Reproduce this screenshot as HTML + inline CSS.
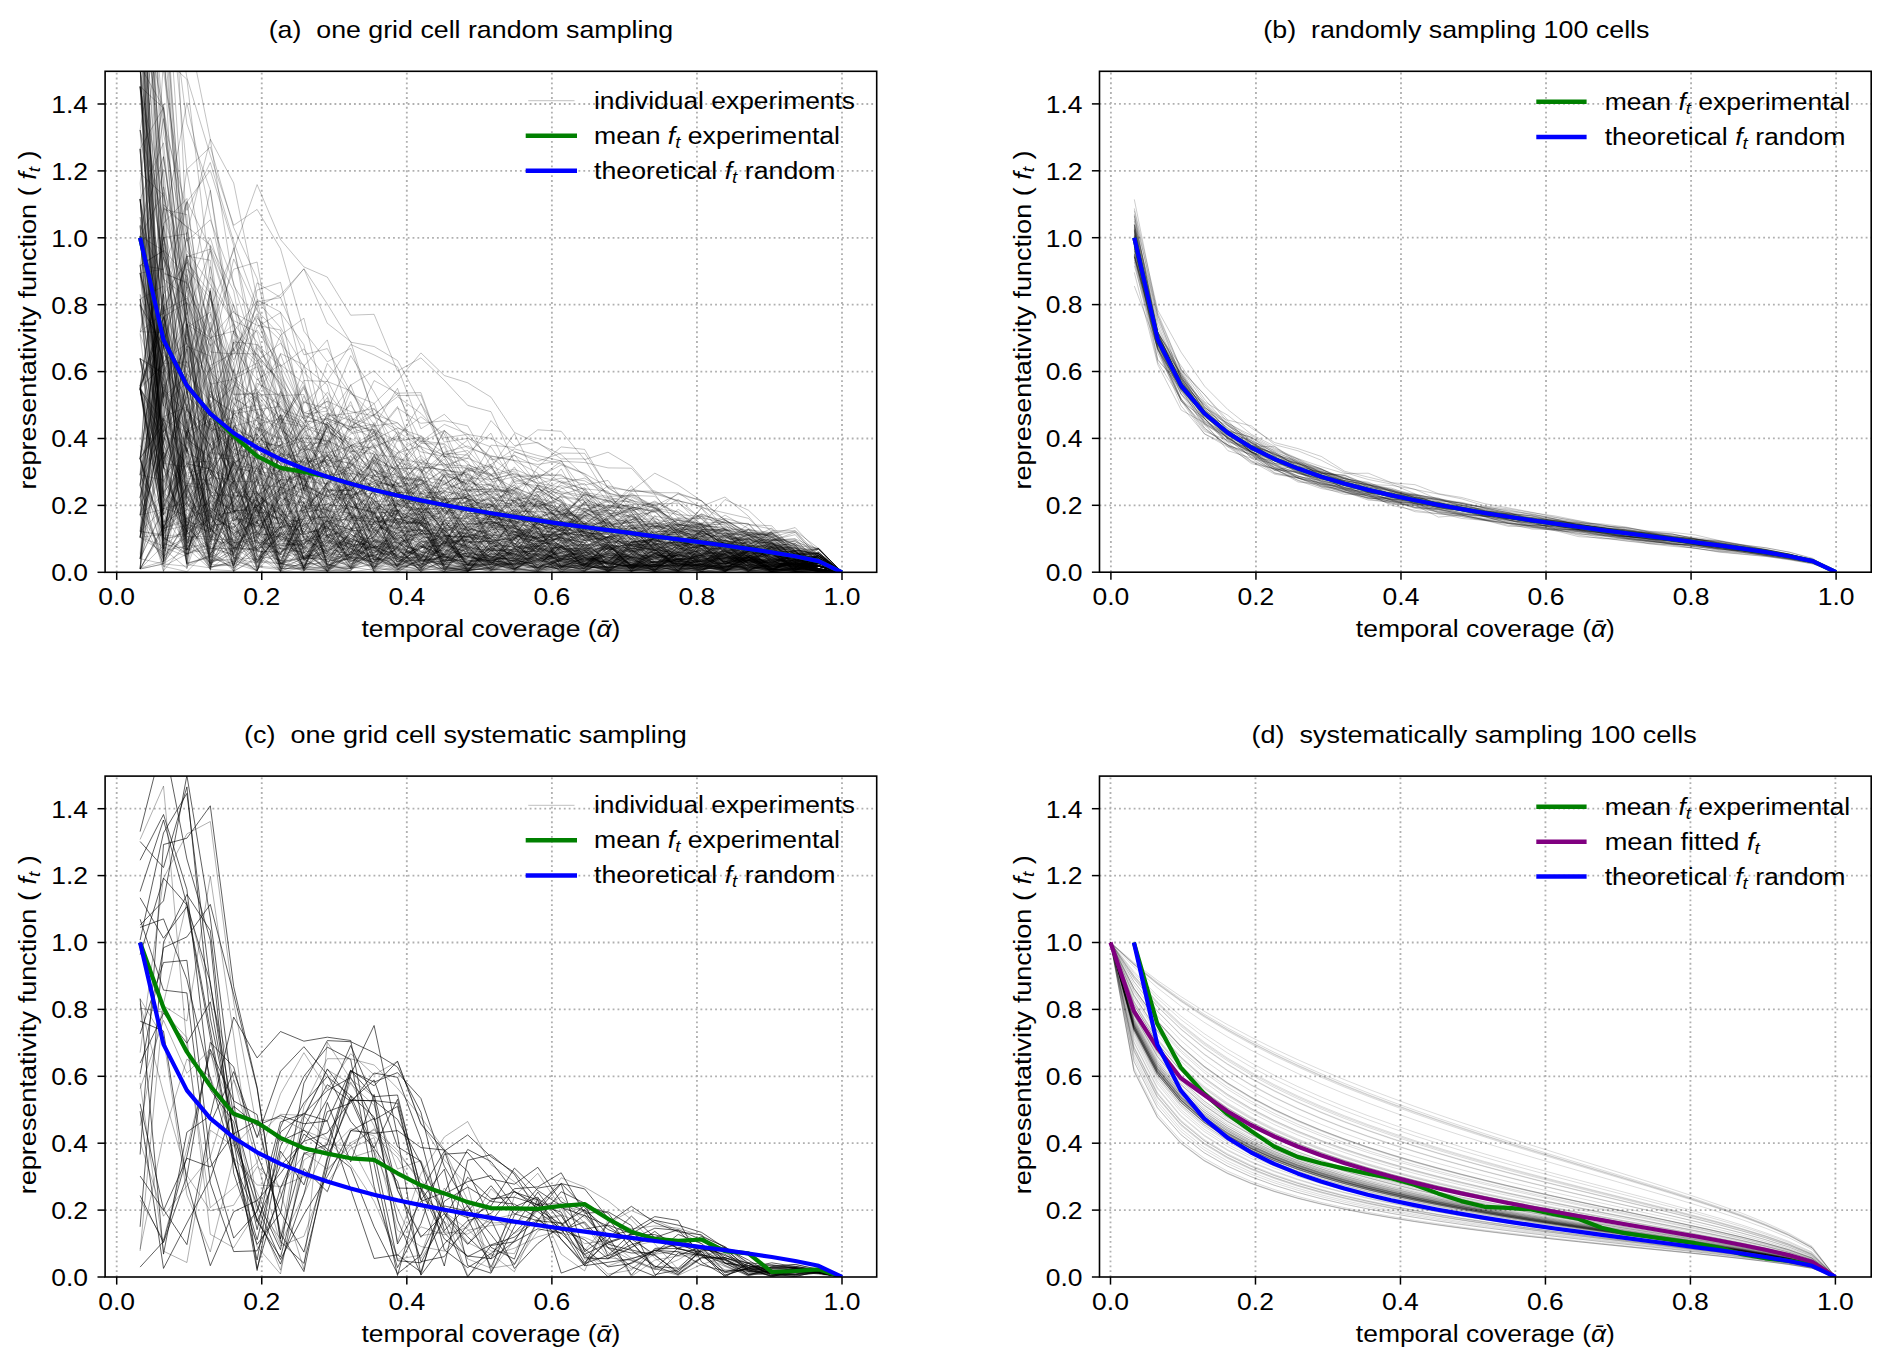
<!DOCTYPE html><html><head><meta charset="utf-8"><style>html,body{margin:0;padding:0;background:#fff;}svg{display:block;}text{font-family:"Liberation Sans", sans-serif;}</style></head><body><svg width="1892" height="1366" viewBox="0 0 1892 1366"><rect width="1892" height="1366" fill="#fff"/><defs><clipPath id="clipa"><rect x="105.10" y="71.30" width="771.60" height="501.00"/></clipPath><clipPath id="clipb"><rect x="1099.50" y="71.30" width="771.70" height="500.90"/></clipPath><clipPath id="clipc"><rect x="105.10" y="776.10" width="771.60" height="500.90"/></clipPath><clipPath id="clipd"><rect x="1099.50" y="776.10" width="771.70" height="500.90"/></clipPath></defs><g stroke="#b0b0b0" stroke-width="1.84" stroke-dasharray="1.84 3.04" fill="none"><line x1="116.70" y1="572.30" x2="116.70" y2="71.30"/><line x1="261.76" y1="572.30" x2="261.76" y2="71.30"/><line x1="406.82" y1="572.30" x2="406.82" y2="71.30"/><line x1="551.88" y1="572.30" x2="551.88" y2="71.30"/><line x1="696.94" y1="572.30" x2="696.94" y2="71.30"/><line x1="842.00" y1="572.30" x2="842.00" y2="71.30"/><line x1="105.10" y1="505.40" x2="876.70" y2="505.40"/><line x1="105.10" y1="438.50" x2="876.70" y2="438.50"/><line x1="105.10" y1="371.60" x2="876.70" y2="371.60"/><line x1="105.10" y1="304.70" x2="876.70" y2="304.70"/><line x1="105.10" y1="237.80" x2="876.70" y2="237.80"/><line x1="105.10" y1="170.90" x2="876.70" y2="170.90"/><line x1="105.10" y1="104.00" x2="876.70" y2="104.00"/></g><g stroke="#b0b0b0" stroke-width="1.84" stroke-dasharray="1.84 3.04" fill="none"><line x1="1110.90" y1="572.20" x2="1110.90" y2="71.30"/><line x1="1255.94" y1="572.20" x2="1255.94" y2="71.30"/><line x1="1400.98" y1="572.20" x2="1400.98" y2="71.30"/><line x1="1546.02" y1="572.20" x2="1546.02" y2="71.30"/><line x1="1691.06" y1="572.20" x2="1691.06" y2="71.30"/><line x1="1836.10" y1="572.20" x2="1836.10" y2="71.30"/><line x1="1099.50" y1="505.30" x2="1871.20" y2="505.30"/><line x1="1099.50" y1="438.40" x2="1871.20" y2="438.40"/><line x1="1099.50" y1="371.50" x2="1871.20" y2="371.50"/><line x1="1099.50" y1="304.60" x2="1871.20" y2="304.60"/><line x1="1099.50" y1="237.70" x2="1871.20" y2="237.70"/><line x1="1099.50" y1="170.80" x2="1871.20" y2="170.80"/><line x1="1099.50" y1="103.90" x2="1871.20" y2="103.90"/></g><g stroke="#b0b0b0" stroke-width="1.84" stroke-dasharray="1.84 3.04" fill="none"><line x1="116.70" y1="1277.00" x2="116.70" y2="776.10"/><line x1="261.76" y1="1277.00" x2="261.76" y2="776.10"/><line x1="406.82" y1="1277.00" x2="406.82" y2="776.10"/><line x1="551.88" y1="1277.00" x2="551.88" y2="776.10"/><line x1="696.94" y1="1277.00" x2="696.94" y2="776.10"/><line x1="842.00" y1="1277.00" x2="842.00" y2="776.10"/><line x1="105.10" y1="1210.10" x2="876.70" y2="1210.10"/><line x1="105.10" y1="1143.20" x2="876.70" y2="1143.20"/><line x1="105.10" y1="1076.30" x2="876.70" y2="1076.30"/><line x1="105.10" y1="1009.40" x2="876.70" y2="1009.40"/><line x1="105.10" y1="942.50" x2="876.70" y2="942.50"/><line x1="105.10" y1="875.60" x2="876.70" y2="875.60"/><line x1="105.10" y1="808.70" x2="876.70" y2="808.70"/></g><g stroke="#b0b0b0" stroke-width="1.84" stroke-dasharray="1.84 3.04" fill="none"><line x1="1110.50" y1="1277.00" x2="1110.50" y2="776.10"/><line x1="1255.48" y1="1277.00" x2="1255.48" y2="776.10"/><line x1="1400.46" y1="1277.00" x2="1400.46" y2="776.10"/><line x1="1545.44" y1="1277.00" x2="1545.44" y2="776.10"/><line x1="1690.42" y1="1277.00" x2="1690.42" y2="776.10"/><line x1="1835.40" y1="1277.00" x2="1835.40" y2="776.10"/><line x1="1099.50" y1="1210.10" x2="1871.20" y2="1210.10"/><line x1="1099.50" y1="1143.20" x2="1871.20" y2="1143.20"/><line x1="1099.50" y1="1076.30" x2="1871.20" y2="1076.30"/><line x1="1099.50" y1="1009.40" x2="1871.20" y2="1009.40"/><line x1="1099.50" y1="942.50" x2="1871.20" y2="942.50"/><line x1="1099.50" y1="875.60" x2="1871.20" y2="875.60"/><line x1="1099.50" y1="808.70" x2="1871.20" y2="808.70"/></g><g clip-path="url(#clipa)"><g fill="none" stroke="#000" stroke-opacity="0.24" stroke-width="1.0" stroke-linejoin="round"><polyline points="140.1,265.3 163.5,269.2 186.9,201.4 210.3,247.5 233.7,305.4 257.1,361.1 280.5,343.2 303.9,372.3 327.3,396 350.7,451 374.1,454.1 397.5,510.1 420.9,523.6 444.3,546.2 467.7,501.6 491,489 514.4,490.5 537.8,499.9 561.2,521.9 584.6,528.2 608,510.1 631.4,485.7 654.8,520.6 678.2,543 701.6,536.8 725,534.5 748.4,542.7 771.8,550.3 795.2,566.3 818.6,565.2 842,572.3"/><polyline points="140.1,531.4 163.5,508.6 186.9,329.7 210.3,436.6 233.7,481.3 257.1,570.2 280.5,522.5 303.9,526.3 327.3,492.9 350.7,482.5 374.1,456.8 397.5,471.2 420.9,511.5 444.3,565.5 467.7,533.5 491,567.6 514.4,561.2 537.8,531.1 561.2,542.9 584.6,558 608,567.6 631.4,564.7 654.8,564.5 678.2,566.3 701.6,570.4 725,562.3 748.4,551.6 771.8,560 795.2,563 818.6,563.4 842,572.3"/><polyline points="140.1,86.5 163.5,195.8 186.9,292.1 210.3,408.8 233.7,330.8 257.1,471.1 280.5,474.9 303.9,492.2 327.3,531.4 350.7,514.2 374.1,547.3 397.5,518.3 420.9,525.2 444.3,515.4 467.7,506.9 491,489.3 514.4,452 537.8,458.5 561.2,463.8 584.6,473.6 608,487 631.4,504.5 654.8,525.8 678.2,531.8 701.6,515.8 725,520.1 748.4,534.5 771.8,553.9 795.2,566.1 818.6,568.5 842,572.3"/><polyline points="140.1,558.7 163.5,344.3 186.9,258.4 210.3,308.4 233.7,422.6 257.1,493.1 280.5,516.8 303.9,534.1 327.3,482 350.7,498.5 374.1,488.3 397.5,502.6 420.9,536.6 444.3,565.9 467.7,568.6 491,564.3 514.4,539.9 537.8,508.3 561.2,511.9 584.6,498.1 608,510.4 631.4,511.4 654.8,501 678.2,515.1 701.6,524.7 725,554.1 748.4,562.7 771.8,559.6 795.2,572 818.6,570.1 842,572.3"/><polyline points="140.1,-144.6 163.5,121.3 186.9,210.4 210.3,162.5 233.7,241.7 257.1,306.4 280.5,294.9 303.9,268.9 327.3,323.3 350.7,341.5 374.1,417.1 397.5,429.8 420.9,494.1 444.3,535.9 467.7,532.5 491,530.3 514.4,543.5 537.8,562.2 561.2,551.5 584.6,569.3 608,570.5 631.4,568.7 654.8,555.9 678.2,552.9 701.6,571.4 725,570.1 748.4,560.1 771.8,570 795.2,555.5 818.6,559.9 842,572.3"/><polyline points="140.1,226.2 163.5,442.6 186.9,323.9 210.3,460.8 233.7,502.6 257.1,523.8 280.5,451.6 303.9,490 327.3,498.8 350.7,487.7 374.1,558.5 397.5,528.5 420.9,546 444.3,534.8 467.7,540 491,563 514.4,556.9 537.8,517.9 561.2,520 584.6,548 608,536.4 631.4,552 654.8,549.1 678.2,567.7 701.6,569.3 725,566.8 748.4,550.6 771.8,571.8 795.2,570.2 818.6,565.2 842,572.3"/><polyline points="140.1,458.6 163.5,537.6 186.9,553.7 210.3,548.1 233.7,554.6 257.1,570.8 280.5,532 303.9,560 327.3,541.8 350.7,530.3 374.1,506.2 397.5,540.5 420.9,563.5 444.3,569.5 467.7,545.4 491,560 514.4,557.3 537.8,563 561.2,567 584.6,558 608,559.6 631.4,560 654.8,529.4 678.2,543.6 701.6,565 725,568.6 748.4,550.8 771.8,543.9 795.2,556.5 818.6,558.2 842,572.3"/><polyline points="140.1,358.5 163.5,467.5 186.9,302.3 210.3,370.6 233.7,349.5 257.1,379.9 280.5,364.6 303.9,383.4 327.3,465.9 350.7,467.9 374.1,483.5 397.5,492 420.9,512.3 444.3,514.1 467.7,495.6 491,494.3 514.4,527.4 537.8,491.3 561.2,501.6 584.6,541 608,518.3 631.4,508.4 654.8,526.2 678.2,520.5 701.6,525.5 725,544.4 748.4,538.5 771.8,549.2 795.2,556.4 818.6,569.4 842,572.3"/><polyline points="140.1,484.5 163.5,341.8 186.9,256.7 210.3,249.1 233.7,320.7 257.1,332.1 280.5,414.4 303.9,471.5 327.3,549.4 350.7,523.4 374.1,566.4 397.5,565.8 420.9,552 444.3,557.6 467.7,544.3 491,518.4 514.4,479.4 537.8,489.4 561.2,493.6 584.6,511.2 608,501.4 631.4,501.2 654.8,522.7 678.2,528.8 701.6,526 725,547.3 748.4,549.7 771.8,557.2 795.2,555.4 818.6,562.1 842,572.3"/><polyline points="140.1,-28.1 163.5,379 186.9,462.2 210.3,461.3 233.7,414.3 257.1,429.5 280.5,439.2 303.9,478.7 327.3,509.9 350.7,521.8 374.1,476.1 397.5,453 420.9,501.2 444.3,500 467.7,503.9 491,508 514.4,514.1 537.8,507.2 561.2,525 584.6,562.1 608,564.2 631.4,566.1 654.8,570.2 678.2,551.9 701.6,533.3 725,538.1 748.4,529.5 771.8,541.7 795.2,554.3 818.6,558.2 842,572.3"/><polyline points="140.1,515.1 163.5,509.1 186.9,414.3 210.3,445.1 233.7,331.6 257.1,301.2 280.5,327.5 303.9,366.5 327.3,384.8 350.7,475.2 374.1,503.5 397.5,546.1 420.9,527.1 444.3,508.9 467.7,492.7 491,521 514.4,528.4 537.8,531.6 561.2,523.9 584.6,554 608,571.4 631.4,569.2 654.8,571 678.2,553.3 701.6,543.4 725,563.9 748.4,560 771.8,553.9 795.2,566.1 818.6,572.2 842,572.3"/><polyline points="140.1,388.7 163.5,509.1 186.9,441.1 210.3,520.6 233.7,461.7 257.1,487 280.5,546.2 303.9,515.3 327.3,517.8 350.7,463.2 374.1,479.9 397.5,488.7 420.9,532.5 444.3,569.7 467.7,541 491,556.9 514.4,553.8 537.8,571.1 561.2,566 584.6,566.5 608,560.1 631.4,552.2 654.8,543.8 678.2,541.3 701.6,554.5 725,550.8 748.4,563 771.8,547.5 795.2,554.7 818.6,558.2 842,572.3"/><polyline points="140.1,484.5 163.5,316 186.9,389.8 210.3,425.2 233.7,417.3 257.1,443.7 280.5,419.3 303.9,385.5 327.3,430 350.7,515.9 374.1,571.4 397.5,566.9 420.9,553.2 444.3,523 467.7,538.5 491,523.9 514.4,531.8 537.8,527.8 561.2,529.4 584.6,512.9 608,531.7 631.4,525.2 654.8,539.1 678.2,526 701.6,525.2 725,553.7 748.4,565.8 771.8,569.5 795.2,571.6 818.6,555.4 842,572.3"/><polyline points="140.1,299 163.5,392.4 186.9,433.3 210.3,471.4 233.7,566.2 257.1,485.1 280.5,486.9 303.9,509.8 327.3,504.1 350.7,492.5 374.1,459.6 397.5,511.2 420.9,541.7 444.3,543.7 467.7,527.8 491,517.2 514.4,522.5 537.8,515 561.2,514.5 584.6,532.7 608,543.3 631.4,512 654.8,540.8 678.2,559.7 701.6,556.6 725,545.7 748.4,564.7 771.8,558.3 795.2,561.8 818.6,560.8 842,572.3"/><polyline points="140.1,388.7 163.5,498 186.9,519.5 210.3,486.9 233.7,506.7 257.1,507.4 280.5,453.5 303.9,457.4 327.3,461.9 350.7,515.3 374.1,545.3 397.5,518.7 420.9,545.8 444.3,554.7 467.7,548.7 491,559.8 514.4,538.6 537.8,528.6 561.2,521.2 584.6,558.4 608,568 631.4,565.1 654.8,564.5 678.2,543.8 701.6,541.4 725,542.7 748.4,553.7 771.8,552.4 795.2,551.6 818.6,568.5 842,572.3"/><polyline points="140.1,537.4 163.5,418.2 186.9,530.8 210.3,569.6 233.7,570.8 257.1,559 280.5,535.7 303.9,557.7 327.3,538.3 350.7,568.4 374.1,522.7 397.5,519.6 420.9,561 444.3,548.5 467.7,554.6 491,554.3 514.4,513.2 537.8,519.7 561.2,538.6 584.6,542.3 608,572.2 631.4,556.6 654.8,570.3 678.2,561.5 701.6,554.9 725,556.1 748.4,571.5 771.8,568.9 795.2,562.6 818.6,566.2 842,572.3"/><polyline points="140.1,130 163.5,-7.3 186.9,288.2 210.3,237.8 233.7,312.9 257.1,325.3 280.5,330 303.9,413.2 327.3,401.2 350.7,411.6 374.1,415.9 397.5,433.7 420.9,497.8 444.3,496.8 467.7,541.9 491,543.6 514.4,523.3 537.8,528 561.2,512.1 584.6,528.8 608,527.3 631.4,537.8 654.8,543.6 678.2,558.8 701.6,571.3 725,570.8 748.4,564.1 771.8,562.2 795.2,556.2 818.6,553.8 842,572.3"/><polyline points="140.1,537.4 163.5,386.8 186.9,346.3 210.3,356.1 233.7,496.5 257.1,492.9 280.5,513.8 303.9,547.8 327.3,520.2 350.7,562.7 374.1,540.8 397.5,483.7 420.9,476.4 444.3,526.1 467.7,524.2 491,521.7 514.4,529.8 537.8,560.3 561.2,546.9 584.6,551 608,546.6 631.4,565.3 654.8,566.2 678.2,570.5 701.6,556.7 725,564.3 748.4,564.5 771.8,566.3 795.2,563.5 818.6,553.8 842,572.3"/><polyline points="140.1,387.2 163.5,453.1 186.9,562.7 210.3,443.6 233.7,536.6 257.1,549.4 280.5,560.8 303.9,515.6 327.3,521.5 350.7,530.1 374.1,547.5 397.5,548.9 420.9,571.7 444.3,559.5 467.7,564.8 491,572.2 514.4,561.4 537.8,572.2 561.2,567.6 584.6,572.1 608,557.8 631.4,568.2 654.8,557 678.2,557.1 701.6,569.6 725,566.9 748.4,555.3 771.8,563.1 795.2,551.5 818.6,569 842,572.3"/><polyline points="140.1,18.7 163.5,432.2 186.9,389.8 210.3,314 233.7,372.6 257.1,521.7 280.5,498.4 303.9,560.5 327.3,545.4 350.7,549.5 374.1,557.6 397.5,566.2 420.9,543.9 444.3,552.2 467.7,528.6 491,533.9 514.4,525.4 537.8,556.1 561.2,551 584.6,556.9 608,554.1 631.4,563.2 654.8,566.1 678.2,558.7 701.6,559.1 725,532 748.4,544.6 771.8,533.2 795.2,545.2 818.6,566.1 842,572.3"/><polyline points="140.1,458.6 163.5,532.9 186.9,421.7 210.3,536.1 233.7,481.2 257.1,481.9 280.5,505.5 303.9,501.7 327.3,563.5 350.7,558.8 374.1,521.4 397.5,520.9 420.9,501.8 444.3,531.6 467.7,522.1 491,513.5 514.4,487.2 537.8,531.8 561.2,531.7 584.6,543 608,524.2 631.4,514 654.8,540.6 678.2,545.5 701.6,554 725,557.3 748.4,570.4 771.8,560.9 795.2,561.2 818.6,561.1 842,572.3"/><polyline points="140.1,569 163.5,526.8 186.9,502.9 210.3,451.9 233.7,456.5 257.1,444.7 280.5,414.9 303.9,423.7 327.3,448.5 350.7,391.5 374.1,424.6 397.5,465.7 420.9,470.8 444.3,497.1 467.7,549.9 491,564.7 514.4,535.4 537.8,568.2 561.2,536.8 584.6,557.2 608,566.7 631.4,547.8 654.8,551.7 678.2,571 701.6,569.7 725,562.7 748.4,561 771.8,561.9 795.2,566.1 818.6,556.1 842,572.3"/><polyline points="140.1,130 163.5,217.6 186.9,435.6 210.3,524.8 233.7,541.1 257.1,531.7 280.5,568.1 303.9,557.8 327.3,559.7 350.7,530.3 374.1,530.9 397.5,549.8 420.9,568 444.3,518.7 467.7,518.4 491,552.2 514.4,528.5 537.8,534.6 561.2,534.4 584.6,531.5 608,567.5 631.4,544.7 654.8,562.2 678.2,555 701.6,558.6 725,564.2 748.4,557.7 771.8,554.1 795.2,561.2 818.6,561.1 842,572.3"/><polyline points="140.1,18.7 163.5,463.6 186.9,384.5 210.3,453.1 233.7,388.5 257.1,299.6 280.5,312.1 303.9,419.7 327.3,443 350.7,418.6 374.1,425.8 397.5,495.9 420.9,504.9 444.3,475 467.7,515.3 491,535.9 514.4,555.7 537.8,562 561.2,556.6 584.6,566.1 608,569.6 631.4,568.1 654.8,568.3 678.2,567.9 701.6,569.2 725,571.9 748.4,562.1 771.8,569.1 795.2,561.8 818.6,562.1 842,572.3"/><polyline points="140.1,236.2 163.5,537.8 186.9,535.7 210.3,566.8 233.7,563.3 257.1,570.7 280.5,517.6 303.9,567.3 327.3,527.6 350.7,543 374.1,499.7 397.5,521.1 420.9,525.3 444.3,544 467.7,525.9 491,563.4 514.4,547.8 537.8,568.4 561.2,567.9 584.6,561.1 608,557 631.4,562.9 654.8,550.1 678.2,568.5 701.6,566.4 725,559.6 748.4,553.1 771.8,560.4 795.2,557.8 818.6,569.8 842,572.3"/><polyline points="140.1,389.2 163.5,327.2 186.9,410 210.3,454 233.7,520.4 257.1,496.1 280.5,457.5 303.9,448.9 327.3,518.9 350.7,512.9 374.1,527.1 397.5,553.7 420.9,548.3 444.3,536.8 467.7,565.4 491,563.6 514.4,547.9 537.8,522.3 561.2,540.7 584.6,559 608,556.5 631.4,568.1 654.8,564.6 678.2,568.6 701.6,571 725,572 748.4,546.2 771.8,560.5 795.2,554.5 818.6,557.6 842,572.3"/><polyline points="140.1,458.6 163.5,294.3 186.9,262.6 210.3,385.8 233.7,482.9 257.1,562.4 280.5,531.4 303.9,566.1 327.3,523.8 350.7,547.4 374.1,556.5 397.5,565.1 420.9,512.2 444.3,529.8 467.7,550.4 491,514.2 514.4,515.6 537.8,503.6 561.2,507.4 584.6,546.5 608,557.9 631.4,555.9 654.8,563.9 678.2,567.9 701.6,571.9 725,571.1 748.4,559.8 771.8,560.7 795.2,567.4 818.6,570.1 842,572.3"/><polyline points="140.1,505.4 163.5,556.3 186.9,536.8 210.3,499.7 233.7,460.8 257.1,535.4 280.5,487.4 303.9,474.9 327.3,484.2 350.7,421.3 374.1,403.6 397.5,380.8 420.9,352.9 444.3,375.5 467.7,382.8 491,397.2 514.4,432.4 537.8,443.4 561.2,454.7 584.6,475.9 608,493.5 631.4,497 654.8,508.2 678.2,523.4 701.6,545.6 725,569.7 748.4,565.6 771.8,572.1 795.2,548.2 818.6,556.1 842,572.3"/><polyline points="140.1,148.9 163.5,562.9 186.9,404.1 210.3,522.9 233.7,510.5 257.1,523.1 280.5,556.6 303.9,553.4 327.3,568.7 350.7,568.7 374.1,537.6 397.5,509.4 420.9,535.2 444.3,544.8 467.7,509.8 491,532.4 514.4,545.7 537.8,558.8 561.2,556.5 584.6,548.2 608,533.3 631.4,544.8 654.8,544.5 678.2,542 701.6,546.2 725,550.6 748.4,566.6 771.8,556.3 795.2,559.2 818.6,563.4 842,572.3"/><polyline points="140.1,236.2 163.5,250.7 186.9,344.3 210.3,447.2 233.7,465.2 257.1,468.6 280.5,536.8 303.9,542.7 327.3,531.9 350.7,466.5 374.1,430.1 397.5,501.7 420.9,484.1 444.3,503.6 467.7,496 491,514.1 514.4,518.4 537.8,515.9 561.2,542.2 584.6,557 608,563.2 631.4,566.6 654.8,555 678.2,559.4 701.6,570.9 725,549.6 748.4,550.3 771.8,548.5 795.2,555.7 818.6,570.4 842,572.3"/><polyline points="140.1,-28.1 163.5,548.9 186.9,348.9 210.3,531.4 233.7,526.2 257.1,498.2 280.5,552.7 303.9,532.2 327.3,507 350.7,555.8 374.1,517.1 397.5,520.6 420.9,510.3 444.3,564.4 467.7,557.3 491,560.8 514.4,556.3 537.8,567.4 561.2,559.3 584.6,557.1 608,543.5 631.4,536.4 654.8,536.4 678.2,538 701.6,554.3 725,544.5 748.4,542.3 771.8,539.9 795.2,543.6 818.6,556.1 842,572.3"/><polyline points="140.1,-144.6 163.5,307.2 186.9,564.4 210.3,404.6 233.7,376.8 257.1,399.8 280.5,418.6 303.9,425.6 327.3,432.3 350.7,442.8 374.1,504.9 397.5,511.7 420.9,493.3 444.3,505.2 467.7,487.3 491,466.1 514.4,501 537.8,494.7 561.2,512.9 584.6,533.2 608,543.8 631.4,565.2 654.8,569.8 678.2,549.7 701.6,539.6 725,543.8 748.4,544.9 771.8,559.2 795.2,563.6 818.6,566.1 842,572.3"/><polyline points="140.1,385.6 163.5,225.8 186.9,465.7 210.3,514.3 233.7,464.5 257.1,527 280.5,527.6 303.9,521.8 327.3,564.8 350.7,569 374.1,552.6 397.5,536.4 420.9,505.2 444.3,470.4 467.7,472.8 491,497.7 514.4,505.4 537.8,505 561.2,513.7 584.6,525.8 608,541 631.4,534 654.8,565.9 678.2,565.6 701.6,561.3 725,559.8 748.4,560.4 771.8,545.7 795.2,543.6 818.6,560.8 842,572.3"/><polyline points="140.1,65.9 163.5,270.3 186.9,555.5 210.3,513 233.7,566.3 257.1,461.6 280.5,479.3 303.9,546.2 327.3,482.4 350.7,509.8 374.1,546.9 397.5,564.5 420.9,547 444.3,554.1 467.7,532.9 491,564.4 514.4,568.9 537.8,567.2 561.2,565.9 584.6,569.1 608,566 631.4,570.3 654.8,565.4 678.2,566.1 701.6,554.4 725,558.5 748.4,567.6 771.8,567 795.2,565.8 818.6,572.2 842,572.3"/><polyline points="140.1,388.7 163.5,527.5 186.9,373.6 210.3,401.6 233.7,510.4 257.1,511.2 280.5,477.2 303.9,476.9 327.3,567.1 350.7,549.3 374.1,568.2 397.5,547.2 420.9,571.9 444.3,541.1 467.7,561.4 491,559.9 514.4,535.7 537.8,538.5 561.2,503.7 584.6,511.5 608,512.5 631.4,540.4 654.8,545 678.2,532.1 701.6,542.3 725,543.6 748.4,548.8 771.8,567 795.2,568.2 818.6,566.1 842,572.3"/><polyline points="140.1,389.2 163.5,557 186.9,524.2 210.3,531.6 233.7,419.7 257.1,389.1 280.5,424.8 303.9,466.2 327.3,431 350.7,445.4 374.1,448.1 397.5,435.7 420.9,451.9 444.3,456.4 467.7,493.6 491,543.4 514.4,543 537.8,565.4 561.2,563.6 584.6,568.4 608,567.2 631.4,554.2 654.8,570 678.2,554.3 701.6,558.5 725,558.5 748.4,538.5 771.8,546.4 795.2,557.6 818.6,563.4 842,572.3"/><polyline points="140.1,515.1 163.5,394.1 186.9,524.7 210.3,555.3 233.7,568.4 257.1,475.5 280.5,515.8 303.9,524.6 327.3,542.5 350.7,545.8 374.1,485.1 397.5,485.1 420.9,497 444.3,515.5 467.7,556.2 491,564.1 514.4,563.9 537.8,562.1 561.2,560.8 584.6,565.9 608,570.8 631.4,558.8 654.8,567.3 678.2,564.3 701.6,544.3 725,571.6 748.4,557.3 771.8,571 795.2,562 818.6,556.1 842,572.3"/><polyline points="140.1,265.3 163.5,482.9 186.9,526.3 210.3,491.9 233.7,497.7 257.1,522.6 280.5,486.9 303.9,498 327.3,526.8 350.7,569 374.1,563.2 397.5,504.2 420.9,502.7 444.3,531.7 467.7,533.5 491,539.5 514.4,552.2 537.8,567.8 561.2,558.4 584.6,563.4 608,551.1 631.4,526.9 654.8,550.9 678.2,536.2 701.6,539.1 725,563.5 748.4,555.9 771.8,552.4 795.2,559.5 818.6,569 842,572.3"/><polyline points="140.1,358.5 163.5,379 186.9,558.8 210.3,461 233.7,543.1 257.1,536.8 280.5,554.3 303.9,487.3 327.3,503.1 350.7,509.7 374.1,561.4 397.5,502.6 420.9,479.3 444.3,499 467.7,498 491,546.1 514.4,565.7 537.8,559.7 561.2,565.5 584.6,552.5 608,549.9 631.4,542.5 654.8,562.2 678.2,564.3 701.6,564.1 725,557.4 748.4,564.8 771.8,569.8 795.2,568.6 818.6,561.1 842,572.3"/><polyline points="140.1,569 163.5,563.9 186.9,495.4 210.3,528.9 233.7,500.9 257.1,562.7 280.5,494.6 303.9,481.2 327.3,483.9 350.7,466 374.1,444.2 397.5,512.8 420.9,474.8 444.3,430.5 467.7,480 491,491.2 514.4,491.6 537.8,501.5 561.2,519.6 584.6,503.6 608,485.8 631.4,491.3 654.8,491 678.2,502 701.6,525.1 725,528.5 748.4,545.8 771.8,557.7 795.2,564.6 818.6,568.5 842,572.3"/><polyline points="140.1,537.4 163.5,545.9 186.9,527.7 210.3,433 233.7,406.2 257.1,318.1 280.5,340.5 303.9,416.1 327.3,495 350.7,494.1 374.1,541.4 397.5,518.4 420.9,543.1 444.3,564.7 467.7,565 491,564.6 514.4,568.5 537.8,558.4 561.2,553.1 584.6,560.5 608,559.1 631.4,562.7 654.8,571.1 678.2,559 701.6,566.8 725,539.5 748.4,553.1 771.8,551.2 795.2,544.5 818.6,562.3 842,572.3"/><polyline points="140.1,265.3 163.5,367.3 186.9,406.4 210.3,458.1 233.7,370.2 257.1,453.8 280.5,475.7 303.9,432.5 327.3,418.3 350.7,385.2 374.1,370.7 397.5,395.6 420.9,395.1 444.3,457.4 467.7,440.1 491,480.1 514.4,472.9 537.8,483.2 561.2,487.2 584.6,505.1 608,505.1 631.4,510.8 654.8,531.9 678.2,530.5 701.6,527.6 725,522.2 748.4,523.9 771.8,547.1 795.2,559.5 818.6,566.2 842,572.3"/><polyline points="140.1,199.1 163.5,341.8 186.9,521 210.3,548.1 233.7,409.6 257.1,344.4 280.5,389.4 303.9,465.2 327.3,453.3 350.7,483.5 374.1,451.4 397.5,484.2 420.9,505.4 444.3,559.8 467.7,556.1 491,555.8 514.4,567.5 537.8,543.5 561.2,529.3 584.6,532.1 608,537.6 631.4,551.3 654.8,548 678.2,556.6 701.6,567.9 725,561 748.4,557.2 771.8,569.7 795.2,571.2 818.6,571.1 842,572.3"/><polyline points="140.1,388.7 163.5,237.6 186.9,233.8 210.3,139.2 233.7,285.7 257.1,322.3 280.5,371.9 303.9,420.3 327.3,424.6 350.7,481.7 374.1,456 397.5,493.7 420.9,502.9 444.3,544 467.7,552.4 491,556.4 514.4,560.7 537.8,549.4 561.2,546.7 584.6,563.3 608,567.9 631.4,568.2 654.8,564.6 678.2,554.6 701.6,555.5 725,556.6 748.4,555.9 771.8,546.8 795.2,562.9 818.6,569.4 842,572.3"/><polyline points="140.1,236.2 163.5,537.8 186.9,553.9 210.3,483.7 233.7,516.3 257.1,499.5 280.5,549 303.9,552.3 327.3,536.1 350.7,484.4 374.1,500.2 397.5,521.8 420.9,516.9 444.3,534 467.7,564.8 491,547.7 514.4,554.3 537.8,553.4 561.2,566.9 584.6,558 608,571.3 631.4,564.9 654.8,569.4 678.2,554 701.6,562.1 725,570.7 748.4,560.6 771.8,559 795.2,561.8 818.6,570.9 842,572.3"/><polyline points="140.1,569 163.5,563.9 186.9,566.3 210.3,554.9 233.7,501.6 257.1,463.5 280.5,563.2 303.9,568.1 327.3,547.8 350.7,539 374.1,548 397.5,534.8 420.9,554.1 444.3,568.5 467.7,568.2 491,564.3 514.4,563.7 537.8,525.6 561.2,547.7 584.6,552.7 608,537.6 631.4,559.3 654.8,556.1 678.2,555.1 701.6,543.5 725,563.3 748.4,568.2 771.8,558.2 795.2,565.1 818.6,563.4 842,572.3"/><polyline points="140.1,148.9 163.5,107.4 186.9,324 210.3,432 233.7,548.5 257.1,521.4 280.5,566.5 303.9,565.2 327.3,570.3 350.7,546.7 374.1,494.5 397.5,496.2 420.9,518.5 444.3,530.5 467.7,513.3 491,514.4 514.4,539.8 537.8,522.9 561.2,521 584.6,488.8 608,491.1 631.4,527.4 654.8,533.2 678.2,535.4 701.6,524.6 725,529 748.4,548.6 771.8,559 795.2,553.1 818.6,553.8 842,572.3"/><polyline points="140.1,273.1 163.5,466.6 186.9,506.4 210.3,396.2 233.7,414.1 257.1,394.9 280.5,394.1 303.9,430.6 327.3,484.8 350.7,520.3 374.1,521.3 397.5,541 420.9,539 444.3,517.3 467.7,481 491,517 514.4,520.5 537.8,484.8 561.2,500.6 584.6,531.9 608,524.9 631.4,522.7 654.8,556 678.2,572.2 701.6,569.4 725,563.3 748.4,547.9 771.8,547.6 795.2,550.7 818.6,557.6 842,572.3"/><polyline points="140.1,199.1 163.5,142.8 186.9,377.1 210.3,434.6 233.7,481.7 257.1,532.1 280.5,465.5 303.9,479.2 327.3,455.5 350.7,485.5 374.1,476.4 397.5,477.2 420.9,458.7 444.3,491.5 467.7,468.7 491,482.2 514.4,476.8 537.8,492.4 561.2,480.8 584.6,489.8 608,527.8 631.4,532.9 654.8,553.9 678.2,552.9 701.6,529.7 725,529.1 748.4,551.2 771.8,559.6 795.2,560.5 818.6,569.8 842,572.3"/><polyline points="140.1,515.1 163.5,550.5 186.9,546.1 210.3,477.9 233.7,479.4 257.1,424.3 280.5,418.8 303.9,498.7 327.3,469.5 350.7,514.4 374.1,530 397.5,548.8 420.9,557.4 444.3,554.5 467.7,555.5 491,562.7 514.4,570.6 537.8,534.1 561.2,524.8 584.6,523.5 608,522.6 631.4,538.8 654.8,516.2 678.2,520.3 701.6,542.6 725,529.4 748.4,541.1 771.8,563.6 795.2,556.7 818.6,566.1 842,572.3"/><polyline points="140.1,458.6 163.5,513.8 186.9,550.2 210.3,502.3 233.7,543.6 257.1,515.3 280.5,571.4 303.9,502.3 327.3,489.7 350.7,490.5 374.1,457.7 397.5,470.2 420.9,531.5 444.3,538.5 467.7,547.2 491,551.4 514.4,562.2 537.8,542 561.2,533.8 584.6,535.1 608,549.9 631.4,564.8 654.8,553.3 678.2,546.3 701.6,543.9 725,559.4 748.4,569.7 771.8,571.6 795.2,564.3 818.6,570.1 842,572.3"/><polyline points="140.1,-122.2 163.5,57 186.9,258 210.3,429.9 233.7,398.5 257.1,411.2 280.5,472.4 303.9,446.5 327.3,440.1 350.7,460.8 374.1,511.2 397.5,568.6 420.9,560.1 444.3,556.2 467.7,557.1 491,536.4 514.4,540.9 537.8,553 561.2,568.3 584.6,538.4 608,515.9 631.4,540.6 654.8,550 678.2,551.5 701.6,548.8 725,556.8 748.4,566.7 771.8,568.9 795.2,570.2 818.6,565.2 842,572.3"/><polyline points="140.1,-28.1 163.5,180.5 186.9,550.1 210.3,495.6 233.7,494.7 257.1,500.8 280.5,467.2 303.9,427.4 327.3,413.1 350.7,430.4 374.1,462.7 397.5,494.1 420.9,534.2 444.3,532.8 467.7,572.3 491,540.7 514.4,562.9 537.8,568.3 561.2,558.7 584.6,565.1 608,556.1 631.4,548.4 654.8,553.2 678.2,558.1 701.6,560 725,553.4 748.4,565.2 771.8,565.4 795.2,563.3 818.6,569.8 842,572.3"/><polyline points="140.1,236.2 163.5,104 186.9,331.4 210.3,513.1 233.7,566.3 257.1,506.8 280.5,569.4 303.9,483 327.3,572 350.7,553.9 374.1,527.6 397.5,528.4 420.9,517.7 444.3,521.9 467.7,530.2 491,527.4 514.4,527.7 537.8,540.4 561.2,560.3 584.6,556 608,542.6 631.4,541.3 654.8,550.6 678.2,552.1 701.6,555.6 725,536.8 748.4,541.3 771.8,562.2 795.2,566.5 818.6,557.6 842,572.3"/><polyline points="140.1,-28.1 163.5,405.7 186.9,428.7 210.3,468 233.7,429 257.1,464.1 280.5,529 303.9,557.5 327.3,523.9 350.7,517.4 374.1,514.4 397.5,478.8 420.9,492.6 444.3,493 467.7,544.6 491,563.4 514.4,566.3 537.8,566.5 561.2,568 584.6,554.3 608,563.8 631.4,561.1 654.8,566.8 678.2,559.3 701.6,572.1 725,553 748.4,551.6 771.8,566.7 795.2,568.1 818.6,565.2 842,572.3"/><polyline points="140.1,65.9 163.5,107.4 186.9,386.7 210.3,461.5 233.7,484.3 257.1,383.3 280.5,396.3 303.9,441.5 327.3,505.1 350.7,506.1 374.1,508.4 397.5,510.8 420.9,558.2 444.3,534.2 467.7,513.7 491,504 514.4,525.6 537.8,545.3 561.2,537 584.6,543.1 608,560.5 631.4,569.4 654.8,557.9 678.2,569.9 701.6,550.6 725,554 748.4,547.8 771.8,551.8 795.2,555.1 818.6,571.8 842,572.3"/><polyline points="140.1,-28.1 163.5,445.1 186.9,488.6 210.3,537.9 233.7,507.5 257.1,467.1 280.5,508.6 303.9,453.2 327.3,520.5 350.7,547 374.1,524.5 397.5,513.2 420.9,538.3 444.3,534.5 467.7,542 491,541.7 514.4,554.3 537.8,556.1 561.2,534.7 584.6,572.2 608,569 631.4,560.1 654.8,559.9 678.2,541.9 701.6,545.5 725,571.4 748.4,560.4 771.8,570.5 795.2,567.5 818.6,569 842,572.3"/><polyline points="140.1,265.3 163.5,250.7 186.9,387.2 210.3,544 233.7,541.5 257.1,562.3 280.5,514.3 303.9,519.9 327.3,556 350.7,520.4 374.1,459.9 397.5,484.8 420.9,499.1 444.3,534.5 467.7,570.8 491,563.8 514.4,564.1 537.8,554.3 561.2,558.2 584.6,555.2 608,564.7 631.4,552.9 654.8,557.6 678.2,555.4 701.6,536.6 725,549.5 748.4,529.8 771.8,532.6 795.2,554.7 818.6,549.2 842,572.3"/><polyline points="140.1,497.6 163.5,356.4 186.9,477.2 210.3,470 233.7,483.4 257.1,509.4 280.5,479.4 303.9,478.8 327.3,538.3 350.7,523.4 374.1,547.3 397.5,542.2 420.9,551.2 444.3,539.4 467.7,541.8 491,541.2 514.4,569.1 537.8,572.2 561.2,558.3 584.6,553.4 608,545.4 631.4,565.9 654.8,565.1 678.2,563.7 701.6,544.6 725,538.6 748.4,539.3 771.8,528.2 795.2,550.4 818.6,561.1 842,572.3"/><polyline points="140.1,65.9 163.5,492.1 186.9,463.8 210.3,469 233.7,509.2 257.1,550.2 280.5,526.9 303.9,518.4 327.3,516.9 350.7,521.1 374.1,550.6 397.5,556.9 420.9,557.8 444.3,542.9 467.7,522.4 491,506.3 514.4,507.8 537.8,501 561.2,508.7 584.6,525.3 608,513.2 631.4,516.1 654.8,526.5 678.2,524.8 701.6,524.4 725,499.5 748.4,510.2 771.8,532.1 795.2,532.3 818.6,557.6 842,572.3"/><polyline points="140.1,389.2 163.5,477.3 186.9,447.7 210.3,539.1 233.7,545.4 257.1,479 280.5,549.9 303.9,563.5 327.3,564.1 350.7,570.7 374.1,551.4 397.5,547.6 420.9,506.9 444.3,541.8 467.7,546.2 491,566.5 514.4,559.7 537.8,541.7 561.2,547.3 584.6,565.8 608,569.7 631.4,564.6 654.8,566.7 678.2,563.3 701.6,571.1 725,554.2 748.4,536.8 771.8,537.6 795.2,559.5 818.6,569 842,572.3"/><polyline points="140.1,558.7 163.5,563.9 186.9,528.8 210.3,454.8 233.7,339.4 257.1,362 280.5,422.6 303.9,388.4 327.3,429.2 350.7,451 374.1,493.5 397.5,536.9 420.9,546.4 444.3,561.7 467.7,564.7 491,548.5 514.4,517.3 537.8,523.6 561.2,530.7 584.6,547.7 608,564.9 631.4,570.9 654.8,570.8 678.2,552.7 701.6,560.9 725,549.5 748.4,564.2 771.8,554.5 795.2,561.5 818.6,563.2 842,572.3"/><polyline points="140.1,18.7 163.5,-62.9 186.9,123.9 210.3,190.1 233.7,333.8 257.1,354.6 280.5,446.2 303.9,415.3 327.3,466 350.7,428 374.1,424.3 397.5,462.2 420.9,469.7 444.3,519.9 467.7,527.2 491,535.4 514.4,548.6 537.8,525.3 561.2,524.3 584.6,528.4 608,520.3 631.4,507 654.8,511.6 678.2,535.2 701.6,564.5 725,568.5 748.4,565.4 771.8,572.2 795.2,572.1 818.6,563.4 842,572.3"/><polyline points="140.1,65.9 163.5,410.9 186.9,564.5 210.3,567.9 233.7,560.9 257.1,500.6 280.5,447.7 303.9,538.3 327.3,551.7 350.7,548.5 374.1,533.7 397.5,567.2 420.9,523.6 444.3,524.6 467.7,535.3 491,551 514.4,548.9 537.8,544.8 561.2,550.8 584.6,535.1 608,523.9 631.4,551.2 654.8,555.1 678.2,556.3 701.6,544.7 725,556 748.4,545.6 771.8,546.6 795.2,553.9 818.6,566.2 842,572.3"/><polyline points="140.1,531.4 163.5,419.7 186.9,432.7 210.3,526.9 233.7,520.1 257.1,517.7 280.5,423.1 303.9,480.1 327.3,567.5 350.7,566.9 374.1,570.5 397.5,530.1 420.9,540 444.3,555.4 467.7,531.7 491,537.8 514.4,534.7 537.8,538.7 561.2,540.3 584.6,551.2 608,568.3 631.4,553.2 654.8,566.5 678.2,559.1 701.6,549 725,542.7 748.4,554.9 771.8,565.3 795.2,565.1 818.6,558.2 842,572.3"/><polyline points="140.1,265.3 163.5,425.6 186.9,499.4 210.3,516.4 233.7,547.1 257.1,550.7 280.5,518.4 303.9,548.1 327.3,571.4 350.7,538.5 374.1,522.2 397.5,533.6 420.9,516 444.3,539.5 467.7,516.8 491,539 514.4,543.4 537.8,563.7 561.2,548.9 584.6,548.3 608,529.3 631.4,528.6 654.8,534.4 678.2,540.7 701.6,534.5 725,563.5 748.4,538.1 771.8,532.8 795.2,550.9 818.6,570.1 842,572.3"/><polyline points="140.1,65.9 163.5,562 186.9,532.9 210.3,463.5 233.7,341.8 257.1,344.6 280.5,366.5 303.9,348.9 327.3,380.1 350.7,426.7 374.1,429.6 397.5,441.2 420.9,437 444.3,468.1 467.7,477.8 491,479.5 514.4,520.3 537.8,540.2 561.2,546.5 584.6,529.1 608,518.4 631.4,522.5 654.8,520.8 678.2,530.7 701.6,545.8 725,539.8 748.4,524.6 771.8,525.8 795.2,551.4 818.6,566.2 842,572.3"/><polyline points="140.1,569 163.5,437.3 186.9,507.2 210.3,477.7 233.7,429.4 257.1,438.8 280.5,474.1 303.9,568.6 327.3,508.9 350.7,552.5 374.1,508.3 397.5,519.2 420.9,524.3 444.3,541 467.7,557.3 491,514.8 514.4,546.8 537.8,531.2 561.2,517.6 584.6,533.7 608,539.7 631.4,566.3 654.8,564.8 678.2,547.5 701.6,555.8 725,571.1 748.4,569.8 771.8,562.3 795.2,563.9 818.6,570.4 842,572.3"/><polyline points="140.1,388.7 163.5,316.9 186.9,302.3 210.3,355.5 233.7,468 257.1,496.6 280.5,509.3 303.9,537.8 327.3,565.6 350.7,556.6 374.1,511.9 397.5,513.6 420.9,485.5 444.3,469.8 467.7,509 491,517.6 514.4,509.9 537.8,528.2 561.2,536.5 584.6,508.2 608,521.5 631.4,519.9 654.8,510.3 678.2,535.9 701.6,530 725,530.3 748.4,532 771.8,536.6 795.2,553 818.6,566.1 842,572.3"/><polyline points="140.1,-122.2 163.5,207.6 186.9,310.1 210.3,397.6 233.7,347.8 257.1,459 280.5,427.1 303.9,453.6 327.3,487.2 350.7,445.1 374.1,439.7 397.5,428 420.9,435.9 444.3,464.7 467.7,466.1 491,486.1 514.4,497.9 537.8,532.8 561.2,553.1 584.6,566.3 608,563.4 631.4,567.2 654.8,568 678.2,546.5 701.6,532.6 725,541.2 748.4,535.5 771.8,540.3 795.2,551.7 818.6,572.2 842,572.3"/><polyline points="140.1,273.1 163.5,535.3 186.9,484.9 210.3,553 233.7,539.6 257.1,493.8 280.5,444.6 303.9,468.9 327.3,413.7 350.7,430.9 374.1,380.6 397.5,393.2 420.9,392.6 444.3,456.6 467.7,493.8 491,520.4 514.4,534.2 537.8,548.2 561.2,555.5 584.6,564 608,569 631.4,570.8 654.8,546.8 678.2,547.7 701.6,538 725,558.8 748.4,556.5 771.8,563.6 795.2,571.2 818.6,569.4 842,572.3"/><polyline points="140.1,305.1 163.5,346.9 186.9,260.1 210.3,359.8 233.7,258.9 257.1,310.6 280.5,335.5 303.9,403.4 327.3,380.7 350.7,344.5 374.1,354.9 397.5,366.8 420.9,428.8 444.3,414.3 467.7,437.3 491,457.2 514.4,504.8 537.8,498.3 561.2,504.3 584.6,524.5 608,550.9 631.4,542.2 654.8,561.9 678.2,566.4 701.6,568 725,565.9 748.4,568.6 771.8,569.2 795.2,560 818.6,562.3 842,572.3"/><polyline points="140.1,-28.1 163.5,493.3 186.9,509.6 210.3,503.4 233.7,463.7 257.1,446.2 280.5,463.7 303.9,530.2 327.3,568.2 350.7,571.9 374.1,568.8 397.5,569.9 420.9,560.4 444.3,556.7 467.7,563.5 491,568.9 514.4,564.6 537.8,551.4 561.2,534.8 584.6,502 608,528.4 631.4,538.8 654.8,536 678.2,524.7 701.6,527.2 725,518.4 748.4,524.6 771.8,529 795.2,555.2 818.6,553.8 842,572.3"/><polyline points="140.1,-122.2 163.5,501.8 186.9,471.8 210.3,443.5 233.7,506.6 257.1,527 280.5,507.3 303.9,558.7 327.3,555.7 350.7,538.7 374.1,517.5 397.5,514.7 420.9,540.2 444.3,549.4 467.7,571.2 491,550 514.4,550.5 537.8,545.4 561.2,569.1 584.6,571 608,536.9 631.4,552.1 654.8,552.9 678.2,550.6 701.6,554.9 725,567.4 748.4,565.1 771.8,561.2 795.2,567.9 818.6,570.4 842,572.3"/><polyline points="140.1,458.6 163.5,558.8 186.9,520.3 210.3,500.7 233.7,509.5 257.1,564.5 280.5,538.9 303.9,558.2 327.3,559.4 350.7,553.9 374.1,552.4 397.5,555.2 420.9,530.7 444.3,548.9 467.7,530 491,544.2 514.4,556.7 537.8,519 561.2,526.4 584.6,564.5 608,563 631.4,559.1 654.8,556.8 678.2,559.8 701.6,564.2 725,543.2 748.4,560 771.8,547.1 795.2,565.5 818.6,569.8 842,572.3"/><polyline points="140.1,474.8 163.5,344.3 186.9,391 210.3,483 233.7,568.1 257.1,545.3 280.5,541 303.9,540.5 327.3,520.9 350.7,530.1 374.1,502.5 397.5,492.9 420.9,505.7 444.3,475.7 467.7,500.4 491,500.7 514.4,500.5 537.8,528 561.2,566.9 584.6,552.1 608,558.5 631.4,559.3 654.8,568.6 678.2,568.1 701.6,564 725,570 748.4,553.7 771.8,568.8 795.2,569.4 818.6,562.3 842,572.3"/><polyline points="140.1,236.2 163.5,441.6 186.9,523 210.3,467 233.7,386.8 257.1,510 280.5,568.3 303.9,567.4 327.3,567 350.7,567.9 374.1,559.5 397.5,548.7 420.9,567 444.3,526 467.7,569.2 491,550.2 514.4,567.2 537.8,572.2 561.2,562.6 584.6,559.4 608,562.8 631.4,554.1 654.8,553.4 678.2,561.8 701.6,550.3 725,551.6 748.4,566.2 771.8,559.9 795.2,557 818.6,570.9 842,572.3"/><polyline points="140.1,385.6 163.5,329.3 186.9,534.7 210.3,394 233.7,430.3 257.1,571.1 280.5,501 303.9,565.2 327.3,556.3 350.7,565.4 374.1,528.2 397.5,503.1 420.9,515.9 444.3,543.9 467.7,540 491,537.8 514.4,511.3 537.8,538.2 561.2,530.2 584.6,546 608,564.3 631.4,565.3 654.8,569.7 678.2,567.1 701.6,565.9 725,554.4 748.4,553.5 771.8,552.1 795.2,559.2 818.6,568.5 842,572.3"/><polyline points="140.1,484.5 163.5,355.4 186.9,366.5 210.3,428.2 233.7,434.3 257.1,541.7 280.5,535.4 303.9,552.2 327.3,569.8 350.7,519.2 374.1,522.8 397.5,534.1 420.9,558.1 444.3,545.9 467.7,547.4 491,567.7 514.4,525.8 537.8,501.4 561.2,521.3 584.6,501.7 608,533.6 631.4,567 654.8,564.3 678.2,572.2 701.6,561.7 725,563.5 748.4,565.1 771.8,565.9 795.2,566.9 818.6,570.4 842,572.3"/><polyline points="140.1,148.9 163.5,541.1 186.9,490.7 210.3,454.2 233.7,408.6 257.1,481.5 280.5,502.6 303.9,558.2 327.3,550.2 350.7,533.7 374.1,553.9 397.5,527.4 420.9,528.2 444.3,562.9 467.7,529.8 491,513.8 514.4,523.9 537.8,541.4 561.2,537.9 584.6,548.9 608,548.1 631.4,570.3 654.8,566.3 678.2,537.6 701.6,541.6 725,557.2 748.4,558.2 771.8,561.9 795.2,564.8 818.6,572.2 842,572.3"/><polyline points="140.1,537.4 163.5,416.7 186.9,406.9 210.3,337.7 233.7,446 257.1,347.6 280.5,379.2 303.9,490.1 327.3,529.6 350.7,485.3 374.1,482.9 397.5,484.8 420.9,462.8 444.3,465.3 467.7,458.2 491,467.9 514.4,503.8 537.8,518 561.2,530.5 584.6,528.2 608,550.4 631.4,565.9 654.8,553.1 678.2,567.6 701.6,571.7 725,561.4 748.4,570.3 771.8,570.9 795.2,569 818.6,569.4 842,572.3"/><polyline points="140.1,458.6 163.5,423.7 186.9,492.3 210.3,390.8 233.7,435.3 257.1,443.5 280.5,460 303.9,427.4 327.3,436 350.7,483.3 374.1,484.6 397.5,527.2 420.9,560.5 444.3,564.1 467.7,567.7 491,561.9 514.4,560.5 537.8,545.9 561.2,565.5 584.6,561.5 608,548.4 631.4,529.4 654.8,523.2 678.2,550.3 701.6,529 725,550.1 748.4,562.1 771.8,562.3 795.2,555.3 818.6,562.1 842,572.3"/><polyline points="140.1,358.5 163.5,426 186.9,504 210.3,530.2 233.7,546.1 257.1,534.2 280.5,491.6 303.9,535.1 327.3,525.7 350.7,561.1 374.1,530.6 397.5,524.6 420.9,522.5 444.3,569 467.7,564.7 491,570.6 514.4,549 537.8,569.8 561.2,540.8 584.6,533.1 608,568 631.4,568.1 654.8,564.5 678.2,559.6 701.6,552.7 725,560.7 748.4,563.2 771.8,564.8 795.2,566.5 818.6,566.2 842,572.3"/><polyline points="140.1,558.7 163.5,322.6 186.9,538.7 210.3,563.8 233.7,542.4 257.1,551.7 280.5,551.8 303.9,540.2 327.3,564.5 350.7,571 374.1,527.5 397.5,560 420.9,567.2 444.3,554.3 467.7,558.2 491,561.3 514.4,571.9 537.8,552 561.2,549.1 584.6,528.2 608,546.3 631.4,561 654.8,564.7 678.2,561.4 701.6,554.1 725,551.4 748.4,563.6 771.8,567.4 795.2,548.5 818.6,549.2 842,572.3"/><polyline points="140.1,531.4 163.5,371.6 186.9,254 210.3,408.4 233.7,495.8 257.1,497.4 280.5,568.6 303.9,568.4 327.3,521.8 350.7,455.2 374.1,520.4 397.5,527.6 420.9,530.8 444.3,528.4 467.7,525.5 491,540.1 514.4,526.3 537.8,567.4 561.2,558 584.6,563.6 608,568.1 631.4,561 654.8,562.1 678.2,554.9 701.6,564.1 725,552.6 748.4,560.2 771.8,542.6 795.2,556.4 818.6,568.5 842,572.3"/><polyline points="140.1,199.1 163.5,328.9 186.9,534.5 210.3,519.5 233.7,462.9 257.1,450 280.5,530.6 303.9,559 327.3,530.2 350.7,564.3 374.1,540.7 397.5,566.1 420.9,524.6 444.3,532.8 467.7,507.2 491,507.7 514.4,481.7 537.8,476.5 561.2,492.8 584.6,497.5 608,527.4 631.4,515.5 654.8,525.9 678.2,524.3 701.6,529.7 725,529.8 748.4,534.1 771.8,535.6 795.2,561.6 818.6,560.8 842,572.3"/><polyline points="140.1,485.7 163.5,257.1 186.9,339.9 210.3,474.7 233.7,397.1 257.1,413.9 280.5,484.5 303.9,468.8 327.3,459.9 350.7,433.8 374.1,429.5 397.5,457 420.9,470.3 444.3,527.2 467.7,570.2 491,555.6 514.4,540.5 537.8,547.1 561.2,526.2 584.6,523.6 608,538.6 631.4,545.3 654.8,565.7 678.2,566.1 701.6,559.1 725,560.1 748.4,571.2 771.8,555.2 795.2,569.7 818.6,571.1 842,572.3"/><polyline points="140.1,537.4 163.5,346.9 186.9,435.6 210.3,290.6 233.7,414.1 257.1,556.2 280.5,559.9 303.9,569.8 327.3,513 350.7,546.3 374.1,541.4 397.5,559.3 420.9,561.3 444.3,558 467.7,562.6 491,558.5 514.4,570.3 537.8,570.2 561.2,565.7 584.6,543.9 608,559.9 631.4,564.9 654.8,549 678.2,567.6 701.6,560.4 725,564.2 748.4,556.6 771.8,569.4 795.2,571.2 818.6,562.3 842,572.3"/><polyline points="140.1,458.6 163.5,423.7 186.9,348.8 210.3,426.3 233.7,452.8 257.1,391.7 280.5,405 303.9,449.3 327.3,497 350.7,460.3 374.1,439 397.5,453.1 420.9,445.8 444.3,504.4 467.7,491.1 491,492 514.4,526.5 537.8,547.8 561.2,563.4 584.6,571.6 608,557.3 631.4,558.2 654.8,554.6 678.2,552.3 701.6,555.4 725,559.8 748.4,561.7 771.8,567.4 795.2,546.8 818.6,566.1 842,572.3"/><polyline points="140.1,388.7 163.5,316.9 186.9,549.5 210.3,540.9 233.7,492.5 257.1,491.4 280.5,515.5 303.9,510.4 327.3,483.1 350.7,462.1 374.1,426.1 397.5,388.3 420.9,457.6 444.3,484.8 467.7,468.3 491,479.4 514.4,474.1 537.8,483.3 561.2,478.2 584.6,480.8 608,494 631.4,519.6 654.8,526.9 678.2,529.3 701.6,546 725,555.2 748.4,556 771.8,568.9 795.2,567.8 818.6,553.8 842,572.3"/><polyline points="140.1,86.5 163.5,236.9 186.9,410.9 210.3,429.3 233.7,455.2 257.1,480.5 280.5,391.2 303.9,419 327.3,406.3 350.7,432.7 374.1,425.9 397.5,422.8 420.9,448.4 444.3,463.4 467.7,490.6 491,488.6 514.4,493.4 537.8,521.3 561.2,504.3 584.6,524.5 608,505.7 631.4,505.7 654.8,538.8 678.2,553 701.6,564.7 725,567.2 748.4,558.5 771.8,571.3 795.2,550.6 818.6,553.8 842,572.3"/><polyline points="140.1,569 163.5,327.8 186.9,428.4 210.3,473.1 233.7,512.8 257.1,492.2 280.5,519.9 303.9,521.3 327.3,516.1 350.7,566 374.1,536 397.5,503.7 420.9,488 444.3,500.3 467.7,552.9 491,534.9 514.4,532 537.8,538.4 561.2,508.6 584.6,521 608,541.2 631.4,567.8 654.8,570.9 678.2,549.9 701.6,538.8 725,540.6 748.4,549.7 771.8,543.8 795.2,556.8 818.6,563.4 842,572.3"/><polyline points="140.1,199.1 163.5,348.4 186.9,451.9 210.3,343.6 233.7,490.6 257.1,430.5 280.5,401.3 303.9,446 327.3,537.2 350.7,543.8 374.1,563.2 397.5,540.1 420.9,556.7 444.3,538.7 467.7,536.5 491,527.3 514.4,532.3 537.8,540 561.2,559.3 584.6,561.7 608,562.2 631.4,567.8 654.8,571.8 678.2,563.8 701.6,566.5 725,566.2 748.4,566.3 771.8,567.4 795.2,557 818.6,563.2 842,572.3"/><polyline points="140.1,273.1 163.5,363.5 186.9,361.8 210.3,428.7 233.7,524.7 257.1,474.9 280.5,435.5 303.9,539.4 327.3,534.8 350.7,531.9 374.1,511.2 397.5,500.9 420.9,505.4 444.3,529.7 467.7,560.7 491,561.2 514.4,535.9 537.8,571.3 561.2,545.7 584.6,562.4 608,567.5 631.4,542.6 654.8,538.9 678.2,548.1 701.6,556.4 725,558.6 748.4,560.4 771.8,563.9 795.2,562.9 818.6,569.4 842,572.3"/><polyline points="140.1,388.7 163.5,498 186.9,530.8 210.3,563.1 233.7,553.5 257.1,506.7 280.5,489.4 303.9,522.9 327.3,541.1 350.7,544.5 374.1,566.5 397.5,546.6 420.9,555.2 444.3,564.2 467.7,547.5 491,514.4 514.4,528.6 537.8,533.3 561.2,540.5 584.6,567.8 608,553.4 631.4,531.2 654.8,506.9 678.2,524 701.6,529 725,547.6 748.4,532.9 771.8,534.8 795.2,545.3 818.6,548.4 842,572.3"/><polyline points="140.1,273.1 163.5,394.1 186.9,312.3 210.3,423.2 233.7,453.7 257.1,459 280.5,501.6 303.9,524.7 327.3,571.4 350.7,568 374.1,564.7 397.5,523.1 420.9,505.9 444.3,561.9 467.7,522.5 491,556 514.4,561.6 537.8,567.6 561.2,560.6 584.6,564.9 608,553 631.4,562.2 654.8,558.8 678.2,545 701.6,545.5 725,544 748.4,537.1 771.8,545 795.2,557.6 818.6,549.2 842,572.3"/><polyline points="140.1,485.7 163.5,429 186.9,447.5 210.3,562.7 233.7,549.7 257.1,542.3 280.5,544.7 303.9,553.2 327.3,516.9 350.7,478.2 374.1,532.8 397.5,561.7 420.9,548.4 444.3,531 467.7,486 491,494.9 514.4,466.9 537.8,506.1 561.2,499.9 584.6,538.2 608,548.6 631.4,549.5 654.8,568.9 678.2,563.1 701.6,572 725,568.2 748.4,566.1 771.8,565.1 795.2,562.5 818.6,569 842,572.3"/><polyline points="140.1,515.1 163.5,390.2 186.9,475.8 210.3,453.2 233.7,457.5 257.1,534.3 280.5,534.8 303.9,476.2 327.3,566.5 350.7,507 374.1,521 397.5,510 420.9,523.5 444.3,540.2 467.7,565.3 491,560.1 514.4,564.8 537.8,554.8 561.2,566.6 584.6,568.6 608,570.7 631.4,542.3 654.8,539.8 678.2,552.3 701.6,553.6 725,543.8 748.4,562.9 771.8,570.9 795.2,560.8 818.6,572.2 842,572.3"/><polyline points="140.1,515.1 163.5,324.1 186.9,506.2 210.3,569 233.7,550.2 257.1,571.8 280.5,487 303.9,493.3 327.3,510.3 350.7,474.2 374.1,517 397.5,529 420.9,493.3 444.3,533.7 467.7,516.3 491,514.4 514.4,538.1 537.8,521.4 561.2,514.2 584.6,526.3 608,538.7 631.4,571.8 654.8,560.9 678.2,559.7 701.6,547.9 725,549 748.4,559.7 771.8,553.6 795.2,569.5 818.6,570.1 842,572.3"/><polyline points="140.1,199.1 163.5,522.4 186.9,509.7 210.3,458.6 233.7,542.7 257.1,540.9 280.5,484.9 303.9,559.2 327.3,536.9 350.7,529 374.1,538.2 397.5,504.2 420.9,512.1 444.3,503.2 467.7,502.8 491,518.8 514.4,539.6 537.8,569.5 561.2,570.4 584.6,571.2 608,547 631.4,545.1 654.8,531.3 678.2,532.8 701.6,562.2 725,558.9 748.4,557.9 771.8,568.8 795.2,562.6 818.6,569 842,572.3"/><polyline points="140.1,86.5 163.5,497.5 186.9,337.9 210.3,443.2 233.7,426.2 257.1,420 280.5,480.8 303.9,445.6 327.3,464.2 350.7,456.5 374.1,470.2 397.5,483.5 420.9,463.7 444.3,471.2 467.7,484.5 491,445.1 514.4,447.5 537.8,429.8 561.2,431.3 584.6,459.6 608,452.2 631.4,466 654.8,492.6 678.2,492.8 701.6,508.3 725,537.5 748.4,542 771.8,542.6 795.2,553.9 818.6,552.3 842,572.3"/><polyline points="140.1,558.7 163.5,485.8 186.9,391 210.3,542.2 233.7,495.1 257.1,544.4 280.5,562.3 303.9,506 327.3,551.8 350.7,535.6 374.1,539.2 397.5,548.2 420.9,529 444.3,545.2 467.7,526.6 491,526.9 514.4,511.9 537.8,539.9 561.2,547.5 584.6,567.4 608,551.7 631.4,550 654.8,572.1 678.2,563.6 701.6,561.3 725,558.3 748.4,548.9 771.8,543.2 795.2,545.4 818.6,569.4 842,572.3"/><polyline points="140.1,226.2 163.5,156.4 186.9,308.6 210.3,501.2 233.7,534.9 257.1,503.4 280.5,539.7 303.9,536.6 327.3,542.5 350.7,563.8 374.1,555.2 397.5,566.1 420.9,542.9 444.3,560.3 467.7,561.3 491,543.3 514.4,539.9 537.8,539.8 561.2,545.4 584.6,565.4 608,544.7 631.4,567.1 654.8,548.9 678.2,568.3 701.6,561 725,561.9 748.4,549.9 771.8,557.2 795.2,560.1 818.6,569.4 842,572.3"/><polyline points="140.1,388.7 163.5,237.6 186.9,362.8 210.3,276.8 233.7,322.5 257.1,414 280.5,426 303.9,497.2 327.3,516.4 350.7,555.6 374.1,562.3 397.5,534.3 420.9,508.5 444.3,555.9 467.7,539.2 491,558.4 514.4,570 537.8,546.4 561.2,557.5 584.6,550.5 608,541.4 631.4,542.2 654.8,538.5 678.2,536.3 701.6,565.5 725,548.8 748.4,552.8 771.8,554.8 795.2,566 818.6,572.2 842,572.3"/><polyline points="140.1,569 163.5,530.6 186.9,525.4 210.3,554 233.7,483 257.1,416.9 280.5,538.3 303.9,547.7 327.3,540.7 350.7,488.5 374.1,430.9 397.5,492.7 420.9,493.7 444.3,491.2 467.7,478.8 491,496.1 514.4,506.3 537.8,533.5 561.2,545.4 584.6,561.7 608,553.4 631.4,550.9 654.8,563.7 678.2,549.7 701.6,564 725,563.8 748.4,557.3 771.8,568.8 795.2,558.3 818.6,571.1 842,572.3"/><polyline points="140.1,458.6 163.5,294.3 186.9,202.4 210.3,371.7 233.7,394.2 257.1,393.1 280.5,416.7 303.9,489.1 327.3,418.7 350.7,427.4 374.1,409.1 397.5,427.4 420.9,441.7 444.3,424.4 467.7,434 491,459.8 514.4,455.6 537.8,466.9 561.2,446.9 584.6,449.4 608,488.3 631.4,500.5 654.8,505.1 678.2,532.9 701.6,523.8 725,545.2 748.4,538.2 771.8,551.5 795.2,555.5 818.6,562.3 842,572.3"/><polyline points="140.1,515.1 163.5,452.1 186.9,496.7 210.3,532.3 233.7,460.9 257.1,417.2 280.5,428.7 303.9,451 327.3,511.6 350.7,568.3 374.1,521.4 397.5,540.9 420.9,517.5 444.3,499.5 467.7,498.5 491,508.6 514.4,519.1 537.8,541.3 561.2,528.5 584.6,530.9 608,543 631.4,556.5 654.8,527 678.2,549.1 701.6,557.4 725,565.3 748.4,568 771.8,566.7 795.2,562.5 818.6,566.1 842,572.3"/><polyline points="140.1,458.6 163.5,328.9 186.9,408.9 210.3,446.4 233.7,428.8 257.1,360.5 280.5,398.9 303.9,443.5 327.3,467.4 350.7,528.5 374.1,526.4 397.5,533.2 420.9,529.4 444.3,556.5 467.7,570 491,558.7 514.4,544.3 537.8,522.3 561.2,539 584.6,525.7 608,544.4 631.4,567.8 654.8,541.9 678.2,571.6 701.6,569.1 725,567.6 748.4,556.4 771.8,571.8 795.2,565.5 818.6,563.2 842,572.3"/><polyline points="140.1,265.3 163.5,398.3 186.9,485.6 210.3,423.2 233.7,490.1 257.1,506 280.5,489.4 303.9,533.1 327.3,490.4 350.7,489.9 374.1,470.2 397.5,488.2 420.9,521.3 444.3,551.6 467.7,543.8 491,515.2 514.4,524.3 537.8,516.8 561.2,522.7 584.6,503.1 608,530.5 631.4,507.2 654.8,509.9 678.2,520.3 701.6,523.8 725,548.7 748.4,546.9 771.8,540.1 795.2,538.9 818.6,549.2 842,572.3"/><polyline points="140.1,236.2 163.5,383.8 186.9,451.2 210.3,404.7 233.7,512.9 257.1,452.2 280.5,495.6 303.9,482.3 327.3,459 350.7,514.6 374.1,473.8 397.5,510.8 420.9,552.9 444.3,550.2 467.7,559.3 491,571.1 514.4,538.1 537.8,524.8 561.2,517.5 584.6,547.9 608,544.4 631.4,548.7 654.8,546 678.2,545.6 701.6,569.2 725,566.5 748.4,559.8 771.8,550.7 795.2,569.2 818.6,569.4 842,572.3"/><polyline points="140.1,358.5 163.5,421.5 186.9,449.5 210.3,555 233.7,505 257.1,485.6 280.5,395.6 303.9,394.5 327.3,448.4 350.7,470.6 374.1,478.6 397.5,489.3 420.9,521.5 444.3,561.3 467.7,542.5 491,540.8 514.4,531.9 537.8,553.4 561.2,549.8 584.6,551.1 608,571.4 631.4,546.3 654.8,542.5 678.2,561.4 701.6,563.5 725,545.1 748.4,556.3 771.8,563.5 795.2,550.9 818.6,569.8 842,572.3"/><polyline points="140.1,558.7 163.5,378.9 186.9,543.1 210.3,517.4 233.7,461.2 257.1,498.7 280.5,509.6 303.9,537.5 327.3,561.7 350.7,554.5 374.1,547.2 397.5,564.6 420.9,562.5 444.3,546.7 467.7,536 491,540.9 514.4,538.3 537.8,521 561.2,494.5 584.6,487.7 608,520.4 631.4,545.7 654.8,549.4 678.2,539.2 701.6,568.3 725,569 748.4,559.1 771.8,562.7 795.2,567 818.6,569.4 842,572.3"/><polyline points="140.1,65.9 163.5,548.7 186.9,485.3 210.3,490.3 233.7,514.9 257.1,540.7 280.5,571.4 303.9,562.2 327.3,550.9 350.7,543 374.1,550.8 397.5,551.5 420.9,559.7 444.3,547.5 467.7,524.3 491,515.7 514.4,538.8 537.8,500.9 561.2,536.2 584.6,515.9 608,505.9 631.4,528.1 654.8,526.2 678.2,528 701.6,542.1 725,529.9 748.4,557.2 771.8,568.4 795.2,564.7 818.6,566.1 842,572.3"/><polyline points="140.1,236.2 163.5,448.1 186.9,550.7 210.3,510.3 233.7,533.4 257.1,520.9 280.5,449.2 303.9,471.7 327.3,459.2 350.7,474 374.1,507.7 397.5,563.2 420.9,543.3 444.3,567.3 467.7,570.4 491,568 514.4,563.2 537.8,541.1 561.2,569.4 584.6,565.8 608,548.3 631.4,557.9 654.8,550.5 678.2,564.3 701.6,564.7 725,553.5 748.4,572.2 771.8,570 795.2,569.6 818.6,560.8 842,572.3"/><polyline points="140.1,458.6 163.5,535.9 186.9,455.4 210.3,551.4 233.7,518.3 257.1,527.8 280.5,561 303.9,507.1 327.3,512.8 350.7,481.5 374.1,492.9 397.5,459 420.9,462.6 444.3,513.3 467.7,504.9 491,512.7 514.4,533.8 537.8,546.1 561.2,552.6 584.6,549.2 608,570.2 631.4,566 654.8,535.1 678.2,565.6 701.6,565.3 725,555.1 748.4,568.4 771.8,565.1 795.2,571.9 818.6,569.8 842,572.3"/><polyline points="140.1,18.7 163.5,-62.9 186.9,77.5 210.3,155.3 233.7,225.3 257.1,209.4 280.5,248.7 303.9,331.2 327.3,361.9 350.7,348.3 374.1,414.7 397.5,396.7 420.9,413.4 444.3,437.8 467.7,434.4 491,438.4 514.4,451.4 537.8,461.3 561.2,453.1 584.6,453.3 608,487.6 631.4,490.8 654.8,473.2 678.2,485.1 701.6,500.9 725,519.9 748.4,533 771.8,534.3 795.2,545 818.6,569 842,572.3"/><polyline points="140.1,385.6 163.5,342.3 186.9,390.1 210.3,557.1 233.7,547.4 257.1,521 280.5,517.6 303.9,477.8 327.3,426.8 350.7,441 374.1,480.2 397.5,486.7 420.9,484.6 444.3,497.8 467.7,531 491,520.2 514.4,558.6 537.8,568.2 561.2,571.9 584.6,559.3 608,562.6 631.4,566.2 654.8,544.5 678.2,544.2 701.6,548.8 725,566.7 748.4,565.4 771.8,540.9 795.2,566.7 818.6,560.8 842,572.3"/><polyline points="140.1,265.3 163.5,250.7 186.9,329.1 210.3,408.5 233.7,386.6 257.1,301.8 280.5,297.7 303.9,268.7 327.3,304 350.7,342.2 374.1,346.5 397.5,360.5 420.9,403.4 444.3,442.1 467.7,438.4 491,446.9 514.4,482.9 537.8,485.6 561.2,527.9 584.6,540.8 608,522.1 631.4,532.8 654.8,558.6 678.2,562 701.6,569.7 725,566.1 748.4,544.1 771.8,560.9 795.2,560.1 818.6,569.4 842,572.3"/><polyline points="140.1,65.9 163.5,505.7 186.9,327.8 210.3,312.1 233.7,507.6 257.1,530.8 280.5,494 303.9,450.8 327.3,444 350.7,478.2 374.1,503.6 397.5,505.9 420.9,545 444.3,558.1 467.7,553.2 491,569.2 514.4,571.3 537.8,565 561.2,547.2 584.6,552.8 608,553 631.4,555.5 654.8,556.1 678.2,564.6 701.6,557.5 725,561.8 748.4,556.7 771.8,547.5 795.2,565.1 818.6,570.4 842,572.3"/><polyline points="140.1,-28.1 163.5,515 186.9,473.1 210.3,467.5 233.7,445.7 257.1,537.4 280.5,563.2 303.9,557.1 327.3,552.5 350.7,561.2 374.1,559 397.5,556.7 420.9,558 444.3,565.2 467.7,553.4 491,549.9 514.4,569.3 537.8,554.6 561.2,562.4 584.6,560 608,556 631.4,557.3 654.8,571.6 678.2,571.5 701.6,545.3 725,549.7 748.4,571.1 771.8,559.1 795.2,569.8 818.6,568.5 842,572.3"/><polyline points="140.1,389.2 163.5,421 186.9,232.4 210.3,385.7 233.7,507.7 257.1,569.7 280.5,547.9 303.9,552.7 327.3,545.2 350.7,497.3 374.1,538 397.5,566.9 420.9,554.3 444.3,563.7 467.7,524.3 491,525.1 514.4,560.4 537.8,564.8 561.2,547.5 584.6,558 608,562.2 631.4,562.8 654.8,561.5 678.2,557.9 701.6,569.1 725,562 748.4,554.5 771.8,564.7 795.2,562.9 818.6,566.2 842,572.3"/><polyline points="140.1,86.5 163.5,372.7 186.9,323.9 210.3,512.6 233.7,413.8 257.1,409.6 280.5,406.4 303.9,450 327.3,422.2 350.7,506.6 374.1,511.4 397.5,539.2 420.9,525.3 444.3,542 467.7,514.5 491,511 514.4,516.7 537.8,536.8 561.2,556.4 584.6,557 608,572 631.4,570.7 654.8,562.2 678.2,559.8 701.6,557.3 725,554.5 748.4,570.9 771.8,571.6 795.2,568.3 818.6,548.4 842,572.3"/><polyline points="140.1,497.6 163.5,397.9 186.9,287.2 210.3,336.8 233.7,372.5 257.1,290 280.5,282.4 303.9,379.3 327.3,480.4 350.7,496.3 374.1,486.2 397.5,500.7 420.9,498.7 444.3,517.2 467.7,518.1 491,519.3 514.4,535 537.8,537.9 561.2,523.5 584.6,512.3 608,523.9 631.4,498.8 654.8,521.2 678.2,546.4 701.6,535.5 725,551.3 748.4,556.3 771.8,569.2 795.2,569.4 818.6,566.2 842,572.3"/><polyline points="140.1,389.2 163.5,463.3 186.9,467.1 210.3,409.4 233.7,479 257.1,378.8 280.5,408.4 303.9,418 327.3,401.1 350.7,466.8 374.1,516.6 397.5,530.7 420.9,529.5 444.3,560.8 467.7,538.5 491,557.7 514.4,558.4 537.8,569.5 561.2,560 584.6,558.6 608,563.5 631.4,536.6 654.8,549.8 678.2,553.5 701.6,542.3 725,546.3 748.4,545.7 771.8,531.6 795.2,552.1 818.6,565.2 842,572.3"/><polyline points="140.1,305.1 163.5,431.9 186.9,407.4 210.3,494.4 233.7,521.5 257.1,456.2 280.5,511.8 303.9,556.8 327.3,550.2 350.7,533.9 374.1,552.6 397.5,512 420.9,509.2 444.3,491.8 467.7,494.8 491,456.2 514.4,460.7 537.8,473.2 561.2,516.1 584.6,523.3 608,548.8 631.4,552.9 654.8,545.6 678.2,562.3 701.6,559.8 725,571.4 748.4,560.3 771.8,554.2 795.2,554.7 818.6,558.2 842,572.3"/><polyline points="140.1,-122.2 163.5,57 186.9,290 210.3,346.2 233.7,466.1 257.1,514.6 280.5,479 303.9,485.6 327.3,496.7 350.7,486 374.1,513.3 397.5,555 420.9,548.9 444.3,520.3 467.7,521.4 491,505.9 514.4,516.5 537.8,486.2 561.2,516.3 584.6,493.8 608,500.7 631.4,508 654.8,534.8 678.2,566.3 701.6,564.2 725,571.7 748.4,561.9 771.8,562.1 795.2,559.9 818.6,563.2 842,572.3"/><polyline points="140.1,537.4 163.5,343.1 186.9,481.2 210.3,557.4 233.7,523.1 257.1,561.9 280.5,563.8 303.9,566.6 327.3,511 350.7,513 374.1,491.2 397.5,526.8 420.9,525.9 444.3,479.6 467.7,518.2 491,500.5 514.4,546.9 537.8,543.5 561.2,564.7 584.6,557.4 608,554.6 631.4,569.3 654.8,545.4 678.2,541.8 701.6,532.3 725,556.9 748.4,555 771.8,565.4 795.2,569 818.6,569.4 842,572.3"/><polyline points="140.1,199.1 163.5,458.7 186.9,409.1 210.3,446.5 233.7,509 257.1,427.3 280.5,438.4 303.9,542 327.3,537 350.7,567.9 374.1,549.1 397.5,546.3 420.9,557 444.3,536.2 467.7,535.9 491,535.9 514.4,533 537.8,511.7 561.2,524.6 584.6,537.7 608,539.5 631.4,525.7 654.8,539.3 678.2,544.4 701.6,541.6 725,549.8 748.4,567 771.8,549.1 795.2,561.9 818.6,566.2 842,572.3"/><polyline points="140.1,505.4 163.5,305.6 186.9,375.4 210.3,511.1 233.7,468.7 257.1,471.5 280.5,425.4 303.9,380.5 327.3,381.5 350.7,390.8 374.1,431.6 397.5,449.5 420.9,496.3 444.3,499.3 467.7,481.7 491,468.2 514.4,433.5 537.8,481 561.2,497.1 584.6,501 608,525.5 631.4,536 654.8,524.6 678.2,534.2 701.6,528.3 725,534.3 748.4,534.2 771.8,538.7 795.2,559 818.6,559.9 842,572.3"/><polyline points="140.1,148.9 163.5,394 186.9,543.7 210.3,528.9 233.7,547.2 257.1,562.6 280.5,532.6 303.9,570.9 327.3,535.1 350.7,538.5 374.1,548.5 397.5,565.9 420.9,540.9 444.3,556.2 467.7,532.4 491,566.3 514.4,563.3 537.8,568 561.2,552 584.6,563.7 608,555.2 631.4,556.6 654.8,535.3 678.2,559.9 701.6,555.5 725,551.8 748.4,556.2 771.8,558.2 795.2,559.9 818.6,569.4 842,572.3"/><polyline points="140.1,86.5 163.5,327.8 186.9,261.8 210.3,293.5 233.7,404 257.1,420.9 280.5,447.5 303.9,468.2 327.3,441.3 350.7,484.3 374.1,520.2 397.5,540.1 420.9,522.1 444.3,529.7 467.7,565.7 491,528.6 514.4,537.9 537.8,544.7 561.2,528.4 584.6,539.9 608,545 631.4,565.8 654.8,569.8 678.2,569.4 701.6,567.8 725,548.5 748.4,533.7 771.8,542.7 795.2,562.8 818.6,569 842,572.3"/><polyline points="140.1,458.6 163.5,157 186.9,324.3 210.3,367.6 233.7,470 257.1,394.8 280.5,425.1 303.9,443.1 327.3,416 350.7,413.3 374.1,408.3 397.5,450 420.9,466.9 444.3,469.6 467.7,453.4 491,433.2 514.4,482.2 537.8,510.8 561.2,516.1 584.6,494.7 608,497.7 631.4,509.6 654.8,534.3 678.2,532.3 701.6,523.2 725,532.1 748.4,555.8 771.8,549.8 795.2,560 818.6,570.4 842,572.3"/><polyline points="140.1,558.7 163.5,508.6 186.9,515 210.3,569.4 233.7,473.4 257.1,459.3 280.5,528.8 303.9,510.9 327.3,483.6 350.7,513.8 374.1,569.5 397.5,511.8 420.9,521.6 444.3,530.6 467.7,527.6 491,535.9 514.4,558.4 537.8,540.5 561.2,519.9 584.6,492.5 608,496.4 631.4,495.4 654.8,496.3 678.2,517.9 701.6,518.7 725,539.4 748.4,550.5 771.8,549.8 795.2,557 818.6,548.4 842,572.3"/><polyline points="140.1,148.9 163.5,467.5 186.9,564.1 210.3,556.5 233.7,567.6 257.1,552.1 280.5,526.4 303.9,531.7 327.3,531.2 350.7,562 374.1,546.3 397.5,555.6 420.9,561.3 444.3,564.6 467.7,539.5 491,558.3 514.4,548.3 537.8,560 561.2,566.3 584.6,559.4 608,570 631.4,571.1 654.8,566.2 678.2,565.9 701.6,552.3 725,554.7 748.4,565.4 771.8,545.9 795.2,557.1 818.6,570.1 842,572.3"/><polyline points="140.1,531.4 163.5,534.4 186.9,435 210.3,536.1 233.7,564.2 257.1,446.1 280.5,490.8 303.9,457.7 327.3,468.9 350.7,506.6 374.1,512.3 397.5,542.9 420.9,551.8 444.3,557.3 467.7,526 491,521.7 514.4,554.5 537.8,560.9 561.2,541.9 584.6,564.6 608,551.1 631.4,538.4 654.8,559.1 678.2,563.3 701.6,572.3 725,551.1 748.4,558.6 771.8,552.6 795.2,550.9 818.6,549.2 842,572.3"/><polyline points="140.1,389.2 163.5,514.2 186.9,433.8 210.3,400.1 233.7,457.3 257.1,507.1 280.5,468.4 303.9,550.6 327.3,518.9 350.7,558.8 374.1,521.5 397.5,518.6 420.9,523.7 444.3,566.2 467.7,571.5 491,559.9 514.4,558.2 537.8,558.6 561.2,558.6 584.6,571.9 608,539.6 631.4,558 654.8,556.1 678.2,564.5 701.6,565 725,571.1 748.4,567.9 771.8,552.3 795.2,570.9 818.6,571.1 842,572.3"/><polyline points="140.1,531.4 163.5,555.4 186.9,322.1 210.3,459.4 233.7,384.8 257.1,401.5 280.5,439.8 303.9,463.5 327.3,455.2 350.7,494.2 374.1,539.8 397.5,549.8 420.9,565.6 444.3,535.7 467.7,550.4 491,552.7 514.4,513 537.8,497.6 561.2,485.4 584.6,493.1 608,514.6 631.4,508.7 654.8,511.6 678.2,493.1 701.6,500.8 725,520.5 748.4,532.4 771.8,532.5 795.2,553 818.6,560.8 842,572.3"/><polyline points="140.1,515.1 163.5,243.5 186.9,414.3 210.3,564.4 233.7,565.3 257.1,507.6 280.5,555 303.9,518.2 327.3,470.3 350.7,484 374.1,460.5 397.5,492.6 420.9,521.8 444.3,474.2 467.7,474.9 491,502 514.4,546.9 537.8,548.2 561.2,554 584.6,554.2 608,544.9 631.4,548 654.8,553.3 678.2,549.4 701.6,535.4 725,529.7 748.4,538 771.8,557.3 795.2,564.3 818.6,569.8 842,572.3"/><polyline points="140.1,388.7 163.5,423.7 186.9,502.6 210.3,523.4 233.7,500.7 257.1,468.1 280.5,526.8 303.9,569.9 327.3,570.5 350.7,529.7 374.1,489.4 397.5,503.5 420.9,522.9 444.3,501.7 467.7,524.6 491,504.3 514.4,503.1 537.8,467.1 561.2,482.5 584.6,489 608,513.2 631.4,512.4 654.8,541.2 678.2,556.5 701.6,549.7 725,548 748.4,551 771.8,555.2 795.2,555.7 818.6,565.2 842,572.3"/><polyline points="140.1,-122.2 163.5,561.1 186.9,438.6 210.3,457.7 233.7,481.3 257.1,465.4 280.5,506.9 303.9,570.3 327.3,566 350.7,556.9 374.1,512.2 397.5,563.4 420.9,570.8 444.3,571.9 467.7,568.2 491,546.8 514.4,543.9 537.8,539.2 561.2,558.6 584.6,546 608,537 631.4,521.7 654.8,527.6 678.2,509.3 701.6,523.8 725,536.1 748.4,548.8 771.8,543.1 795.2,564.8 818.6,566.2 842,572.3"/><polyline points="140.1,485.7 163.5,566.3 186.9,554 210.3,512.7 233.7,481.1 257.1,411.9 280.5,513.9 303.9,568.1 327.3,545.7 350.7,569.6 374.1,547.6 397.5,499.6 420.9,502.5 444.3,503.4 467.7,495.8 491,545.4 514.4,547.2 537.8,549.3 561.2,561.8 584.6,568 608,548 631.4,566.1 654.8,570.2 678.2,566.6 701.6,553 725,555.3 748.4,568.4 771.8,569.4 795.2,558.9 818.6,556.1 842,572.3"/><polyline points="140.1,388.7 163.5,307.5 186.9,498.1 210.3,470.4 233.7,477.4 257.1,538.7 280.5,480.3 303.9,402.2 327.3,408.5 350.7,494.3 374.1,467.5 397.5,435.7 420.9,469.3 444.3,482.8 467.7,491.5 491,483.2 514.4,523.7 537.8,495.7 561.2,526.4 584.6,515.3 608,513.8 631.4,524.8 654.8,526.7 678.2,525.5 701.6,534.9 725,549.2 748.4,552.2 771.8,556.4 795.2,556.5 818.6,571.1 842,572.3"/><polyline points="140.1,148.9 163.5,507.2 186.9,446.9 210.3,403.4 233.7,474.2 257.1,509.5 280.5,518.9 303.9,536.6 327.3,536 350.7,512.3 374.1,454.6 397.5,457.2 420.9,480.2 444.3,513.4 467.7,510.8 491,503.2 514.4,487.5 537.8,496.4 561.2,468.8 584.6,509.8 608,511.1 631.4,534 654.8,547.3 678.2,548.9 701.6,552.5 725,561.5 748.4,569.9 771.8,563.7 795.2,563.9 818.6,566.1 842,572.3"/><polyline points="140.1,273.1 163.5,363.5 186.9,495.3 210.3,421.3 233.7,571.5 257.1,557 280.5,532.8 303.9,528.4 327.3,503.6 350.7,514.5 374.1,565.8 397.5,571 420.9,517.7 444.3,556.3 467.7,571.6 491,545.2 514.4,567.1 537.8,552.2 561.2,559.3 584.6,563.3 608,563.9 631.4,550.3 654.8,547 678.2,555.7 701.6,556.9 725,570.1 748.4,549.7 771.8,552.5 795.2,564.8 818.6,566.2 842,572.3"/><polyline points="140.1,-144.6 163.5,27.2 186.9,321 210.3,337.5 233.7,331.1 257.1,358.8 280.5,379.8 303.9,442.2 327.3,444 350.7,401.5 374.1,463.1 397.5,431.7 420.9,446.9 444.3,454.9 467.7,450.5 491,475.2 514.4,454.9 537.8,484.9 561.2,491.7 584.6,495.5 608,500.8 631.4,494.4 654.8,505.9 678.2,494.2 701.6,500.8 725,530.3 748.4,554.1 771.8,551.6 795.2,562.6 818.6,566.2 842,572.3"/><polyline points="140.1,531.4 163.5,535.9 186.9,534.3 210.3,507.5 233.7,527.4 257.1,504.3 280.5,557.9 303.9,542.9 327.3,546.5 350.7,556.6 374.1,562.3 397.5,547.7 420.9,557.1 444.3,507 467.7,551.4 491,522.3 514.4,492.7 537.8,525.2 561.2,516.5 584.6,532.9 608,534.2 631.4,549.5 654.8,563.9 678.2,560.7 701.6,564.6 725,562.7 748.4,565.6 771.8,550.7 795.2,566.7 818.6,560.8 842,572.3"/><polyline points="140.1,485.7 163.5,317.3 186.9,424.6 210.3,561.6 233.7,494.6 257.1,445.3 280.5,469.3 303.9,459.2 327.3,509.1 350.7,534.1 374.1,546.5 397.5,546 420.9,533.9 444.3,534.1 467.7,566.2 491,561.3 514.4,551.1 537.8,551.5 561.2,546.6 584.6,544.2 608,560.1 631.4,571.5 654.8,549 678.2,571.1 701.6,545.7 725,546.8 748.4,570.3 771.8,563.6 795.2,566.9 818.6,565.2 842,572.3"/><polyline points="140.1,474.8 163.5,223.3 186.9,198.5 210.3,378.5 233.7,514.4 257.1,478.5 280.5,571 303.9,562.5 327.3,567.5 350.7,546.6 374.1,547.7 397.5,554.5 420.9,541.7 444.3,538.6 467.7,561.3 491,557.8 514.4,566.2 537.8,553.5 561.2,559.1 584.6,550.5 608,551.4 631.4,560.6 654.8,562.9 678.2,558.6 701.6,530.4 725,543.6 748.4,563.4 771.8,550.4 795.2,569.5 818.6,563.4 842,572.3"/><polyline points="140.1,130 163.5,258.6 186.9,301.9 210.3,190.3 233.7,351.4 257.1,307.2 280.5,417.5 303.9,511.9 327.3,528.2 350.7,538.3 374.1,550.3 397.5,569.7 420.9,546.3 444.3,545.2 467.7,552 491,569.7 514.4,565.9 537.8,565.5 561.2,568.9 584.6,564.8 608,559.8 631.4,548.2 654.8,545.4 678.2,554.2 701.6,532.8 725,561 748.4,572.1 771.8,570.9 795.2,571 818.6,561.1 842,572.3"/><polyline points="140.1,458.6 163.5,544.1 186.9,548.9 210.3,554 233.7,564.6 257.1,522.7 280.5,539.3 303.9,566.6 327.3,490.1 350.7,507.1 374.1,496.3 397.5,452.6 420.9,438.2 444.3,466.9 467.7,468.1 491,519.5 514.4,497.7 537.8,499.5 561.2,521.6 584.6,542.8 608,529.9 631.4,553.9 654.8,565.8 678.2,563 701.6,570.3 725,550.9 748.4,548.1 771.8,556.6 795.2,563.5 818.6,566.1 842,572.3"/><polyline points="140.1,388.7 163.5,527.5 186.9,480.2 210.3,525.2 233.7,523.1 257.1,567 280.5,569.7 303.9,557.8 327.3,525.3 350.7,487.7 374.1,560.5 397.5,567.1 420.9,564.8 444.3,541.3 467.7,509.6 491,494.8 514.4,525.4 537.8,547.3 561.2,566.9 584.6,557.9 608,558.4 631.4,542.1 654.8,540.2 678.2,545.1 701.6,570.2 725,547.6 748.4,541.7 771.8,546.9 795.2,557 818.6,556.1 842,572.3"/><polyline points="140.1,65.9 163.5,562 186.9,518 210.3,541.8 233.7,404.5 257.1,387.9 280.5,335.2 303.9,318.2 327.3,413.1 350.7,420.3 374.1,433.8 397.5,460.6 420.9,492.2 444.3,511.3 467.7,501.1 491,504.7 514.4,528.4 537.8,536.3 561.2,569.9 584.6,565.4 608,567.3 631.4,564.6 654.8,569.9 678.2,571.5 701.6,556.1 725,570.1 748.4,566.9 771.8,569.5 795.2,567.6 818.6,557.6 842,572.3"/><polyline points="140.1,358.5 163.5,494 186.9,455.7 210.3,566.5 233.7,564.9 257.1,547.9 280.5,545.6 303.9,544.6 327.3,480.9 350.7,481.4 374.1,500 397.5,521.4 420.9,567.9 444.3,571 467.7,570.9 491,566.8 514.4,559.4 537.8,565.2 561.2,561 584.6,568.1 608,552.3 631.4,569.3 654.8,556.7 678.2,546 701.6,554.4 725,572.1 748.4,568.5 771.8,543.8 795.2,554 818.6,548.4 842,572.3"/><polyline points="140.1,389.2 163.5,305.4 186.9,423.2 210.3,367.2 233.7,475.4 257.1,541.5 280.5,466.8 303.9,479.6 327.3,466.1 350.7,504.1 374.1,504.2 397.5,525.4 420.9,562.2 444.3,555.9 467.7,562.9 491,564.3 514.4,529.5 537.8,538.1 561.2,549.7 584.6,548 608,565.6 631.4,556.6 654.8,568.9 678.2,547.9 701.6,551.9 725,569.7 748.4,568 771.8,565.5 795.2,564.3 818.6,571.1 842,572.3"/><polyline points="140.1,474.8 163.5,386.9 186.9,449.8 210.3,470.2 233.7,504 257.1,559.9 280.5,563.6 303.9,570.6 327.3,547 350.7,512.2 374.1,534.6 397.5,508.9 420.9,567.2 444.3,554.5 467.7,518.8 491,524.3 514.4,546.9 537.8,508.5 561.2,488.6 584.6,483.5 608,511.8 631.4,533.8 654.8,548.8 678.2,545.1 701.6,526.7 725,535.5 748.4,539 771.8,543.3 795.2,541.3 818.6,562.3 842,572.3"/><polyline points="140.1,389.2 163.5,432 186.9,465.1 210.3,508.6 233.7,524.1 257.1,551.1 280.5,552.3 303.9,536.8 327.3,554.7 350.7,554.6 374.1,493 397.5,559.4 420.9,546 444.3,557.2 467.7,553.2 491,556.6 514.4,569.5 537.8,555.7 561.2,545.3 584.6,560.4 608,563.6 631.4,563.9 654.8,554.2 678.2,562.6 701.6,566.5 725,563.5 748.4,557 771.8,540.2 795.2,558.7 818.6,562.1 842,572.3"/><polyline points="140.1,299 163.5,522.4 186.9,503.3 210.3,537.6 233.7,527 257.1,510 280.5,545.1 303.9,543.4 327.3,525.9 350.7,527 374.1,571.4 397.5,550.9 420.9,515.2 444.3,568.9 467.7,569.7 491,538.2 514.4,552.8 537.8,535.2 561.2,540.7 584.6,539.4 608,520.8 631.4,548.3 654.8,536.4 678.2,545.6 701.6,539.3 725,545 748.4,546.5 771.8,547.5 795.2,571.5 818.6,569 842,572.3"/><polyline points="140.1,199.1 163.5,458.7 186.9,396.8 210.3,416.3 233.7,380.3 257.1,493.2 280.5,537.6 303.9,515.2 327.3,555.7 350.7,546 374.1,550.2 397.5,559.3 420.9,546 444.3,572 467.7,542.6 491,532.9 514.4,530.8 537.8,556.6 561.2,571.8 584.6,571.2 608,571.7 631.4,564.5 654.8,561.9 678.2,570 701.6,547.9 725,552.2 748.4,555.1 771.8,564.1 795.2,564.5 818.6,563.4 842,572.3"/><polyline points="140.1,537.4 163.5,368.6 186.9,527.6 210.3,549 233.7,410.3 257.1,426.1 280.5,460.9 303.9,451.7 327.3,435.4 350.7,499.8 374.1,514.2 397.5,488 420.9,480.3 444.3,452.2 467.7,446 491,457.4 514.4,475 537.8,475.5 561.2,474.6 584.6,494.8 608,527.1 631.4,525.8 654.8,542.4 678.2,561.3 701.6,555.1 725,569 748.4,569.7 771.8,563.1 795.2,553.1 818.6,553.8 842,572.3"/><polyline points="140.1,387.2 163.5,528.5 186.9,518.2 210.3,509.8 233.7,533.8 257.1,521.2 280.5,426.1 303.9,486.4 327.3,454.5 350.7,459.6 374.1,497.7 397.5,561.8 420.9,548.5 444.3,515.5 467.7,496.2 491,484.3 514.4,514.4 537.8,532.8 561.2,537 584.6,547.9 608,563.3 631.4,543.6 654.8,553 678.2,565.8 701.6,564.7 725,561.6 748.4,562.5 771.8,562 795.2,554.9 818.6,572.2 842,572.3"/><polyline points="140.1,358.5 163.5,511.1 186.9,532.6 210.3,496.8 233.7,535.6 257.1,484 280.5,470.2 303.9,474.6 327.3,455.8 350.7,497.3 374.1,542.7 397.5,538.9 420.9,512.8 444.3,510.7 467.7,517.2 491,509.1 514.4,548.2 537.8,543.2 561.2,544 584.6,517.8 608,522.3 631.4,527.2 654.8,551.2 678.2,556.1 701.6,560.1 725,557.2 748.4,550.9 771.8,540.7 795.2,532.3 818.6,557.6 842,572.3"/><polyline points="140.1,148.9 163.5,467.5 186.9,540.3 210.3,526.7 233.7,571.8 257.1,498.2 280.5,455.4 303.9,508.4 327.3,485.8 350.7,445.9 374.1,474.4 397.5,524.7 420.9,532.8 444.3,555.1 467.7,568.4 491,554.4 514.4,553.9 537.8,549.9 561.2,521.9 584.6,526.2 608,530.3 631.4,532.1 654.8,538.1 678.2,531.9 701.6,530.8 725,545.3 748.4,572 771.8,569.4 795.2,569 818.6,569.4 842,572.3"/><polyline points="140.1,299 163.5,286 186.9,403.8 210.3,492.2 233.7,547.9 257.1,549.7 280.5,526.7 303.9,570.8 327.3,496.5 350.7,494.3 374.1,493.5 397.5,506.3 420.9,508.7 444.3,509.2 467.7,500.9 491,540 514.4,539.5 537.8,556.1 561.2,568 584.6,563.8 608,560.2 631.4,568.1 654.8,561.7 678.2,537.1 701.6,538.7 725,548.2 748.4,567.1 771.8,571.3 795.2,565 818.6,555.4 842,572.3"/><polyline points="140.1,236.2 163.5,511.1 186.9,431.8 210.3,421.1 233.7,439.9 257.1,456.2 280.5,446.1 303.9,472.8 327.3,427.6 350.7,414.8 374.1,479.4 397.5,524 420.9,521.1 444.3,475.1 467.7,514 491,524.7 514.4,531.9 537.8,537.9 561.2,534.6 584.6,549.8 608,568.6 631.4,567.4 654.8,552.6 678.2,566.2 701.6,565.9 725,566 748.4,539.7 771.8,534.3 795.2,556.3 818.6,558.2 842,572.3"/><polyline points="140.1,273.1 163.5,169.5 186.9,392.8 210.3,524.2 233.7,548.7 257.1,436.9 280.5,451.3 303.9,480.6 327.3,539.9 350.7,500.8 374.1,524.2 397.5,535.5 420.9,533.9 444.3,523.3 467.7,523.9 491,521.5 514.4,524.7 537.8,539.2 561.2,523.2 584.6,550 608,536.4 631.4,546.4 654.8,543.3 678.2,519.5 701.6,536.5 725,527.4 748.4,549.5 771.8,552.7 795.2,547.1 818.6,571.8 842,572.3"/><polyline points="140.1,-144.6 163.5,212.2 186.9,307.4 210.3,450.3 233.7,437.7 257.1,466 280.5,471.6 303.9,559.2 327.3,570.3 350.7,535.9 374.1,556.2 397.5,539.7 420.9,568.1 444.3,536.8 467.7,571.7 491,553 514.4,568.5 537.8,560.7 561.2,551.7 584.6,550.7 608,569.8 631.4,570.3 654.8,571 678.2,542.1 701.6,554 725,552.5 748.4,556.5 771.8,567.8 795.2,564 818.6,558.2 842,572.3"/><polyline points="140.1,-122.2 163.5,501.8 186.9,548 210.3,568.9 233.7,449.5 257.1,453.7 280.5,571.5 303.9,516.4 327.3,528.9 350.7,498.7 374.1,481.1 397.5,504.2 420.9,509.2 444.3,508.4 467.7,532.6 491,523.6 514.4,519.8 537.8,550.8 561.2,566.3 584.6,568.8 608,572.2 631.4,555.5 654.8,535.1 678.2,538.1 701.6,551.7 725,554.1 748.4,547.9 771.8,548.3 795.2,563.7 818.6,569.4 842,572.3"/><polyline points="140.1,199.1 163.5,414.3 186.9,536.5 210.3,536.7 233.7,457.4 257.1,395.6 280.5,459.9 303.9,537.2 327.3,552 350.7,557 374.1,535.9 397.5,502.1 420.9,500.7 444.3,527.2 467.7,507.1 491,548.7 514.4,549.3 537.8,546.5 561.2,536.6 584.6,529.2 608,525.8 631.4,519.5 654.8,518.9 678.2,524.7 701.6,528.3 725,541.8 748.4,549.7 771.8,569.3 795.2,563 818.6,563.4 842,572.3"/><polyline points="140.1,358.5 163.5,458.6 186.9,545.8 210.3,546.3 233.7,555.8 257.1,505.1 280.5,553.7 303.9,513.5 327.3,529.8 350.7,528.3 374.1,501.7 397.5,500.4 420.9,473.4 444.3,430.8 467.7,447.8 491,455.8 514.4,460.3 537.8,464.5 561.2,460.6 584.6,502 608,508.9 631.4,523.9 654.8,550.1 678.2,558.7 701.6,555.4 725,544.5 748.4,559.4 771.8,572.2 795.2,554.7 818.6,570.1 842,572.3"/><polyline points="140.1,358.5 163.5,494 186.9,531.8 210.3,518.7 233.7,540.6 257.1,515 280.5,549.1 303.9,503 327.3,515.3 350.7,551.7 374.1,545.6 397.5,541.6 420.9,568.1 444.3,541.5 467.7,563.5 491,547.4 514.4,538 537.8,515.4 561.2,554.9 584.6,560.1 608,555.3 631.4,556.7 654.8,562.3 678.2,558.8 701.6,566.6 725,570.6 748.4,568.2 771.8,569.6 795.2,560.3 818.6,560.8 842,572.3"/><polyline points="140.1,226.2 163.5,548.9 186.9,419.1 210.3,565.8 233.7,530 257.1,444.8 280.5,452.4 303.9,554.2 327.3,567 350.7,540.8 374.1,562.4 397.5,535.2 420.9,535.4 444.3,542.8 467.7,557 491,558.2 514.4,543.4 537.8,560.2 561.2,552.2 584.6,544 608,546 631.4,545.3 654.8,550.3 678.2,548.9 701.6,546.3 725,535.5 748.4,530 771.8,547.3 795.2,555.5 818.6,568.5 842,572.3"/><polyline points="140.1,558.7 163.5,431.9 186.9,331.3 210.3,468.3 233.7,548.9 257.1,495.1 280.5,514.3 303.9,544.5 327.3,519.9 350.7,506.4 374.1,512.7 397.5,467.7 420.9,513.1 444.3,487.1 467.7,498.6 491,516.6 514.4,517.4 537.8,526.8 561.2,566.9 584.6,568.2 608,550.6 631.4,569.9 654.8,566.5 678.2,570.4 701.6,567.4 725,569 748.4,571.9 771.8,552.9 795.2,551.3 818.6,563.2 842,572.3"/><polyline points="140.1,474.8 163.5,434.5 186.9,495.4 210.3,450.8 233.7,432.3 257.1,501.2 280.5,534 303.9,533.7 327.3,528.4 350.7,472.7 374.1,482.1 397.5,486.7 420.9,478.9 444.3,493.7 467.7,531.3 491,515.2 514.4,500.5 537.8,514.7 561.2,531.8 584.6,517 608,540.7 631.4,545.5 654.8,538.7 678.2,522.5 701.6,527.1 725,532.3 748.4,546.6 771.8,554.1 795.2,555.2 818.6,553.8 842,572.3"/><polyline points="140.1,-122.2 163.5,-28.2 186.9,356.5 210.3,438.9 233.7,468.3 257.1,547.8 280.5,523.9 303.9,568.3 327.3,519.6 350.7,559.7 374.1,543.9 397.5,561.5 420.9,559.7 444.3,559.3 467.7,564.5 491,559.6 514.4,564.7 537.8,562.8 561.2,541.1 584.6,547 608,539.5 631.4,528.6 654.8,528 678.2,525.8 701.6,514.2 725,523.5 748.4,535.2 771.8,544.2 795.2,547.5 818.6,572.2 842,572.3"/><polyline points="140.1,485.7 163.5,530.6 186.9,442.2 210.3,491.4 233.7,368.7 257.1,494.9 280.5,479.8 303.9,552.1 327.3,548.8 350.7,554.6 374.1,532 397.5,558.1 420.9,546.5 444.3,553.6 467.7,514.9 491,529.9 514.4,521.4 537.8,521.1 561.2,528.4 584.6,515.6 608,528.5 631.4,531.1 654.8,548 678.2,556.7 701.6,555.7 725,560.7 748.4,548.7 771.8,534.4 795.2,560.4 818.6,557.6 842,572.3"/><polyline points="140.1,497.6 163.5,309.4 186.9,486.1 210.3,543.7 233.7,510.5 257.1,550.1 280.5,565.2 303.9,528.7 327.3,541 350.7,552.9 374.1,546.8 397.5,526.1 420.9,476.3 444.3,459.1 467.7,503.6 491,504.3 514.4,519.2 537.8,522.3 561.2,543.1 584.6,535.3 608,542.4 631.4,544.4 654.8,523.6 678.2,524.2 701.6,513.8 725,523.1 748.4,523.4 771.8,550.8 795.2,558.9 818.6,556.1 842,572.3"/><polyline points="140.1,86.5 163.5,466 186.9,534 210.3,517 233.7,443.4 257.1,433.8 280.5,464.2 303.9,504.4 327.3,553.5 350.7,495.3 374.1,485.7 397.5,494 420.9,477 444.3,480.9 467.7,523.9 491,523.3 514.4,526.4 537.8,524.2 561.2,531.3 584.6,508 608,519.8 631.4,490.7 654.8,492.7 678.2,500.7 701.6,506.3 725,497 748.4,516.2 771.8,543.8 795.2,551.2 818.6,560.8 842,572.3"/><polyline points="140.1,-28.1 163.5,309.4 186.9,563 210.3,557.6 233.7,495.6 257.1,427.4 280.5,462 303.9,461.6 327.3,478.5 350.7,469.5 374.1,524.9 397.5,557.9 420.9,569.1 444.3,542.7 467.7,564.6 491,543.5 514.4,547.2 537.8,572.1 561.2,567.5 584.6,564.4 608,570.9 631.4,557 654.8,555.8 678.2,556.3 701.6,549.5 725,557.5 748.4,560.1 771.8,570.3 795.2,561.2 818.6,561.1 842,572.3"/><polyline points="140.1,86.5 163.5,236.9 186.9,367.7 210.3,308.3 233.7,250.4 257.1,184.6 280.5,239.5 303.9,266.9 327.3,277.1 350.7,315.2 374.1,314.3 397.5,371.1 420.9,357.9 444.3,380.2 467.7,405.4 491,411.7 514.4,462 537.8,486.8 561.2,507 584.6,523.9 608,509.8 631.4,504.3 654.8,504 678.2,503.2 701.6,518.2 725,521.9 748.4,546 771.8,546.4 795.2,548.5 818.6,555.4 842,572.3"/><polyline points="140.1,130 163.5,313.8 186.9,428.8 210.3,463.9 233.7,493.7 257.1,537.7 280.5,503.6 303.9,473.8 327.3,464 350.7,523.4 374.1,524.7 397.5,493.4 420.9,500.5 444.3,524.7 467.7,505.5 491,513.8 514.4,537.6 537.8,549.8 561.2,535.3 584.6,564.8 608,561.7 631.4,553.8 654.8,559.8 678.2,552.7 701.6,558 725,558.5 748.4,551.1 771.8,553.9 795.2,557.9 818.6,569.4 842,572.3"/><polyline points="140.1,305.1 163.5,532.1 186.9,430.1 210.3,549.7 233.7,570.9 257.1,511.3 280.5,563.9 303.9,556.6 327.3,530 350.7,541.7 374.1,540.8 397.5,550.7 420.9,545.7 444.3,560.7 467.7,559.2 491,557 514.4,568.6 537.8,559.1 561.2,555.6 584.6,570.1 608,571.6 631.4,544.4 654.8,515.4 678.2,547.6 701.6,531.7 725,533.4 748.4,535.3 771.8,544.3 795.2,549.2 818.6,556.1 842,572.3"/><polyline points="140.1,358.5 163.5,373.6 186.9,563.6 210.3,555.6 233.7,497.2 257.1,560.9 280.5,534.1 303.9,534.5 327.3,546.1 350.7,521.4 374.1,532.8 397.5,493.9 420.9,500.2 444.3,492.3 467.7,515.4 491,519.8 514.4,543.3 537.8,551.2 561.2,547.7 584.6,559.8 608,551.6 631.4,535.6 654.8,567.3 678.2,569.9 701.6,550.6 725,555.2 748.4,566.5 771.8,560.1 795.2,550.2 818.6,553.8 842,572.3"/><polyline points="140.1,387.2 163.5,442.4 186.9,546.8 210.3,417.8 233.7,517.9 257.1,536.6 280.5,530.5 303.9,460.7 327.3,462.3 350.7,517.5 374.1,519.3 397.5,529.3 420.9,533.7 444.3,536.6 467.7,536.3 491,512.1 514.4,528.2 537.8,515.5 561.2,532.5 584.6,531.6 608,537.8 631.4,525.4 654.8,523.7 678.2,517.9 701.6,524.6 725,533.5 748.4,561.5 771.8,549.9 795.2,540.3 818.6,553.8 842,572.3"/><polyline points="140.1,515.1 163.5,452.1 186.9,478.6 210.3,480.3 233.7,557.4 257.1,559.3 280.5,535.4 303.9,551 327.3,506.3 350.7,531.3 374.1,489 397.5,493 420.9,484.7 444.3,469.1 467.7,499 491,548.4 514.4,554.2 537.8,558.6 561.2,545.3 584.6,567.9 608,566.3 631.4,564.4 654.8,558.7 678.2,563.3 701.6,561 725,554.3 748.4,563.9 771.8,567.1 795.2,563.3 818.6,563.2 842,572.3"/><polyline points="140.1,199.1 163.5,477.3 186.9,522.6 210.3,525.6 233.7,480.3 257.1,556.7 280.5,571.7 303.9,546.1 327.3,499.9 350.7,498.3 374.1,480.8 397.5,473.1 420.9,443.4 444.3,444.4 467.7,493 491,517.1 514.4,522.4 537.8,485.4 561.2,499.8 584.6,524.6 608,523.3 631.4,522.5 654.8,509.6 678.2,514.6 701.6,516.4 725,545.2 748.4,557.3 771.8,560.9 795.2,561.2 818.6,555.4 842,572.3"/><polyline points="140.1,458.6 163.5,417.4 186.9,268.9 210.3,298.1 233.7,389.7 257.1,501.1 280.5,560.7 303.9,559.3 327.3,570.4 350.7,570.5 374.1,540.1 397.5,555.7 420.9,551.2 444.3,570.5 467.7,567.9 491,524.8 514.4,509.5 537.8,513.2 561.2,539.6 584.6,545.6 608,544.1 631.4,566.6 654.8,566.2 678.2,566.7 701.6,559.6 725,540.6 748.4,544.3 771.8,552.9 795.2,566.5 818.6,563.4 842,572.3"/><polyline points="140.1,569 163.5,545.3 186.9,493.3 210.3,438.2 233.7,363.7 257.1,282.8 280.5,297.5 303.9,354.8 327.3,348.6 350.7,392.3 374.1,415.5 397.5,393.3 420.9,441.1 444.3,443.5 467.7,464.4 491,475.3 514.4,487.7 537.8,497.3 561.2,530.4 584.6,530.4 608,517.8 631.4,493 654.8,508 678.2,526.3 701.6,514.7 725,544.5 748.4,546 771.8,545.7 795.2,543.6 818.6,560.8 842,572.3"/><polyline points="140.1,515.1 163.5,494.9 186.9,379.6 210.3,494.5 233.7,512.8 257.1,472.9 280.5,414.7 303.9,489.7 327.3,522.6 350.7,534.3 374.1,545.7 397.5,557.4 420.9,559.4 444.3,520.8 467.7,499.4 491,499.3 514.4,492.7 537.8,507.3 561.2,528.4 584.6,521.4 608,556.9 631.4,571.5 654.8,561.1 678.2,561.7 701.6,560.5 725,557.7 748.4,551.3 771.8,530.6 795.2,530.8 818.6,548.4 842,572.3"/><polyline points="140.1,497.6 163.5,566.3 186.9,571.7 210.3,548.3 233.7,548.7 257.1,535.9 280.5,514.5 303.9,468.8 327.3,534.2 350.7,544.7 374.1,544.1 397.5,496.4 420.9,497.8 444.3,490.1 467.7,513.4 491,514.5 514.4,477 537.8,488.6 561.2,502.8 584.6,524.9 608,531.4 631.4,541.6 654.8,557.9 678.2,537.4 701.6,556.5 725,557.3 748.4,560.2 771.8,571.6 795.2,552.6 818.6,563.2 842,572.3"/><polyline points="140.1,358.5 163.5,372.9 186.9,453 210.3,464.1 233.7,557.5 257.1,570 280.5,491.2 303.9,458.1 327.3,474.7 350.7,518 374.1,498.7 397.5,464.3 420.9,526.1 444.3,533.5 467.7,548.5 491,505.2 514.4,544.4 537.8,551.4 561.2,532.9 584.6,531.5 608,524.7 631.4,530.8 654.8,532.5 678.2,529.4 701.6,530.5 725,515.1 748.4,528.6 771.8,536.7 795.2,547.4 818.6,562.3 842,572.3"/><polyline points="140.1,388.7 163.5,514.5 186.9,495.5 210.3,553.2 233.7,534.2 257.1,571.1 280.5,508 303.9,569 327.3,570.7 350.7,552.4 374.1,565.6 397.5,538 420.9,533.9 444.3,531.8 467.7,563.8 491,543.3 514.4,534 537.8,546.4 561.2,548 584.6,549.9 608,568.7 631.4,541.6 654.8,539.1 678.2,539.1 701.6,538.1 725,535.7 748.4,539.8 771.8,545 795.2,570.7 818.6,553.8 842,572.3"/><polyline points="140.1,-122.2 163.5,258.5 186.9,344 210.3,376.7 233.7,559.2 257.1,530.3 280.5,562.7 303.9,571.3 327.3,541.8 350.7,548.3 374.1,555.6 397.5,569.8 420.9,569.7 444.3,563.6 467.7,570 491,548.5 514.4,564.9 537.8,546.6 561.2,557.7 584.6,561.9 608,561.8 631.4,542.1 654.8,551.4 678.2,536.7 701.6,533.6 725,546.6 748.4,558.9 771.8,569.2 795.2,570.7 818.6,552.3 842,572.3"/><polyline points="140.1,-122.2 163.5,258.5 186.9,424.3 210.3,514.8 233.7,529.9 257.1,542.8 280.5,554.9 303.9,518.7 327.3,558.5 350.7,533.1 374.1,471.5 397.5,483.3 420.9,484.4 444.3,456 467.7,469.5 491,464.4 514.4,448.8 537.8,455.5 561.2,460.9 584.6,491.8 608,508.6 631.4,495.8 654.8,507.1 678.2,523.8 701.6,533.2 725,551 748.4,547.6 771.8,551.9 795.2,571.2 818.6,570.4 842,572.3"/><polyline points="140.1,474.8 163.5,528.5 186.9,520.8 210.3,564.2 233.7,427 257.1,495.7 280.5,480.5 303.9,502.9 327.3,564.6 350.7,566.8 374.1,557.9 397.5,522.2 420.9,520.4 444.3,499.3 467.7,467.3 491,476.1 514.4,470.9 537.8,495.2 561.2,521.6 584.6,523.9 608,554.8 631.4,538.7 654.8,553.5 678.2,565.6 701.6,561.4 725,571.3 748.4,546.7 771.8,549.7 795.2,567.9 818.6,570.9 842,572.3"/><polyline points="140.1,569 163.5,525.2 186.9,449.8 210.3,566.9 233.7,561.7 257.1,525.1 280.5,533.8 303.9,547 327.3,529.5 350.7,503 374.1,454.8 397.5,510.7 420.9,508.8 444.3,526.4 467.7,543.7 491,557.1 514.4,560.6 537.8,521.4 561.2,527.1 584.6,523.7 608,508.2 631.4,489.1 654.8,494.2 678.2,526.4 701.6,548.5 725,560.9 748.4,568.2 771.8,558.9 795.2,560.7 818.6,569.4 842,572.3"/><polyline points="140.1,388.7 163.5,363.9 186.9,404.5 210.3,474.9 233.7,434.5 257.1,458 280.5,567.8 303.9,523.3 327.3,524.2 350.7,495.4 374.1,510.4 397.5,489.9 420.9,533.6 444.3,549.6 467.7,556.6 491,534.2 514.4,539.8 537.8,517.1 561.2,525.1 584.6,536.6 608,547.2 631.4,532.6 654.8,556.4 678.2,568.4 701.6,560 725,561.8 748.4,559.5 771.8,559.4 795.2,557.6 818.6,563.4 842,572.3"/><polyline points="140.1,497.6 163.5,361.9 186.9,343 210.3,570.6 233.7,430.2 257.1,554 280.5,570.5 303.9,524.1 327.3,550.2 350.7,541 374.1,547.6 397.5,569.4 420.9,570.6 444.3,560.6 467.7,561.2 491,556.2 514.4,555.1 537.8,559.8 561.2,544.7 584.6,532.4 608,555.4 631.4,564.5 654.8,561.1 678.2,562.8 701.6,541 725,544.5 748.4,564.2 771.8,556.9 795.2,554.4 818.6,566.2 842,572.3"/><polyline points="140.1,569 163.5,273.7 186.9,282.2 210.3,346 233.7,324 257.1,439.1 280.5,484.6 303.9,490.4 327.3,501 350.7,545.5 374.1,572.2 397.5,554.6 420.9,570 444.3,553 467.7,553.4 491,570.9 514.4,567.6 537.8,572 561.2,535.5 584.6,516.1 608,509.9 631.4,516.7 654.8,534.2 678.2,556 701.6,559.2 725,555.4 748.4,559.2 771.8,566.8 795.2,569.3 818.6,566.2 842,572.3"/><polyline points="140.1,387.2 163.5,364.7 186.9,438.4 210.3,298.3 233.7,375.8 257.1,363 280.5,456.1 303.9,428.6 327.3,397.5 350.7,463.6 374.1,470.3 397.5,475.4 420.9,503.4 444.3,472.1 467.7,484.7 491,501.6 514.4,526.1 537.8,559.5 561.2,560.3 584.6,565 608,570.3 631.4,556.5 654.8,566.4 678.2,559.1 701.6,562.3 725,551.1 748.4,548.7 771.8,552.2 795.2,550.9 818.6,569 842,572.3"/><polyline points="140.1,458.6 163.5,294.3 186.9,382.4 210.3,291.5 233.7,486.6 257.1,507.7 280.5,543.6 303.9,544.5 327.3,571.4 350.7,538.5 374.1,546.8 397.5,556.2 420.9,520 444.3,543.3 467.7,540.2 491,561.4 514.4,562.8 537.8,535.2 561.2,546.8 584.6,533.1 608,533.3 631.4,539.1 654.8,552.1 678.2,561.8 701.6,559.5 725,563.8 748.4,557.2 771.8,565.4 795.2,559.3 818.6,559.9 842,572.3"/><polyline points="140.1,558.7 163.5,429.5 186.9,543.1 210.3,522 233.7,388.7 257.1,327 280.5,312.6 303.9,344.7 327.3,447.1 350.7,519.7 374.1,500.2 397.5,548.4 420.9,570.8 444.3,567.5 467.7,570.5 491,566.4 514.4,538.2 537.8,528.2 561.2,552.8 584.6,567.5 608,546.6 631.4,550.4 654.8,552.9 678.2,561.3 701.6,569.2 725,562.3 748.4,569.5 771.8,568.4 795.2,571.9 818.6,569.4 842,572.3"/><polyline points="140.1,-144.6 163.5,-7.3 186.9,23.9 210.3,139.1 233.7,183 257.1,299 280.5,410.4 303.9,422.3 327.3,418.6 350.7,426.5 374.1,438.5 397.5,474.6 420.9,455.5 444.3,477.1 467.7,505.9 491,527.1 514.4,534.9 537.8,506.2 561.2,541.3 584.6,567 608,567.4 631.4,566.1 654.8,562.1 678.2,570.2 701.6,563.6 725,566.1 748.4,567.9 771.8,561.5 795.2,565.7 818.6,566.2 842,572.3"/><polyline points="140.1,-122.2 163.5,71.5 186.9,224.8 210.3,490.9 233.7,550 257.1,547.9 280.5,524.7 303.9,455.6 327.3,481.2 350.7,490.6 374.1,499.3 397.5,482.6 420.9,532.1 444.3,513.6 467.7,495.1 491,505.4 514.4,506 537.8,528.9 561.2,534.7 584.6,531.7 608,537.2 631.4,530.4 654.8,543.9 678.2,560.6 701.6,544.1 725,563.9 748.4,571.1 771.8,557.7 795.2,569 818.6,569.4 842,572.3"/><polyline points="140.1,-122.2 163.5,468 186.9,333.9 210.3,396.9 233.7,412.5 257.1,450.3 280.5,441 303.9,480.4 327.3,470.3 350.7,507.2 374.1,513.4 397.5,511.1 420.9,492.2 444.3,473.9 467.7,485.4 491,525.5 514.4,526.2 537.8,549.5 561.2,547.6 584.6,566.2 608,567.9 631.4,564.2 654.8,568.2 678.2,546.3 701.6,549 725,571.6 748.4,556.6 771.8,572.3 795.2,568.4 818.6,562.3 842,572.3"/><polyline points="140.1,273.1 163.5,363.5 186.9,317.7 210.3,391.6 233.7,425 257.1,459.1 280.5,444.7 303.9,437.7 327.3,473 350.7,491.6 374.1,458.7 397.5,491 420.9,459.9 444.3,474.9 467.7,483.7 491,485 514.4,490 537.8,533.1 561.2,521.1 584.6,540.5 608,538.5 631.4,514.8 654.8,512.4 678.2,499.3 701.6,519.2 725,540.7 748.4,535 771.8,533.2 795.2,555.3 818.6,566.1 842,572.3"/><polyline points="140.1,537.4 163.5,207.6 186.9,226.8 210.3,244.9 233.7,290.8 257.1,418.7 280.5,392.6 303.9,424.4 327.3,490 350.7,438.2 374.1,451.6 397.5,477 420.9,479.9 444.3,501.8 467.7,529.6 491,567.6 514.4,557 537.8,570.2 561.2,560.6 584.6,540.1 608,537.5 631.4,539.2 654.8,543.5 678.2,555.9 701.6,536.3 725,541 748.4,546.4 771.8,540.7 795.2,540.3 818.6,559.9 842,572.3"/><polyline points="140.1,385.6 163.5,444.5 186.9,302.6 210.3,384.3 233.7,379.1 257.1,366.8 280.5,422.3 303.9,426.9 327.3,363.4 350.7,394 374.1,403.4 397.5,467.5 420.9,478.3 444.3,504.5 467.7,529.5 491,553.2 514.4,553.5 537.8,549.7 561.2,555.4 584.6,552.9 608,557.7 631.4,558.5 654.8,569.3 678.2,561.7 701.6,565.5 725,571.7 748.4,554.1 771.8,572.1 795.2,570.7 818.6,562.3 842,572.3"/><polyline points="140.1,-28.1 163.5,379 186.9,274.6 210.3,334.7 233.7,419 257.1,502.2 280.5,514.2 303.9,544.6 327.3,526.9 350.7,564.6 374.1,554.9 397.5,550.2 420.9,539.3 444.3,551.7 467.7,569.1 491,569.8 514.4,568.9 537.8,553.9 561.2,538.7 584.6,536.1 608,529.1 631.4,534.1 654.8,534.2 678.2,518.2 701.6,535.3 725,536.8 748.4,548 771.8,568.6 795.2,558.5 818.6,557.6 842,572.3"/><polyline points="140.1,65.9 163.5,275.8 186.9,490 210.3,514 233.7,488.3 257.1,522.8 280.5,572 303.9,567.6 327.3,568.5 350.7,557.3 374.1,562.4 397.5,531.3 420.9,563.2 444.3,572 467.7,535.7 491,555.1 514.4,551.7 537.8,548 561.2,558.8 584.6,550.3 608,536.7 631.4,533.9 654.8,547.2 678.2,566.7 701.6,564.6 725,572 748.4,554.6 771.8,570.3 795.2,568.1 818.6,561.1 842,572.3"/><polyline points="140.1,86.5 163.5,272.6 186.9,283.4 210.3,338.9 233.7,311 257.1,342.1 280.5,387.3 303.9,448.8 327.3,452.8 350.7,446.4 374.1,474.8 397.5,491.1 420.9,511.4 444.3,565.4 467.7,545 491,558.3 514.4,534.2 537.8,537.1 561.2,536.8 584.6,570.2 608,561.3 631.4,557.6 654.8,571.3 678.2,571.2 701.6,553.5 725,541 748.4,544.2 771.8,537.6 795.2,559.5 818.6,571.1 842,572.3"/><polyline points="140.1,130 163.5,313.8 186.9,238 210.3,405.6 233.7,498.8 257.1,480.5 280.5,414.5 303.9,457.1 327.3,428.4 350.7,452.6 374.1,468.7 397.5,512.6 420.9,538.2 444.3,535.9 467.7,537.4 491,542.1 514.4,537.2 537.8,499.3 561.2,513 584.6,515.8 608,520.2 631.4,545.5 654.8,550.5 678.2,543.7 701.6,531 725,544.4 748.4,535.5 771.8,533.7 795.2,527.6 818.6,552.3 842,572.3"/><polyline points="140.1,458.6 163.5,537.6 186.9,550.2 210.3,382.1 233.7,563.6 257.1,533.9 280.5,496.6 303.9,464.1 327.3,514.6 350.7,527 374.1,571.3 397.5,572 420.9,557.8 444.3,549.6 467.7,556.6 491,540.9 514.4,558.8 537.8,532.6 561.2,550.8 584.6,556.2 608,561.6 631.4,545.2 654.8,538.4 678.2,536.7 701.6,529.5 725,554.3 748.4,557.1 771.8,571.9 795.2,570.5 818.6,571.1 842,572.3"/><polyline points="140.1,265.3 163.5,118.6 186.9,307.7 210.3,374.7 233.7,488.8 257.1,432.2 280.5,409.4 303.9,490.5 327.3,422.4 350.7,444.9 374.1,521.7 397.5,523 420.9,522.4 444.3,532.2 467.7,564.4 491,565.7 514.4,550 537.8,545.8 561.2,545.1 584.6,549.8 608,542.1 631.4,528.2 654.8,522 678.2,535.3 701.6,516.5 725,525.7 748.4,535.3 771.8,549 795.2,546.8 818.6,553.8 842,572.3"/><polyline points="140.1,484.5 163.5,548.9 186.9,568.3 210.3,500.5 233.7,555.1 257.1,500.3 280.5,523 303.9,495.7 327.3,424.6 350.7,439 374.1,467.8 397.5,518.7 420.9,514.1 444.3,542.3 467.7,539.3 491,529.8 514.4,528.3 537.8,500 561.2,513.7 584.6,537.8 608,552.4 631.4,557.8 654.8,537.3 678.2,529.8 701.6,543.8 725,544.4 748.4,529 771.8,552 795.2,546.4 818.6,570.4 842,572.3"/><polyline points="140.1,387.2 163.5,236.9 186.9,323.8 210.3,407.6 233.7,460 257.1,509.8 280.5,562.6 303.9,555.5 327.3,555.8 350.7,557.2 374.1,535.7 397.5,507.7 420.9,486 444.3,528.3 467.7,534 491,538.6 514.4,568.7 537.8,551.1 561.2,514.5 584.6,508.2 608,505.8 631.4,508.7 654.8,502.2 678.2,512.7 701.6,528.6 725,540.8 748.4,544 771.8,541.9 795.2,566.9 818.6,563.4 842,572.3"/><polyline points="140.1,569 163.5,384.1 186.9,529 210.3,515.4 233.7,549.5 257.1,522.8 280.5,430.7 303.9,443.3 327.3,537.3 350.7,559.3 374.1,532.5 397.5,510.9 420.9,469.5 444.3,463.5 467.7,488.5 491,505.2 514.4,521.8 537.8,555.3 561.2,533.9 584.6,558 608,562.8 631.4,560.2 654.8,556.9 678.2,559.9 701.6,557.5 725,568.5 748.4,555.9 771.8,568.4 795.2,571.6 818.6,571.1 842,572.3"/><polyline points="140.1,458.6 163.5,294.3 186.9,499 210.3,477.2 233.7,533.2 257.1,485.4 280.5,418.7 303.9,450.1 327.3,425.2 350.7,448.6 374.1,435.6 397.5,406.5 420.9,472.6 444.3,453.1 467.7,455.2 491,479.6 514.4,503.1 537.8,503.2 561.2,509.9 584.6,538.3 608,531.2 631.4,534.7 654.8,527 678.2,541.4 701.6,542.5 725,550.8 748.4,553.1 771.8,551.1 795.2,551.4 818.6,558.2 842,572.3"/><polyline points="140.1,-28.1 163.5,309.4 186.9,255.9 210.3,326.3 233.7,518.9 257.1,542.4 280.5,548.5 303.9,559 327.3,542.7 350.7,551.4 374.1,563.4 397.5,569.7 420.9,554.1 444.3,561.6 467.7,565 491,554 514.4,569.7 537.8,570.6 561.2,548.3 584.6,554.4 608,564.1 631.4,554.8 654.8,555.4 678.2,537.7 701.6,531.7 725,528.8 748.4,537.2 771.8,563.3 795.2,570.7 818.6,555.4 842,572.3"/><polyline points="140.1,474.8 163.5,480.2 186.9,518.3 210.3,478.4 233.7,460.1 257.1,467.7 280.5,444.5 303.9,483.8 327.3,498.2 350.7,496.8 374.1,503.4 397.5,544.4 420.9,550.9 444.3,555 467.7,570.3 491,546.6 514.4,566.7 537.8,528.5 561.2,559.9 584.6,551.4 608,570.1 631.4,571 654.8,566.1 678.2,565.5 701.6,559.4 725,571.4 748.4,560.7 771.8,557.9 795.2,552.1 818.6,571.8 842,572.3"/><polyline points="140.1,537.4 163.5,418.2 186.9,531.3 210.3,495.7 233.7,426.4 257.1,441.1 280.5,445.9 303.9,517 327.3,567.4 350.7,561.2 374.1,555.1 397.5,553.2 420.9,508.5 444.3,521.1 467.7,547.6 491,550 514.4,531.6 537.8,534 561.2,545.7 584.6,560.4 608,571.1 631.4,557.2 654.8,554.1 678.2,533.8 701.6,507.5 725,512.9 748.4,518.3 771.8,540 795.2,534.7 818.6,559.9 842,572.3"/><polyline points="140.1,-122.2 163.5,468 186.9,483.7 210.3,484.2 233.7,499.4 257.1,557.1 280.5,543 303.9,546.3 327.3,558.1 350.7,567 374.1,512.9 397.5,563.9 420.9,541 444.3,556.4 467.7,563.3 491,569.2 514.4,571.5 537.8,550.8 561.2,528.6 584.6,545.8 608,536.9 631.4,535.4 654.8,538.8 678.2,539.6 701.6,548.4 725,536 748.4,541 771.8,560.2 795.2,551.4 818.6,566.2 842,572.3"/><polyline points="140.1,385.6 163.5,570.8 186.9,542.4 210.3,473.1 233.7,438.3 257.1,522.8 280.5,530.4 303.9,460.6 327.3,527 350.7,541.4 374.1,553.1 397.5,532.4 420.9,529.8 444.3,535.3 467.7,536.8 491,541.6 514.4,536.7 537.8,541.9 561.2,538.9 584.6,561.7 608,553.4 631.4,558.8 654.8,537.3 678.2,526.3 701.6,542 725,545.7 748.4,554.6 771.8,569.6 795.2,563.4 818.6,566.2 842,572.3"/><polyline points="140.1,86.5 163.5,108.2 186.9,238 210.3,331.8 233.7,269.2 257.1,262 280.5,392.1 303.9,438 327.3,440.3 350.7,453.2 374.1,480.6 397.5,513.9 420.9,513.2 444.3,490.8 467.7,498.5 491,521.9 514.4,528.2 537.8,549.3 561.2,571.8 584.6,566.9 608,568.6 631.4,544.3 654.8,567.9 678.2,564.5 701.6,564.2 725,567.9 748.4,558.1 771.8,551 795.2,561.2 818.6,555.4 842,572.3"/><polyline points="140.1,485.7 163.5,571.7 186.9,447.5 210.3,515.8 233.7,529.8 257.1,549.3 280.5,504.6 303.9,475.7 327.3,535.5 350.7,557.7 374.1,568.9 397.5,546.9 420.9,511.5 444.3,500.5 467.7,533.6 491,538.5 514.4,498.3 537.8,505.6 561.2,518.8 584.6,493.8 608,502.2 631.4,506.9 654.8,517.9 678.2,533 701.6,554.8 725,542.1 748.4,539.1 771.8,540.1 795.2,538.9 818.6,563.2 842,572.3"/><polyline points="140.1,558.7 163.5,508.6 186.9,502.7 210.3,474.3 233.7,486.9 257.1,455.6 280.5,482.9 303.9,489 327.3,488.6 350.7,541.2 374.1,568.3 397.5,526.5 420.9,506.4 444.3,497.8 467.7,517 491,543.8 514.4,556.2 537.8,554 561.2,560.5 584.6,536.8 608,529.7 631.4,550.9 654.8,564.8 678.2,554.4 701.6,569 725,542.4 748.4,570.1 771.8,572.1 795.2,569 818.6,569 842,572.3"/><polyline points="140.1,273.1 163.5,405.2 186.9,550 210.3,495.8 233.7,510.4 257.1,509.6 280.5,557.6 303.9,566.6 327.3,518.1 350.7,502.1 374.1,571.6 397.5,542.8 420.9,536.4 444.3,545.9 467.7,499.9 491,523.6 514.4,521.3 537.8,528.9 561.2,505.6 584.6,539 608,531.8 631.4,533.1 654.8,542.7 678.2,551.7 701.6,530.4 725,545 748.4,561.6 771.8,555.4 795.2,557.4 818.6,569.8 842,572.3"/><polyline points="140.1,236.2 163.5,437.7 186.9,463.5 210.3,469 233.7,511.5 257.1,507.2 280.5,473.8 303.9,422.8 327.3,392.3 350.7,421.7 374.1,431.7 397.5,458.7 420.9,504.8 444.3,496.3 467.7,489.1 491,517.7 514.4,502.8 537.8,491.5 561.2,514 584.6,517.6 608,546.5 631.4,557.4 654.8,558.2 678.2,561.9 701.6,538.3 725,556.6 748.4,560.5 771.8,557.4 795.2,556.7 818.6,563.4 842,572.3"/><polyline points="140.1,531.4 163.5,204.6 186.9,227.4 210.3,332.3 233.7,383 257.1,408.8 280.5,495.3 303.9,513.3 327.3,482.5 350.7,528.8 374.1,523.9 397.5,537.4 420.9,554.2 444.3,570 467.7,564.3 491,553.3 514.4,561.6 537.8,567 561.2,557.5 584.6,530.6 608,532.4 631.4,546.7 654.8,569.8 678.2,572.3 701.6,565 725,553.5 748.4,547.2 771.8,570.9 795.2,559 818.6,565.2 842,572.3"/><polyline points="140.1,199.1 163.5,547.2 186.9,556.6 210.3,462.6 233.7,521.2 257.1,498.6 280.5,539.6 303.9,505.3 327.3,522.5 350.7,545.4 374.1,507.6 397.5,503.5 420.9,529.9 444.3,554.3 467.7,566.7 491,535.4 514.4,535.2 537.8,541.4 561.2,537.9 584.6,543 608,515.8 631.4,526.7 654.8,543.7 678.2,542.5 701.6,536.4 725,548 748.4,555.8 771.8,553.3 795.2,571.6 818.6,571.1 842,572.3"/><polyline points="140.1,505.4 163.5,352.3 186.9,400.7 210.3,440.2 233.7,478.1 257.1,543.7 280.5,535.2 303.9,513.1 327.3,507.1 350.7,495.1 374.1,556.7 397.5,542.7 420.9,559.3 444.3,520.7 467.7,552.4 491,559.3 514.4,554.4 537.8,540.2 561.2,565.1 584.6,565.7 608,544.5 631.4,549.7 654.8,564 678.2,572 701.6,571 725,558.1 748.4,557.3 771.8,567.4 795.2,565.1 818.6,556.1 842,572.3"/><polyline points="140.1,505.4 163.5,452.2 186.9,554 210.3,544.2 233.7,552 257.1,493.2 280.5,518.4 303.9,435.5 327.3,460.4 350.7,462.8 374.1,489.7 397.5,496.3 420.9,501.1 444.3,536.4 467.7,565.7 491,564 514.4,568.8 537.8,556.3 561.2,569.7 584.6,544.5 608,569 631.4,550.3 654.8,563.1 678.2,571.1 701.6,545.6 725,535.1 748.4,535 771.8,542.9 795.2,553.1 818.6,568.5 842,572.3"/><polyline points="140.1,273.1 163.5,269.2 186.9,554.7 210.3,385.5 233.7,511.3 257.1,566 280.5,568.1 303.9,523 327.3,461.8 350.7,445.5 374.1,453.9 397.5,492.6 420.9,492 444.3,484.7 467.7,490.7 491,474.8 514.4,491.5 537.8,506.2 561.2,483 584.6,478.1 608,492.8 631.4,500.4 654.8,508.5 678.2,511.7 701.6,533.5 725,533.5 748.4,532.8 771.8,536.9 795.2,550.9 818.6,569 842,572.3"/><polyline points="140.1,-28.1 163.5,548.9 186.9,537.6 210.3,563 233.7,526.3 257.1,559.5 280.5,547.4 303.9,539.7 327.3,543.6 350.7,512.9 374.1,561.1 397.5,565 420.9,546.5 444.3,535 467.7,569.9 491,552.9 514.4,558.5 537.8,560 561.2,564.3 584.6,555.5 608,547.5 631.4,544.7 654.8,540.9 678.2,543.9 701.6,531.2 725,544.3 748.4,552.1 771.8,537 795.2,530.9 818.6,555.4 842,572.3"/><polyline points="140.1,-144.6 163.5,157 186.9,327.9 210.3,515.6 233.7,512 257.1,491.5 280.5,542.1 303.9,511.9 327.3,509 350.7,481.7 374.1,462.8 397.5,469 420.9,519.5 444.3,558 467.7,556.2 491,562.7 514.4,559.9 537.8,564.8 561.2,569.6 584.6,570.4 608,561.4 631.4,541.8 654.8,543 678.2,528.6 701.6,523 725,522.3 748.4,535.5 771.8,552 795.2,571.2 818.6,566.2 842,572.3"/><polyline points="140.1,130 163.5,540.3 186.9,531.9 210.3,423.4 233.7,571.3 257.1,537.5 280.5,554.1 303.9,564.8 327.3,561.7 350.7,554.1 374.1,557 397.5,564 420.9,556.3 444.3,527.2 467.7,530.4 491,521.4 514.4,531.1 537.8,537.5 561.2,534.2 584.6,501.4 608,531.1 631.4,531.1 654.8,540.9 678.2,530.8 701.6,546.3 725,566 748.4,571.5 771.8,562.4 795.2,569 818.6,569.4 842,572.3"/><polyline points="140.1,-122.2 163.5,133.5 186.9,250.9 210.3,284.6 233.7,322.6 257.1,483.7 280.5,453.6 303.9,515.1 327.3,487.3 350.7,544.4 374.1,548.2 397.5,559.7 420.9,565.8 444.3,546.7 467.7,551.2 491,560.5 514.4,565.5 537.8,550.7 561.2,561.5 584.6,554.8 608,568.8 631.4,553.6 654.8,528.3 678.2,533.8 701.6,534 725,535.6 748.4,544.9 771.8,558.2 795.2,565.1 818.6,563.4 842,572.3"/><polyline points="140.1,474.8 163.5,344.3 186.9,439.4 210.3,455.9 233.7,545.4 257.1,434.1 280.5,464.5 303.9,443.8 327.3,496.5 350.7,485.8 374.1,518 397.5,522.8 420.9,523.4 444.3,496.7 467.7,549.5 491,562.4 514.4,552 537.8,551.2 561.2,566.7 584.6,557.7 608,562.6 631.4,568 654.8,553.6 678.2,541.6 701.6,543.3 725,548.8 748.4,563.5 771.8,571.5 795.2,570.1 818.6,555.4 842,572.3"/><polyline points="140.1,497.6 163.5,560.9 186.9,432.5 210.3,288.2 233.7,465.1 257.1,438.4 280.5,448 303.9,440.4 327.3,489.2 350.7,516.2 374.1,567.3 397.5,536.6 420.9,542.5 444.3,569.7 467.7,549.9 491,549.2 514.4,570.9 537.8,542.9 561.2,533.2 584.6,510.9 608,529.8 631.4,534.3 654.8,528 678.2,529.7 701.6,542.3 725,570.2 748.4,569.8 771.8,565.8 795.2,563 818.6,566.2 842,572.3"/><polyline points="140.1,515.1 163.5,563.6 186.9,549.2 210.3,508.3 233.7,514.1 257.1,467.8 280.5,484.7 303.9,472.8 327.3,563.5 350.7,531.7 374.1,544.2 397.5,571.5 420.9,569.9 444.3,539.8 467.7,546.4 491,568.9 514.4,548.7 537.8,556 561.2,568.1 584.6,568.2 608,558.2 631.4,550.4 654.8,547.6 678.2,560 701.6,563.9 725,559.1 748.4,562.8 771.8,572 795.2,568 818.6,566.2 842,572.3"/><polyline points="140.1,388.7 163.5,529.3 186.9,509.9 210.3,516.8 233.7,528.3 257.1,504.8 280.5,522.6 303.9,519.5 327.3,445.7 350.7,500.7 374.1,463 397.5,497.7 420.9,482.9 444.3,489.1 467.7,480.4 491,464.5 514.4,511.7 537.8,494.3 561.2,530 584.6,548.9 608,549.4 631.4,571.1 654.8,567.4 678.2,570.4 701.6,563 725,567.8 748.4,571.2 771.8,564.7 795.2,554.6 818.6,553.8 842,572.3"/><polyline points="140.1,569 163.5,226.7 186.9,322.8 210.3,471.7 233.7,555.6 257.1,546 280.5,486.5 303.9,470.5 327.3,491.5 350.7,481 374.1,543.9 397.5,515.2 420.9,514.4 444.3,517.6 467.7,473.4 491,511.3 514.4,530.9 537.8,550.3 561.2,561.1 584.6,571 608,571.6 631.4,567.2 654.8,554.4 678.2,558.8 701.6,545.9 725,551.3 748.4,562 771.8,562.5 795.2,556.5 818.6,558.2 842,572.3"/><polyline points="140.1,537.4 163.5,461.5 186.9,396.1 210.3,266.5 233.7,381.1 257.1,398.5 280.5,472.8 303.9,485.6 327.3,496.8 350.7,522.8 374.1,510.7 397.5,569 420.9,560.5 444.3,561.9 467.7,552.6 491,569.8 514.4,552.7 537.8,523 561.2,516 584.6,514.4 608,507 631.4,506.9 654.8,511.5 678.2,531.7 701.6,537.2 725,519.9 748.4,540.6 771.8,543.8 795.2,554.2 818.6,569.8 842,572.3"/><polyline points="140.1,497.6 163.5,443.2 186.9,324.3 210.3,340 233.7,487.7 257.1,511.4 280.5,519.6 303.9,568.2 327.3,571.4 350.7,546.4 374.1,540.8 397.5,546.3 420.9,571.9 444.3,540.4 467.7,562.1 491,558.6 514.4,558.6 537.8,568.6 561.2,564.3 584.6,543.5 608,531.9 631.4,543.4 654.8,547.6 678.2,571.7 701.6,564.4 725,566.6 748.4,552.1 771.8,546.1 795.2,550.9 818.6,548.4 842,572.3"/><polyline points="140.1,299 163.5,542.6 186.9,554.2 210.3,542 233.7,457.6 257.1,426.9 280.5,485.8 303.9,505.9 327.3,551.8 350.7,535.4 374.1,555.4 397.5,572.2 420.9,558.1 444.3,566.1 467.7,566.3 491,521.9 514.4,544.6 537.8,521.6 561.2,528.8 584.6,556.3 608,548.3 631.4,567.9 654.8,571.9 678.2,570.2 701.6,554.9 725,567.3 748.4,561.4 771.8,560.5 795.2,570.8 818.6,571.8 842,572.3"/><polyline points="140.1,265.3 163.5,452.2 186.9,563.5 210.3,415.6 233.7,449.7 257.1,439 280.5,415.3 303.9,490.2 327.3,422.2 350.7,446 374.1,432.6 397.5,466.5 420.9,435.7 444.3,453.6 467.7,461.7 491,499 514.4,535.8 537.8,542 561.2,521.3 584.6,521.8 608,542 631.4,568.6 654.8,553.7 678.2,562.1 701.6,568.6 725,567.4 748.4,565.5 771.8,572.3 795.2,566 818.6,569 842,572.3"/><polyline points="140.1,569 163.5,526.8 186.9,461.5 210.3,517.6 233.7,511.2 257.1,515.6 280.5,517.8 303.9,558 327.3,553.3 350.7,552.1 374.1,536.1 397.5,513.5 420.9,534.5 444.3,561.9 467.7,569.7 491,568.7 514.4,569.7 537.8,553.2 561.2,561.3 584.6,539.7 608,565.4 631.4,562.3 654.8,567.3 678.2,547.2 701.6,559.2 725,566.7 748.4,560.1 771.8,567.2 795.2,553.2 818.6,556.1 842,572.3"/><polyline points="140.1,236.2 163.5,192.5 186.9,323.7 210.3,507.3 233.7,480.9 257.1,505.7 280.5,521.1 303.9,561.6 327.3,521.3 350.7,519 374.1,515.8 397.5,523.5 420.9,564 444.3,540.5 467.7,554.8 491,561.3 514.4,551.1 537.8,559 561.2,570.9 584.6,570.8 608,560.7 631.4,569.8 654.8,569.7 678.2,551.4 701.6,544.9 725,557.8 748.4,561.9 771.8,559.9 795.2,566.8 818.6,560.8 842,572.3"/><polyline points="140.1,226.2 163.5,398.1 186.9,256 210.3,260.3 233.7,466.1 257.1,474.2 280.5,497.8 303.9,502.7 327.3,540.2 350.7,543.7 374.1,564.4 397.5,544.3 420.9,532.1 444.3,498.8 467.7,497.9 491,491.1 514.4,490.1 537.8,477.7 561.2,464.9 584.6,474 608,501.9 631.4,525.2 654.8,532.2 678.2,541.5 701.6,543.3 725,542.9 748.4,564.5 771.8,567.9 795.2,558.6 818.6,565.2 842,572.3"/><polyline points="140.1,485.7 163.5,392.4 186.9,490.2 210.3,567.1 233.7,516.6 257.1,526.4 280.5,506.5 303.9,488 327.3,443.4 350.7,384.6 374.1,447.7 397.5,516 420.9,520.1 444.3,566.7 467.7,571.1 491,550.1 514.4,549.4 537.8,554.8 561.2,565.6 584.6,563.3 608,555 631.4,553.9 654.8,569.8 678.2,570.5 701.6,566.7 725,561.4 748.4,569 771.8,566.7 795.2,563.9 818.6,570.4 842,572.3"/><polyline points="140.1,387.2 163.5,515.2 186.9,462.9 210.3,527.7 233.7,554.2 257.1,511.7 280.5,494.2 303.9,480.6 327.3,456.7 350.7,464.2 374.1,490.7 397.5,439.6 420.9,403.6 444.3,455.2 467.7,477.3 491,499.9 514.4,524.5 537.8,503.7 561.2,532.8 584.6,535.5 608,537.4 631.4,542.4 654.8,541.2 678.2,538.4 701.6,526.3 725,526.8 748.4,532.7 771.8,547.4 795.2,545.3 818.6,570.1 842,572.3"/><polyline points="140.1,65.9 163.5,540.3 186.9,438.9 210.3,322.2 233.7,394.9 257.1,394 280.5,521.9 303.9,547.2 327.3,564.2 350.7,531 374.1,528.7 397.5,557.9 420.9,565.7 444.3,568.6 467.7,551.1 491,571.1 514.4,560.4 537.8,564.2 561.2,569.8 584.6,569.2 608,542.2 631.4,553.3 654.8,557.3 678.2,572.2 701.6,572.1 725,570.9 748.4,559.8 771.8,566.9 795.2,562.9 818.6,566.1 842,572.3"/><polyline points="140.1,305.1 163.5,346.2 186.9,420.5 210.3,564.3 233.7,548.3 257.1,539.9 280.5,571.2 303.9,528.1 327.3,491.5 350.7,503.1 374.1,572.1 397.5,512.8 420.9,524 444.3,547 467.7,569.1 491,562.2 514.4,565.2 537.8,545.6 561.2,547.8 584.6,539.8 608,564.5 631.4,571.4 654.8,568.5 678.2,571.1 701.6,569.6 725,566.7 748.4,546.4 771.8,565.4 795.2,567.4 818.6,562.3 842,572.3"/><polyline points="140.1,537.4 163.5,552.4 186.9,443.7 210.3,365.3 233.7,353.2 257.1,354.1 280.5,383.3 303.9,414.1 327.3,411.1 350.7,355.6 374.1,391.9 397.5,434.9 420.9,416.8 444.3,434.1 467.7,489.6 491,489.3 514.4,512.2 537.8,484.8 561.2,494.6 584.6,512.1 608,523.9 631.4,549.1 654.8,563.1 678.2,560.7 701.6,566.5 725,565.1 748.4,569.6 771.8,557.5 795.2,565.9 818.6,572.2 842,572.3"/><polyline points="140.1,385.6 163.5,310.9 186.9,298.3 210.3,367.6 233.7,445.3 257.1,524.1 280.5,504.8 303.9,568.6 327.3,538.6 350.7,499.6 374.1,530.5 397.5,476.1 420.9,479.1 444.3,512.4 467.7,522.3 491,519.3 514.4,520.4 537.8,533.5 561.2,561.2 584.6,555.2 608,552.8 631.4,567.7 654.8,571.6 678.2,568.6 701.6,568.2 725,569.9 748.4,562.1 771.8,564.1 795.2,555.5 818.6,552.3 842,572.3"/><polyline points="140.1,387.2 163.5,317.6 186.9,431.8 210.3,539.3 233.7,492.5 257.1,443.6 280.5,445.7 303.9,400.8 327.3,418.4 350.7,464.5 374.1,477.4 397.5,520.6 420.9,547.6 444.3,544.6 467.7,498.7 491,506.8 514.4,484.7 537.8,522.9 561.2,535.1 584.6,550.7 608,548.1 631.4,557.7 654.8,571.6 678.2,565.3 701.6,565.4 725,569 748.4,556.7 771.8,564.9 795.2,561.8 818.6,570.9 842,572.3"/><polyline points="140.1,299 163.5,469.1 186.9,391.5 210.3,530 233.7,501.1 257.1,397.2 280.5,501.3 303.9,487.3 327.3,517.3 350.7,541.2 374.1,516.1 397.5,478.6 420.9,481.4 444.3,503.1 467.7,537.2 491,513 514.4,514.1 537.8,523.6 561.2,563.9 584.6,563 608,566.9 631.4,565.3 654.8,562.3 678.2,559.1 701.6,561 725,561.3 748.4,560.6 771.8,566.2 795.2,569.4 818.6,569 842,572.3"/><polyline points="140.1,537.4 163.5,534.4 186.9,484.8 210.3,560.1 233.7,559.3 257.1,503.8 280.5,487.4 303.9,561.3 327.3,535.1 350.7,529 374.1,546.5 397.5,547.5 420.9,535.2 444.3,506.2 467.7,528.8 491,501.2 514.4,523 537.8,520.8 561.2,523.4 584.6,530.2 608,519.4 631.4,553.4 654.8,538 678.2,564.5 701.6,567.6 725,555.6 748.4,558.3 771.8,570.8 795.2,568.3 818.6,570.1 842,572.3"/><polyline points="140.1,385.6 163.5,480.6 186.9,408.8 210.3,495.6 233.7,559 257.1,570.8 280.5,468.6 303.9,534.5 327.3,526 350.7,560.6 374.1,553.7 397.5,561.4 420.9,554.7 444.3,542.9 467.7,562.6 491,568 514.4,546.6 537.8,546.1 561.2,533.1 584.6,535.7 608,540.6 631.4,562.2 654.8,536.5 678.2,534.4 701.6,508.1 725,529.3 748.4,529.4 771.8,537.5 795.2,550.6 818.6,553.8 842,572.3"/><polyline points="140.1,199.1 163.5,429 186.9,361.4 210.3,422.9 233.7,342.1 257.1,365.8 280.5,439.2 303.9,366.2 327.3,339.9 350.7,423.2 374.1,475.3 397.5,486.8 420.9,516.4 444.3,519.4 467.7,556.7 491,561.2 514.4,549.3 537.8,535.7 561.2,533.7 584.6,540.5 608,536.6 631.4,516.2 654.8,530.5 678.2,561.2 701.6,561.5 725,569.8 748.4,572.3 771.8,565.7 795.2,572.2 818.6,566.1 842,572.3"/><polyline points="140.1,299 163.5,466 186.9,540.8 210.3,567.5 233.7,425.1 257.1,449.1 280.5,471.7 303.9,559.3 327.3,540.2 350.7,547.5 374.1,567.7 397.5,510.2 420.9,531.4 444.3,530.2 467.7,557.9 491,547.4 514.4,564.6 537.8,560.4 561.2,557.1 584.6,548.7 608,546.6 631.4,570.8 654.8,569.5 678.2,552 701.6,545.3 725,563.4 748.4,560.5 771.8,548.9 795.2,550.2 818.6,553.8 842,572.3"/></g><g fill="none" stroke="#000" stroke-opacity="0.24" stroke-width="1.0" stroke-linejoin="round"><polyline points="140.1,-330.5 163.5,363.4 186.9,525.7 210.3,482.2 233.7,521.3 257.1,497.1 280.5,524.6 303.9,528.6 327.3,554 350.7,567.2 374.1,539.7 397.5,542.4 420.9,560.9 444.3,557.7 467.7,556.5 491,560.7 514.4,555.6 537.8,561.1 561.2,567.2 584.6,565.4 608,570.1 631.4,570.4 654.8,571.2 678.2,570.6 701.6,563 725,571 748.4,550.6 771.8,551.2 795.2,572 818.6,560.8 842,572.3"/><polyline points="140.1,459.7 163.5,186.8 186.9,273.1 210.3,465.5 233.7,554 257.1,445.8 280.5,463.5 303.9,395.7 327.3,456.8 350.7,426 374.1,414.4 397.5,422.8 420.9,443.1 444.3,430.4 467.7,454.1 491,491.8 514.4,500.9 537.8,488.3 561.2,502.4 584.6,509.3 608,516.5 631.4,510.5 654.8,505.2 678.2,526.5 701.6,535.6 725,564.6 748.4,552.5 771.8,571.7 795.2,571.7 818.6,572.2 842,572.3"/><polyline points="140.1,-59.2 163.5,279.2 186.9,296.7 210.3,352 233.7,354.1 257.1,330.1 280.5,365.7 303.9,476.8 327.3,425.9 350.7,470.5 374.1,488.6 397.5,466.7 420.9,440.8 444.3,456.4 467.7,458.3 491,420.6 514.4,445.6 537.8,442.4 561.2,458.9 584.6,458.9 608,497.4 631.4,502.6 654.8,508.1 678.2,531.9 701.6,545.8 725,559.8 748.4,560.1 771.8,568.9 795.2,569.5 818.6,563.4 842,572.3"/><polyline points="140.1,-359.7 163.5,-67.4 186.9,170.7 210.3,297.6 233.7,360 257.1,313.7 280.5,377.3 303.9,434.7 327.3,441.7 350.7,488.3 374.1,520.8 397.5,494 420.9,523.6 444.3,567.9 467.7,539.5 491,534.5 514.4,561.6 537.8,562 561.2,572.2 584.6,568.1 608,566.1 631.4,546.3 654.8,544.5 678.2,558.2 701.6,565.6 725,542.8 748.4,547.1 771.8,554.6 795.2,567.2 818.6,571.1 842,572.3"/><polyline points="140.1,331.7 163.5,332.6 186.9,202 210.3,170.3 233.7,245.5 257.1,376.6 280.5,428.3 303.9,476.8 327.3,521.5 350.7,515.2 374.1,519.2 397.5,505.8 420.9,482.2 444.3,518.9 467.7,542.4 491,549.7 514.4,553.4 537.8,564.6 561.2,546.8 584.6,544.4 608,547.3 631.4,548.3 654.8,537.8 678.2,536.4 701.6,561.9 725,564.5 748.4,554.1 771.8,564.2 795.2,562.6 818.6,563.2 842,572.3"/><polyline points="140.1,445.5 163.5,482.3 186.9,431.4 210.3,494.7 233.7,470 257.1,512.6 280.5,564.3 303.9,509.7 327.3,561.2 350.7,558.8 374.1,554.9 397.5,521 420.9,564.5 444.3,560.3 467.7,531.6 491,510.8 514.4,532 537.8,539.1 561.2,531.1 584.6,515.8 608,534.5 631.4,548.7 654.8,549.1 678.2,565.6 701.6,571.4 725,568 748.4,557.6 771.8,547.2 795.2,548.2 818.6,565.2 842,572.3"/><polyline points="140.1,183.3 163.5,-12.5 186.9,393 210.3,431.3 233.7,421.8 257.1,453.8 280.5,516.7 303.9,484.4 327.3,495.6 350.7,510.8 374.1,491.5 397.5,558 420.9,542.9 444.3,536.9 467.7,545.8 491,524.1 514.4,506.6 537.8,506.5 561.2,511.8 584.6,519.2 608,530.6 631.4,564 654.8,566.8 678.2,546 701.6,555.6 725,539.9 748.4,557.5 771.8,556 795.2,559.6 818.6,566.2 842,572.3"/><polyline points="140.1,-359.7 163.5,227.6 186.9,102.7 210.3,215.6 233.7,323.8 257.1,354.5 280.5,384.3 303.9,503.9 327.3,491.1 350.7,490.5 374.1,514.5 397.5,544.3 420.9,532.2 444.3,503.5 467.7,493.8 491,519.7 514.4,500.9 537.8,521.9 561.2,527.6 584.6,529.6 608,515.2 631.4,517.2 654.8,545.7 678.2,526.5 701.6,531.8 725,543.9 748.4,546.5 771.8,562.5 795.2,553.6 818.6,571.1 842,572.3"/><polyline points="140.1,-2.7 163.5,406.1 186.9,382.1 210.3,332.1 233.7,247.7 257.1,350.1 280.5,424.4 303.9,386.9 327.3,469 350.7,452 374.1,435.1 397.5,477.6 420.9,480.5 444.3,484.5 467.7,470.4 491,474.3 514.4,469.2 537.8,478.7 561.2,461.3 584.6,462.5 608,467.9 631.4,468.2 654.8,493.9 678.2,500.8 701.6,506.7 725,519.5 748.4,534.2 771.8,542.1 795.2,567.9 818.6,568.5 842,572.3"/><polyline points="140.1,-359.7 163.5,-32.7 186.9,314.6 210.3,250.8 233.7,326.8 257.1,394.3 280.5,354.3 303.9,415.7 327.3,424.8 350.7,449.3 374.1,463.7 397.5,522.8 420.9,559.1 444.3,571.4 467.7,536.2 491,531.4 514.4,563.5 537.8,543.3 561.2,544.1 584.6,528.2 608,563.4 631.4,566.4 654.8,564.6 678.2,563.2 701.6,566.3 725,569.9 748.4,567.8 771.8,561.4 795.2,552.6 818.6,563.2 842,572.3"/><polyline points="140.1,21.8 163.5,560 186.9,531.8 210.3,371.7 233.7,304.9 257.1,416.7 280.5,487.4 303.9,513.1 327.3,440 350.7,451.9 374.1,446 397.5,438.7 420.9,463.3 444.3,446.4 467.7,501.1 491,526.5 514.4,525.3 537.8,533.3 561.2,537.5 584.6,554.6 608,560.5 631.4,566.6 654.8,566.7 678.2,563.2 701.6,565.9 725,567.5 748.4,558.2 771.8,552.1 795.2,562 818.6,566.2 842,572.3"/><polyline points="140.1,-147.3 163.5,249.7 186.9,277 210.3,373.7 233.7,403.5 257.1,436.3 280.5,353.4 303.9,364.9 327.3,454.6 350.7,496.3 374.1,528.1 397.5,547.3 420.9,520.5 444.3,511.1 467.7,509.3 491,496.6 514.4,511.8 537.8,511.4 561.2,514.5 584.6,511.7 608,498.1 631.4,520.7 654.8,545 678.2,569.6 701.6,556.2 725,553.5 748.4,570.6 771.8,569.4 795.2,558.9 818.6,556.1 842,572.3"/><polyline points="140.1,333.6 163.5,404.4 186.9,478.1 210.3,535.1 233.7,552.3 257.1,516.5 280.5,453.5 303.9,463.3 327.3,413.9 350.7,499.2 374.1,536.4 397.5,539.1 420.9,556 444.3,566.1 467.7,570.9 491,567.4 514.4,551.6 537.8,529.3 561.2,521.9 584.6,533.7 608,540.9 631.4,528.4 654.8,549.5 678.2,566 701.6,549.6 725,570 748.4,557.3 771.8,560.9 795.2,560.8 818.6,552.3 842,572.3"/><polyline points="140.1,-86 163.5,43.6 186.9,459.7 210.3,527 233.7,563.1 257.1,500.4 280.5,564.9 303.9,539.5 327.3,554 350.7,518.5 374.1,506.7 397.5,515.1 420.9,523.9 444.3,508.2 467.7,464.7 491,474 514.4,515.1 537.8,528.4 561.2,546.5 584.6,523.5 608,538.8 631.4,544.3 654.8,545.4 678.2,554.3 701.6,561.8 725,564.8 748.4,549.4 771.8,553.3 795.2,569.3 818.6,569.8 842,572.3"/><polyline points="140.1,225 163.5,389.8 186.9,412.6 210.3,529.6 233.7,516.7 257.1,525.6 280.5,523.1 303.9,531.3 327.3,571.4 350.7,551.7 374.1,563.1 397.5,565.3 420.9,564.7 444.3,554.7 467.7,531 491,550.6 514.4,555.3 537.8,546 561.2,509.7 584.6,534 608,550 631.4,545.9 654.8,550.8 678.2,528.6 701.6,531.8 725,530.8 748.4,558 771.8,564.6 795.2,564.5 818.6,566.1 842,572.3"/><polyline points="140.1,475.2 163.5,521.7 186.9,489.3 210.3,290.7 233.7,477.4 257.1,535.3 280.5,497 303.9,533.1 327.3,558 350.7,540.9 374.1,537.7 397.5,556.2 420.9,563.6 444.3,560.1 467.7,558.8 491,525 514.4,568.7 537.8,571.1 561.2,559 584.6,557.9 608,554 631.4,567.7 654.8,558.6 678.2,544.8 701.6,562.8 725,566.5 748.4,571.1 771.8,563.9 795.2,561.2 818.6,561.1 842,572.3"/><polyline points="140.1,333.6 163.5,228 186.9,541.7 210.3,493.6 233.7,348.5 257.1,316.2 280.5,365.1 303.9,412.2 327.3,420.4 350.7,429.8 374.1,414.9 397.5,474.1 420.9,515.7 444.3,483.6 467.7,471.3 491,465.9 514.4,476.6 537.8,476.5 561.2,482.2 584.6,496 608,522.8 631.4,534.7 654.8,534.6 678.2,534.7 701.6,551.1 725,562.2 748.4,551.5 771.8,554.6 795.2,559.2 818.6,561.1 842,572.3"/><polyline points="140.1,-59.2 163.5,293.7 186.9,519.6 210.3,533.6 233.7,557.7 257.1,563.3 280.5,527.2 303.9,525.7 327.3,510.4 350.7,543.9 374.1,559.6 397.5,557.8 420.9,565.7 444.3,527.3 467.7,505.4 491,515 514.4,520.8 537.8,557 561.2,571.1 584.6,551.4 608,557 631.4,563.9 654.8,567.2 678.2,554.2 701.6,550.3 725,558.2 748.4,551.9 771.8,545 795.2,557.6 818.6,563.4 842,572.3"/><polyline points="140.1,-2.7 163.5,530.6 186.9,450.1 210.3,511.7 233.7,535.8 257.1,522.2 280.5,548.8 303.9,548.5 327.3,544.8 350.7,516.9 374.1,522.2 397.5,501.4 420.9,512 444.3,567.5 467.7,570.9 491,562.2 514.4,569.3 537.8,569.8 561.2,545.6 584.6,563 608,572.2 631.4,550.3 654.8,539.6 678.2,548.8 701.6,546.7 725,540.6 748.4,564.1 771.8,570.5 795.2,559 818.6,559.9 842,572.3"/><polyline points="140.1,331.7 163.5,209.4 186.9,214.6 210.3,531.7 233.7,426.8 257.1,513 280.5,510.9 303.9,526.8 327.3,535.7 350.7,558 374.1,567.2 397.5,572.2 420.9,538.4 444.3,547.8 467.7,537.1 491,538.5 514.4,560.3 537.8,571.1 561.2,559.9 584.6,532.8 608,534.6 631.4,548.7 654.8,544.8 678.2,571 701.6,568 725,564.6 748.4,549.2 771.8,569 795.2,566.8 818.6,555.4 842,572.3"/><polyline points="140.1,554.6 163.5,247.7 186.9,501.5 210.3,539.4 233.7,442.9 257.1,476.4 280.5,541 303.9,523.1 327.3,536.4 350.7,548.7 374.1,559.7 397.5,558.9 420.9,568.7 444.3,562.4 467.7,547.8 491,537.6 514.4,514.8 537.8,518.1 561.2,550.1 584.6,564.6 608,569.5 631.4,562.6 654.8,565.9 678.2,569.8 701.6,567.3 725,553.2 748.4,541 771.8,539.5 795.2,542 818.6,549.2 842,572.3"/><polyline points="140.1,-359.7 163.5,300.8 186.9,536.9 210.3,539.7 233.7,539.2 257.1,560.1 280.5,553.7 303.9,518.6 327.3,494.2 350.7,557.4 374.1,559 397.5,565.7 420.9,569.6 444.3,568.9 467.7,571.8 491,541.1 514.4,548.1 537.8,568.2 561.2,539.7 584.6,511.3 608,526.9 631.4,520.6 654.8,539.1 678.2,536.9 701.6,552.1 725,536.6 748.4,545.9 771.8,553.4 795.2,560.4 818.6,557.6 842,572.3"/><polyline points="140.1,334.3 163.5,527.2 186.9,486.6 210.3,418.3 233.7,434.6 257.1,533.1 280.5,537.1 303.9,559.3 327.3,556.9 350.7,559.8 374.1,567 397.5,551.9 420.9,553.7 444.3,535.5 467.7,550.2 491,532.9 514.4,510.3 537.8,524 561.2,530.5 584.6,556.9 608,561.8 631.4,539.2 654.8,564.7 678.2,552.3 701.6,566.9 725,565.5 748.4,563.7 771.8,571.6 795.2,568.3 818.6,552.3 842,572.3"/><polyline points="140.1,331.7 163.5,313 186.9,441.7 210.3,458.1 233.7,458.6 257.1,567.7 280.5,527.2 303.9,548.8 327.3,509.9 350.7,460.8 374.1,446.7 397.5,482.7 420.9,504 444.3,530.2 467.7,555.4 491,528.9 514.4,489.2 537.8,474.6 561.2,475.8 584.6,485 608,480.4 631.4,511.9 654.8,544.7 678.2,545.3 701.6,548 725,550.3 748.4,566.8 771.8,569 795.2,569 818.6,566.2 842,572.3"/><polyline points="140.1,-2.7 163.5,111.1 186.9,397.9 210.3,532.3 233.7,411.2 257.1,404.9 280.5,436 303.9,451.5 327.3,475.7 350.7,467 374.1,442.7 397.5,468.7 420.9,468 444.3,525 467.7,568.2 491,571 514.4,560.2 537.8,556.7 561.2,552.9 584.6,529.6 608,547.6 631.4,551.4 654.8,521.1 678.2,544.3 701.6,544.9 725,562.2 748.4,570.9 771.8,567.9 795.2,564.7 818.6,566.1 842,572.3"/><polyline points="140.1,183.3 163.5,451.7 186.9,346.2 210.3,562.4 233.7,536.6 257.1,509.2 280.5,567 303.9,501.7 327.3,511 350.7,489.8 374.1,469.4 397.5,493.3 420.9,466.8 444.3,470.2 467.7,474.3 491,485.9 514.4,494.9 537.8,526.2 561.2,566.4 584.6,564.6 608,543.9 631.4,568.2 654.8,565.1 678.2,557.7 701.6,562.2 725,563.9 748.4,551.4 771.8,552 795.2,567.9 818.6,569.4 842,572.3"/><polyline points="140.1,-147.3 163.5,-253.5 186.9,241.2 210.3,219.8 233.7,283.2 257.1,359.8 280.5,408.6 303.9,428.8 327.3,475.1 350.7,473.5 374.1,475.7 397.5,465.9 420.9,506.6 444.3,524.4 467.7,529.9 491,531.7 514.4,508.1 537.8,528.3 561.2,562.2 584.6,564.8 608,542 631.4,558.6 654.8,559.1 678.2,552 701.6,556.7 725,544 748.4,556.4 771.8,547.4 795.2,572.2 818.6,566.1 842,572.3"/><polyline points="140.1,568.1 163.5,561.3 186.9,278.7 210.3,560.1 233.7,561.1 257.1,567.2 280.5,484.3 303.9,552.6 327.3,561.2 350.7,527.7 374.1,548.7 397.5,532.8 420.9,558.9 444.3,528.3 467.7,537.7 491,528.3 514.4,508.9 537.8,545.8 561.2,556.8 584.6,553.2 608,531 631.4,527.7 654.8,551.7 678.2,565.3 701.6,567.2 725,557.2 748.4,559 771.8,571.5 795.2,565.2 818.6,563.2 842,572.3"/><polyline points="140.1,-86 163.5,186.8 186.9,364.6 210.3,549.3 233.7,537.2 257.1,532 280.5,554.4 303.9,548.7 327.3,571.9 350.7,553.6 374.1,500.7 397.5,529 420.9,569.7 444.3,520.2 467.7,505.5 491,498 514.4,484.8 537.8,510.4 561.2,495.9 584.6,499.9 608,507.5 631.4,508.9 654.8,526.7 678.2,537.5 701.6,567.6 725,568.3 748.4,559.8 771.8,561.7 795.2,567.9 818.6,566.2 842,572.3"/><polyline points="140.1,217 163.5,396.8 186.9,375.9 210.3,245.7 233.7,454.3 257.1,444.1 280.5,459.7 303.9,467.1 327.3,445.6 350.7,415.9 374.1,446.9 397.5,472.7 420.9,489.1 444.3,510.3 467.7,546.8 491,570 514.4,558.7 537.8,561.4 561.2,556 584.6,552 608,548.8 631.4,551.7 654.8,533.4 678.2,519.4 701.6,525 725,524.2 748.4,551.8 771.8,552 795.2,564.3 818.6,569.8 842,572.3"/><polyline points="140.1,475.2 163.5,57.8 186.9,79.3 210.3,276.4 233.7,447 257.1,472.6 280.5,481.3 303.9,474 327.3,488.8 350.7,495.8 374.1,483.3 397.5,495.5 420.9,515.8 444.3,569.4 467.7,572.3 491,544.7 514.4,524.4 537.8,545.7 561.2,537.4 584.6,514.9 608,541.7 631.4,570.4 654.8,546.4 678.2,560.3 701.6,571.7 725,567.4 748.4,557.6 771.8,555 795.2,558.6 818.6,562.3 842,572.3"/><polyline points="140.1,225 163.5,278.3 186.9,344 210.3,381.8 233.7,435.5 257.1,550.9 280.5,527.2 303.9,493 327.3,454.8 350.7,484.9 374.1,533.1 397.5,494.1 420.9,485.8 444.3,507.2 467.7,548.5 491,546.4 514.4,545.5 537.8,557.8 561.2,555 584.6,560.8 608,544.8 631.4,559.7 654.8,571 678.2,558 701.6,562 725,558 748.4,558.1 771.8,564.6 795.2,555.4 818.6,572.2 842,572.3"/><polyline points="140.1,217 163.5,372 186.9,531.4 210.3,327.7 233.7,363.1 257.1,497.5 280.5,564 303.9,489.5 327.3,565.4 350.7,557.3 374.1,547.4 397.5,564.9 420.9,558.6 444.3,572 467.7,566.2 491,550.4 514.4,550.8 537.8,555.2 561.2,572.3 584.6,555.5 608,547.4 631.4,556.9 654.8,562.5 678.2,563.1 701.6,561.8 725,550.7 748.4,554.3 771.8,557.3 795.2,567.7 818.6,555.4 842,572.3"/><polyline points="140.1,173.2 163.5,195.1 186.9,513.1 210.3,528.9 233.7,552.8 257.1,475.7 280.5,448.6 303.9,428.2 327.3,464.7 350.7,476.9 374.1,422.4 397.5,466 420.9,508.2 444.3,476.6 467.7,480.3 491,493.1 514.4,501.7 537.8,517.5 561.2,510.6 584.6,504.5 608,511.3 631.4,536.1 654.8,561.8 678.2,560.8 701.6,557.3 725,561.3 748.4,570.1 771.8,563.6 795.2,566.1 818.6,563.4 842,572.3"/><polyline points="140.1,294.4 163.5,359.4 186.9,568.6 210.3,459.3 233.7,494.4 257.1,476.5 280.5,568.2 303.9,569.3 327.3,558.8 350.7,566.1 374.1,550 397.5,529.1 420.9,493.5 444.3,500.1 467.7,509.9 491,548.4 514.4,538.8 537.8,538.7 561.2,550.2 584.6,564.7 608,544.9 631.4,565.9 654.8,552.3 678.2,556.8 701.6,545.5 725,543.2 748.4,542.7 771.8,559.6 795.2,572 818.6,570.4 842,572.3"/><polyline points="140.1,568.1 163.5,327.6 186.9,169.3 210.3,146.9 233.7,227.7 257.1,278.5 280.5,375.4 303.9,414.9 327.3,424.9 350.7,405 374.1,437.2 397.5,408 420.9,423.3 444.3,420.7 467.7,425.9 491,466.7 514.4,497.8 537.8,507.4 561.2,496.7 584.6,535.2 608,545.7 631.4,560.5 654.8,557.5 678.2,554.5 701.6,560.7 725,552.9 748.4,553.2 771.8,565.8 795.2,567.9 818.6,566.2 842,572.3"/><polyline points="140.1,87.2 163.5,320.9 186.9,439 210.3,419 233.7,476.3 257.1,433.7 280.5,512.2 303.9,510.5 327.3,450.7 350.7,481.3 374.1,529.8 397.5,538.9 420.9,547.3 444.3,546.1 467.7,535.7 491,549.4 514.4,545.7 537.8,519 561.2,506.1 584.6,522.7 608,530.5 631.4,520 654.8,503.9 678.2,529.8 701.6,540 725,568.8 748.4,566.9 771.8,565.8 795.2,561.8 818.6,572.2 842,572.3"/><polyline points="140.1,-147.3 163.5,-75 186.9,273.8 210.3,415.5 233.7,497 257.1,519.8 280.5,523.5 303.9,497.9 327.3,535.8 350.7,548.2 374.1,557.2 397.5,568.3 420.9,567.6 444.3,552.7 467.7,534 491,543.5 514.4,557.2 537.8,547.8 561.2,553.6 584.6,545.4 608,570.8 631.4,571.2 654.8,541 678.2,542.5 701.6,546.3 725,543.6 748.4,562.6 771.8,547.9 795.2,561.6 818.6,571.1 842,572.3"/><polyline points="140.1,294.4 163.5,554.7 186.9,465.6 210.3,485.2 233.7,342.1 257.1,390.8 280.5,498.6 303.9,506.4 327.3,504.1 350.7,548.2 374.1,567.1 397.5,548.2 420.9,555.6 444.3,570 467.7,571 491,568 514.4,563.9 537.8,546.9 561.2,526 584.6,512.9 608,499.8 631.4,515.2 654.8,541.7 678.2,530.6 701.6,536.8 725,555.1 748.4,549 771.8,569.2 795.2,572 818.6,570.4 842,572.3"/><polyline points="140.1,526.9 163.5,558.5 186.9,430 210.3,413.8 233.7,478.4 257.1,555.9 280.5,492 303.9,497.6 327.3,510.5 350.7,507.9 374.1,559.8 397.5,561 420.9,568.6 444.3,545.5 467.7,560.4 491,562.4 514.4,567.4 537.8,567.9 561.2,565.3 584.6,570.5 608,554.1 631.4,522.3 654.8,550.6 678.2,540.4 701.6,549.1 725,561.5 748.4,548.1 771.8,570.8 795.2,567.9 818.6,570.4 842,572.3"/></g><polyline points="140.1,237.8 163.5,339.7 186.9,385.7 210.3,413.6 233.7,435.8 257.1,456.2 280.5,467.9 303.9,471.9 327.3,476.8 350.7,483.8 374.1,490 397.5,495.5 420.9,500.4 444.3,505 467.7,509.2 491,513.2 514.4,516.9 537.8,520.4 561.2,523.8 584.6,527 608,530.2 631.4,533.2 654.8,536.3 678.2,539.3 701.6,542.4 725,545.5 748.4,548.8 771.8,552.3 795.2,556.3 818.6,561.1 842,572.3" fill="none" stroke="#008000" stroke-width="4.2" stroke-linejoin="round" stroke-linecap="butt"/><polyline points="140.1,237.8 163.5,339.7 186.9,385.7 210.3,413.6 233.7,433 257.1,447.6 280.5,459.2 303.9,468.7 327.3,476.8 350.7,483.8 374.1,490 397.5,495.5 420.9,500.4 444.3,505 467.7,509.2 491,513.2 514.4,516.9 537.8,520.4 561.2,523.8 584.6,527 608,530.2 631.4,533.2 654.8,536.3 678.2,539.3 701.6,542.4 725,545.5 748.4,548.8 771.8,552.3 795.2,556.3 818.6,561.1 842,572.3" fill="none" stroke="#0000ff" stroke-width="4.2" stroke-linejoin="round" stroke-linecap="butt"/></g><g clip-path="url(#clipb)"><g fill="none" stroke="#000" stroke-opacity="0.2" stroke-width="1.0" stroke-linejoin="round"><polyline points="1134.3,244.4 1157.7,342.8 1181.1,378.6 1204.5,408.8 1227.9,428.3 1251.3,442.4 1274.7,454.8 1298,460.8 1321.4,468.9 1344.8,478.9 1368.2,492.6 1391.6,493.2 1415,497.6 1438.4,503.8 1461.8,509.5 1485.2,516.5 1508.6,517.6 1532,522.8 1555.4,528.8 1578.8,531 1602.2,534 1625.6,537.4 1649,540.6 1672.3,544.4 1695.7,544.8 1719.1,549.7 1742.5,550.9 1765.9,554.5 1789.3,557.5 1812.7,562.3 1836.1,572.2"/><polyline points="1134.3,241.5 1157.7,333 1181.1,382.8 1204.5,417.2 1227.9,433.4 1251.3,443.3 1274.7,456.5 1298,467.4 1321.4,478.3 1344.8,480.3 1368.2,485.1 1391.6,488.2 1415,496.3 1438.4,503.7 1461.8,507.1 1485.2,512.6 1508.6,516.5 1532,519.7 1555.4,523.9 1578.8,524.5 1602.2,528 1625.6,531.2 1649,534.9 1672.3,537.1 1695.7,539.4 1719.1,544.8 1742.5,547.7 1765.9,551.3 1789.3,555.8 1812.7,560.9 1836.1,572.2"/><polyline points="1134.3,231.8 1157.7,331.6 1181.1,377.1 1204.5,409.4 1227.9,432.6 1251.3,445.3 1274.7,453.7 1298,469.5 1321.4,471.7 1344.8,478.3 1368.2,483.8 1391.6,495.1 1415,501.3 1438.4,504.4 1461.8,508.8 1485.2,516.5 1508.6,515.5 1532,521.7 1555.4,523.6 1578.8,527.1 1602.2,529.6 1625.6,534 1649,536 1672.3,540 1695.7,543.2 1719.1,546.9 1742.5,549.2 1765.9,554.2 1789.3,556.7 1812.7,561.8 1836.1,572.2"/><polyline points="1134.3,236.1 1157.7,334.2 1181.1,388.4 1204.5,417.1 1227.9,433.6 1251.3,449.5 1274.7,457.9 1298,469.3 1321.4,476.5 1344.8,483.5 1368.2,488.8 1391.6,492.5 1415,503.9 1438.4,505.2 1461.8,507.4 1485.2,509 1508.6,514 1532,515.7 1555.4,519 1578.8,525.2 1602.2,529.1 1625.6,530.3 1649,534.4 1672.3,535.8 1695.7,539.3 1719.1,541.2 1742.5,545.2 1765.9,549.5 1789.3,554.4 1812.7,560.1 1836.1,572.2"/><polyline points="1134.3,237.5 1157.7,343.6 1181.1,376.4 1204.5,414.9 1227.9,436.1 1251.3,444.2 1274.7,458.7 1298,463.4 1321.4,469.7 1344.8,478.7 1368.2,488.7 1391.6,495.8 1415,498.9 1438.4,504.7 1461.8,508.5 1485.2,511 1508.6,514.6 1532,519.3 1555.4,524.2 1578.8,525.4 1602.2,528.4 1625.6,532.4 1649,534.2 1672.3,537.3 1695.7,540.7 1719.1,544 1742.5,547 1765.9,550.8 1789.3,556 1812.7,560.7 1836.1,572.2"/><polyline points="1134.3,286 1157.7,347.4 1181.1,401.1 1204.5,425.1 1227.9,446.7 1251.3,454.9 1274.7,472.8 1298,478 1321.4,484.6 1344.8,491.9 1368.2,498.4 1391.6,497.7 1415,503.9 1438.4,506.3 1461.8,509.4 1485.2,514.9 1508.6,518.4 1532,522 1555.4,525.1 1578.8,529.3 1602.2,533.2 1625.6,533.4 1649,539.2 1672.3,541.3 1695.7,544.5 1719.1,547.9 1742.5,551.4 1765.9,554.1 1789.3,557.7 1812.7,562.4 1836.1,572.2"/><polyline points="1134.3,224.5 1157.7,331.9 1181.1,372.5 1204.5,407.7 1227.9,420.6 1251.3,445.5 1274.7,454.3 1298,462.1 1321.4,469.6 1344.8,478 1368.2,487 1391.6,491.1 1415,500 1438.4,502.7 1461.8,504.8 1485.2,511 1508.6,514.7 1532,520.3 1555.4,526 1578.8,530.3 1602.2,533.3 1625.6,538.1 1649,540.7 1672.3,544.3 1695.7,545.2 1719.1,549.1 1742.5,551.1 1765.9,554.7 1789.3,558.4 1812.7,562.1 1836.1,572.2"/><polyline points="1134.3,241.3 1157.7,360.2 1181.1,384.9 1204.5,423.5 1227.9,435.4 1251.3,458.2 1274.7,473.2 1298,477.7 1321.4,485.6 1344.8,492.4 1368.2,495.9 1391.6,504.2 1415,504.9 1438.4,512.1 1461.8,516.5 1485.2,520.2 1508.6,525.3 1532,527.9 1555.4,529.9 1578.8,535.2 1602.2,538.8 1625.6,538.8 1649,543.7 1672.3,544.7 1695.7,548.4 1719.1,551.2 1742.5,552.4 1765.9,555.4 1789.3,558.9 1812.7,562.7 1836.1,572.2"/><polyline points="1134.3,229.5 1157.7,335.6 1181.1,374.4 1204.5,411.5 1227.9,427.8 1251.3,444.8 1274.7,453.3 1298,466.2 1321.4,472.1 1344.8,482.2 1368.2,485.1 1391.6,491.3 1415,497.5 1438.4,506 1461.8,509 1485.2,512.7 1508.6,514.6 1532,521.5 1555.4,522.4 1578.8,524.2 1602.2,528.3 1625.6,531.9 1649,536.1 1672.3,540.8 1695.7,542 1719.1,544.2 1742.5,548 1765.9,553 1789.3,556.6 1812.7,561.2 1836.1,572.2"/><polyline points="1134.3,241 1157.7,337.3 1181.1,385 1204.5,408.2 1227.9,432.3 1251.3,452.1 1274.7,463 1298,468 1321.4,473.3 1344.8,483.2 1368.2,489.3 1391.6,494.2 1415,504 1438.4,509 1461.8,514.7 1485.2,516.2 1508.6,519.6 1532,525 1555.4,529.3 1578.8,531.4 1602.2,532.1 1625.6,535.8 1649,539.1 1672.3,540.7 1695.7,544.7 1719.1,547.2 1742.5,549.3 1765.9,553 1789.3,556.3 1812.7,560.6 1836.1,572.2"/><polyline points="1134.3,234.7 1157.7,347.1 1181.1,391 1204.5,423.9 1227.9,437.1 1251.3,452.3 1274.7,460.5 1298,467.9 1321.4,478.2 1344.8,484.4 1368.2,489.3 1391.6,493.1 1415,498 1438.4,499.7 1461.8,505 1485.2,510.2 1508.6,514 1532,515.4 1555.4,521.9 1578.8,522.4 1602.2,524.7 1625.6,530.2 1649,533.1 1672.3,538.1 1695.7,541.1 1719.1,544.6 1742.5,547.2 1765.9,550.9 1789.3,555.3 1812.7,559.7 1836.1,572.2"/><polyline points="1134.3,246.4 1157.7,345.6 1181.1,399.5 1204.5,431.3 1227.9,440.5 1251.3,452.1 1274.7,465 1298,476.3 1321.4,480.9 1344.8,485.9 1368.2,492.7 1391.6,500.2 1415,507.7 1438.4,509.5 1461.8,513.7 1485.2,516.4 1508.6,522.7 1532,525.9 1555.4,529.6 1578.8,529.7 1602.2,533 1625.6,536.1 1649,539.4 1672.3,543.4 1695.7,545 1719.1,548.6 1742.5,552.2 1765.9,555.9 1789.3,559.2 1812.7,563.1 1836.1,572.2"/><polyline points="1134.3,249.3 1157.7,333.5 1181.1,365.8 1204.5,399.2 1227.9,425.2 1251.3,442 1274.7,452 1298,468.1 1321.4,476.5 1344.8,478.8 1368.2,483 1391.6,489.7 1415,497.7 1438.4,499.2 1461.8,505.3 1485.2,506.5 1508.6,511.5 1532,514.5 1555.4,519.1 1578.8,523 1602.2,523.9 1625.6,526.9 1649,532.1 1672.3,534 1695.7,538.9 1719.1,543.2 1742.5,547.1 1765.9,551.1 1789.3,554.9 1812.7,560 1836.1,572.2"/><polyline points="1134.3,215.5 1157.7,312.5 1181.1,369.3 1204.5,394.6 1227.9,420.1 1251.3,425.9 1274.7,444.7 1298,450.8 1321.4,460.3 1344.8,472.5 1368.2,479.5 1391.6,484.1 1415,493.8 1438.4,500.4 1461.8,503.4 1485.2,511.1 1508.6,512.3 1532,516.4 1555.4,519.4 1578.8,525.3 1602.2,527.9 1625.6,531.8 1649,535 1672.3,537.7 1695.7,541.5 1719.1,544.4 1742.5,547.8 1765.9,551.6 1789.3,554.9 1812.7,560.6 1836.1,572.2"/><polyline points="1134.3,246.6 1157.7,338 1181.1,390 1204.5,415.6 1227.9,438.7 1251.3,451.9 1274.7,470.6 1298,464.9 1321.4,481.6 1344.8,490.1 1368.2,494 1391.6,494.5 1415,502.6 1438.4,512.7 1461.8,513.8 1485.2,516.7 1508.6,523.2 1532,526.5 1555.4,530.7 1578.8,531.7 1602.2,535.9 1625.6,536.6 1649,541.3 1672.3,543.7 1695.7,545.5 1719.1,548.4 1742.5,552.4 1765.9,554.2 1789.3,557.9 1812.7,562.6 1836.1,572.2"/><polyline points="1134.3,226.7 1157.7,343.4 1181.1,389.5 1204.5,412.1 1227.9,434.9 1251.3,452.2 1274.7,465.8 1298,477.6 1321.4,483.3 1344.8,491.7 1368.2,500.1 1391.6,501.9 1415,502.5 1438.4,507.8 1461.8,511 1485.2,513.7 1508.6,518.9 1532,521.5 1555.4,525.4 1578.8,528 1602.2,529.9 1625.6,534.1 1649,537.5 1672.3,539.3 1695.7,543.2 1719.1,545.7 1742.5,548.2 1765.9,551.7 1789.3,556.6 1812.7,561 1836.1,572.2"/><polyline points="1134.3,210.7 1157.7,318.6 1181.1,370.3 1204.5,394.7 1227.9,422.8 1251.3,437.8 1274.7,451.2 1298,462.1 1321.4,472.8 1344.8,480.8 1368.2,484.9 1391.6,489.9 1415,497.1 1438.4,499.1 1461.8,502.4 1485.2,507.8 1508.6,513 1532,516.1 1555.4,521.6 1578.8,524.8 1602.2,528.3 1625.6,530.3 1649,533.6 1672.3,537.8 1695.7,540.5 1719.1,545 1742.5,548 1765.9,551.7 1789.3,556 1812.7,560.4 1836.1,572.2"/><polyline points="1134.3,260 1157.7,349 1181.1,405.9 1204.5,433.9 1227.9,447 1251.3,462.2 1274.7,469 1298,480.6 1321.4,488.6 1344.8,492.8 1368.2,497.9 1391.6,499.1 1415,500.6 1438.4,507.9 1461.8,510.2 1485.2,514.2 1508.6,517 1532,520.7 1555.4,524.8 1578.8,529.3 1602.2,531.3 1625.6,533.9 1649,535.5 1672.3,541.8 1695.7,543.5 1719.1,547.4 1742.5,550.4 1765.9,553.6 1789.3,557.7 1812.7,562 1836.1,572.2"/><polyline points="1134.3,261.9 1157.7,362.3 1181.1,399.1 1204.5,429.5 1227.9,445 1251.3,454.7 1274.7,467.8 1298,476.6 1321.4,480.2 1344.8,487.4 1368.2,494.1 1391.6,499.4 1415,501.4 1438.4,502.4 1461.8,508.7 1485.2,511.5 1508.6,515.5 1532,521.6 1555.4,523.5 1578.8,529.6 1602.2,529.4 1625.6,533.9 1649,537.2 1672.3,538.9 1695.7,541.2 1719.1,543.9 1742.5,548 1765.9,552 1789.3,556.4 1812.7,561.4 1836.1,572.2"/><polyline points="1134.3,238.3 1157.7,343.5 1181.1,385.7 1204.5,410.1 1227.9,431 1251.3,437.1 1274.7,449.3 1298,459.2 1321.4,469.1 1344.8,482.2 1368.2,486.9 1391.6,494.2 1415,502.4 1438.4,505.8 1461.8,509.9 1485.2,511.5 1508.6,517.3 1532,519.2 1555.4,521.8 1578.8,525.1 1602.2,527.8 1625.6,531.1 1649,535.7 1672.3,537.9 1695.7,541.2 1719.1,544.4 1742.5,547.6 1765.9,552.2 1789.3,555.1 1812.7,560.6 1836.1,572.2"/><polyline points="1134.3,236.3 1157.7,333.5 1181.1,381.7 1204.5,405.1 1227.9,426.1 1251.3,442.1 1274.7,461 1298,463.6 1321.4,472.9 1344.8,475.5 1368.2,487.1 1391.6,491.8 1415,495.1 1438.4,501.1 1461.8,502.7 1485.2,508.5 1508.6,512.5 1532,519.3 1555.4,520.6 1578.8,525.3 1602.2,528.1 1625.6,530.1 1649,534.1 1672.3,536.8 1695.7,541.1 1719.1,543.2 1742.5,548.7 1765.9,552.4 1789.3,555.9 1812.7,561.1 1836.1,572.2"/><polyline points="1134.3,231.3 1157.7,337.7 1181.1,378 1204.5,414.9 1227.9,425.3 1251.3,438.9 1274.7,456 1298,463.7 1321.4,472.2 1344.8,482.9 1368.2,490 1391.6,496.4 1415,498.5 1438.4,505.9 1461.8,507.8 1485.2,514.2 1508.6,518.1 1532,520.2 1555.4,525.1 1578.8,529.6 1602.2,530.4 1625.6,535.4 1649,538.8 1672.3,540.2 1695.7,544.2 1719.1,546.7 1742.5,550.4 1765.9,554.4 1789.3,557.6 1812.7,562.5 1836.1,572.2"/><polyline points="1134.3,253.9 1157.7,349 1181.1,388.9 1204.5,414.3 1227.9,439.2 1251.3,456.9 1274.7,461.1 1298,471.4 1321.4,486.8 1344.8,491.8 1368.2,495.1 1391.6,502 1415,507.2 1438.4,509.9 1461.8,515.5 1485.2,519.7 1508.6,522 1532,527.4 1555.4,528.2 1578.8,530.3 1602.2,534.7 1625.6,538.3 1649,539.8 1672.3,543.8 1695.7,546.1 1719.1,550.6 1742.5,553.2 1765.9,555.3 1789.3,558.9 1812.7,563 1836.1,572.2"/><polyline points="1134.3,227.6 1157.7,328 1181.1,376.6 1204.5,410.8 1227.9,423.4 1251.3,441.1 1274.7,450.4 1298,459.1 1321.4,473.2 1344.8,475.6 1368.2,484.8 1391.6,490 1415,495.4 1438.4,499.8 1461.8,505.3 1485.2,511.5 1508.6,515 1532,520 1555.4,523 1578.8,524.8 1602.2,527.6 1625.6,531.4 1649,534.6 1672.3,537.4 1695.7,541.3 1719.1,544.4 1742.5,548.7 1765.9,552.3 1789.3,556.5 1812.7,561.7 1836.1,572.2"/><polyline points="1134.3,256.9 1157.7,343.1 1181.1,393.7 1204.5,418.7 1227.9,438.2 1251.3,452.7 1274.7,468.4 1298,475.8 1321.4,484.1 1344.8,487.9 1368.2,496.6 1391.6,503.2 1415,505.9 1438.4,512.7 1461.8,518.5 1485.2,520.4 1508.6,526.4 1532,525.5 1555.4,529.7 1578.8,533.2 1602.2,537.7 1625.6,540.7 1649,543 1672.3,545.3 1695.7,548.5 1719.1,551.7 1742.5,554 1765.9,556.3 1789.3,559.9 1812.7,563.8 1836.1,572.2"/><polyline points="1134.3,256.7 1157.7,359.2 1181.1,389.2 1204.5,412.3 1227.9,430.7 1251.3,446.1 1274.7,446.7 1298,463.8 1321.4,471.3 1344.8,478.9 1368.2,482.1 1391.6,491.8 1415,496.2 1438.4,503.6 1461.8,507.3 1485.2,511.3 1508.6,514.2 1532,517.7 1555.4,520.7 1578.8,524.2 1602.2,528 1625.6,531.5 1649,532.6 1672.3,537.3 1695.7,539.1 1719.1,542.9 1742.5,547 1765.9,550.2 1789.3,554.3 1812.7,560.1 1836.1,572.2"/><polyline points="1134.3,257.1 1157.7,350.1 1181.1,398.8 1204.5,428.1 1227.9,445.3 1251.3,463.6 1274.7,468.9 1298,480.2 1321.4,486.6 1344.8,489.1 1368.2,497.7 1391.6,501.2 1415,505.6 1438.4,509.8 1461.8,513.6 1485.2,518.6 1508.6,520.4 1532,524 1555.4,525.6 1578.8,527.8 1602.2,531.2 1625.6,534.2 1649,536.9 1672.3,538.6 1695.7,542.1 1719.1,546.3 1742.5,548.8 1765.9,552.3 1789.3,555.9 1812.7,560.5 1836.1,572.2"/><polyline points="1134.3,245.7 1157.7,343.6 1181.1,394 1204.5,420.2 1227.9,438.6 1251.3,453.7 1274.7,463.6 1298,478.3 1321.4,483.4 1344.8,489.3 1368.2,492.4 1391.6,500.4 1415,503.4 1438.4,507.1 1461.8,512.8 1485.2,513 1508.6,518.9 1532,522 1555.4,525.6 1578.8,528.7 1602.2,530.2 1625.6,531.8 1649,537.2 1672.3,540.3 1695.7,543.6 1719.1,545.5 1742.5,548.3 1765.9,552.4 1789.3,556.5 1812.7,561.1 1836.1,572.2"/><polyline points="1134.3,214.2 1157.7,335.2 1181.1,377.2 1204.5,411.5 1227.9,433.6 1251.3,445.9 1274.7,463.5 1298,470.8 1321.4,481.4 1344.8,485 1368.2,492 1391.6,499.4 1415,500.8 1438.4,507.5 1461.8,508.2 1485.2,515.5 1508.6,518.7 1532,522.1 1555.4,527.3 1578.8,527.4 1602.2,531.4 1625.6,535.9 1649,539.6 1672.3,540.5 1695.7,543.9 1719.1,546.2 1742.5,548.9 1765.9,552.7 1789.3,556.1 1812.7,561 1836.1,572.2"/><polyline points="1134.3,256.6 1157.7,338.5 1181.1,380.7 1204.5,412.9 1227.9,432 1251.3,450.4 1274.7,455.9 1298,473.7 1321.4,479 1344.8,483.6 1368.2,493 1391.6,492.6 1415,498.5 1438.4,504.8 1461.8,509.6 1485.2,513.3 1508.6,518.6 1532,518.1 1555.4,522.8 1578.8,525.7 1602.2,529.6 1625.6,531.5 1649,535 1672.3,539.9 1695.7,542.9 1719.1,545.9 1742.5,547.7 1765.9,551.4 1789.3,554.3 1812.7,560 1836.1,572.2"/><polyline points="1134.3,253.9 1157.7,348.4 1181.1,394.3 1204.5,424.7 1227.9,437.4 1251.3,453.8 1274.7,469.8 1298,472.3 1321.4,477 1344.8,488.5 1368.2,488.3 1391.6,495.9 1415,501.4 1438.4,505.5 1461.8,509.8 1485.2,514.1 1508.6,518.5 1532,520.9 1555.4,525.8 1578.8,529.4 1602.2,532.3 1625.6,537.9 1649,542.1 1672.3,543.6 1695.7,547.1 1719.1,548.8 1742.5,551.4 1765.9,555.3 1789.3,558.8 1812.7,562.6 1836.1,572.2"/><polyline points="1134.3,256.2 1157.7,345.5 1181.1,387.2 1204.5,422.6 1227.9,441.3 1251.3,448.3 1274.7,463.4 1298,467.8 1321.4,476.6 1344.8,480.6 1368.2,490.8 1391.6,495.8 1415,497.4 1438.4,502.2 1461.8,508.9 1485.2,513.8 1508.6,520.1 1532,526.1 1555.4,526.1 1578.8,528.2 1602.2,532.3 1625.6,537.1 1649,536.5 1672.3,538.8 1695.7,543.4 1719.1,547.6 1742.5,549.5 1765.9,553.6 1789.3,557.4 1812.7,561.9 1836.1,572.2"/><polyline points="1134.3,250.7 1157.7,342.3 1181.1,382.6 1204.5,415.5 1227.9,430.5 1251.3,452.9 1274.7,468 1298,473 1321.4,478.7 1344.8,487.7 1368.2,493.1 1391.6,495.1 1415,499.1 1438.4,504 1461.8,510.5 1485.2,513.9 1508.6,513.3 1532,517.8 1555.4,522.8 1578.8,524.7 1602.2,527.1 1625.6,530.8 1649,534.3 1672.3,538 1695.7,541.4 1719.1,544.6 1742.5,548.1 1765.9,551.8 1789.3,555.6 1812.7,560.2 1836.1,572.2"/><polyline points="1134.3,224.9 1157.7,338.7 1181.1,382.2 1204.5,412 1227.9,432.3 1251.3,452.3 1274.7,458.9 1298,470.5 1321.4,484.6 1344.8,485.8 1368.2,496.2 1391.6,498.2 1415,503.1 1438.4,509.1 1461.8,512.4 1485.2,516.1 1508.6,518.1 1532,521.9 1555.4,522.1 1578.8,525.3 1602.2,529.1 1625.6,531.8 1649,533.3 1672.3,536.5 1695.7,539.1 1719.1,542.2 1742.5,546.7 1765.9,549.7 1789.3,554 1812.7,559.7 1836.1,572.2"/><polyline points="1134.3,208.4 1157.7,310 1181.1,352.2 1204.5,386.1 1227.9,409.6 1251.3,428 1274.7,442.6 1298,448.6 1321.4,456.5 1344.8,471.3 1368.2,477.1 1391.6,482.7 1415,484.7 1438.4,493.7 1461.8,497.5 1485.2,503.8 1508.6,507.9 1532,512.3 1555.4,517.2 1578.8,521.9 1602.2,526.2 1625.6,527.6 1649,531.3 1672.3,534 1695.7,539 1719.1,543 1742.5,545.4 1765.9,550.2 1789.3,554.3 1812.7,560.1 1836.1,572.2"/><polyline points="1134.3,234.1 1157.7,336.5 1181.1,388.1 1204.5,415.7 1227.9,434.5 1251.3,445.8 1274.7,458.3 1298,464.6 1321.4,473.2 1344.8,475 1368.2,484.8 1391.6,489.3 1415,494.2 1438.4,499 1461.8,503.6 1485.2,508 1508.6,512.7 1532,519.5 1555.4,520.2 1578.8,524 1602.2,528.8 1625.6,531.4 1649,533.3 1672.3,536.7 1695.7,540 1719.1,541.1 1742.5,546 1765.9,550 1789.3,555 1812.7,560.1 1836.1,572.2"/><polyline points="1134.3,249 1157.7,341.9 1181.1,372.9 1204.5,407.7 1227.9,423.3 1251.3,435.5 1274.7,448.2 1298,458.6 1321.4,466.7 1344.8,473.6 1368.2,473.2 1391.6,482.7 1415,489.5 1438.4,494.1 1461.8,498.9 1485.2,506 1508.6,508.9 1532,512.7 1555.4,516 1578.8,520.7 1602.2,525 1625.6,528.8 1649,533.6 1672.3,534.1 1695.7,538.6 1719.1,541.5 1742.5,544.9 1765.9,549.5 1789.3,554.1 1812.7,559.7 1836.1,572.2"/><polyline points="1134.3,225.4 1157.7,332.2 1181.1,370.6 1204.5,406.4 1227.9,430.1 1251.3,442.8 1274.7,454.6 1298,464.8 1321.4,473.6 1344.8,478.8 1368.2,483.9 1391.6,491.3 1415,494.3 1438.4,504.8 1461.8,505.8 1485.2,509.2 1508.6,513.6 1532,517.6 1555.4,520 1578.8,525 1602.2,527.8 1625.6,529.9 1649,533.8 1672.3,536.5 1695.7,539.5 1719.1,542.4 1742.5,546.8 1765.9,550.9 1789.3,554.8 1812.7,560.8 1836.1,572.2"/><polyline points="1134.3,228.6 1157.7,339.1 1181.1,383.2 1204.5,413.3 1227.9,437.8 1251.3,446.5 1274.7,452.8 1298,460.2 1321.4,477 1344.8,483.5 1368.2,485.7 1391.6,490.6 1415,499.7 1438.4,502 1461.8,510 1485.2,514.7 1508.6,515.4 1532,518.4 1555.4,520.5 1578.8,523.4 1602.2,527.9 1625.6,531.2 1649,533.8 1672.3,537.7 1695.7,540.2 1719.1,543.4 1742.5,546.6 1765.9,550 1789.3,555.3 1812.7,560.9 1836.1,572.2"/><polyline points="1134.3,219.3 1157.7,331.4 1181.1,384.6 1204.5,414.8 1227.9,431.1 1251.3,451.9 1274.7,461 1298,472.7 1321.4,481.6 1344.8,488.7 1368.2,494.8 1391.6,500.4 1415,505.1 1438.4,517.1 1461.8,515.1 1485.2,520.2 1508.6,523.7 1532,529.1 1555.4,529.8 1578.8,533.4 1602.2,536.1 1625.6,539.7 1649,541.1 1672.3,544.2 1695.7,546.6 1719.1,549.7 1742.5,552 1765.9,555.6 1789.3,558.8 1812.7,563 1836.1,572.2"/><polyline points="1134.3,242.6 1157.7,341.6 1181.1,390.3 1204.5,414.4 1227.9,436.9 1251.3,455.4 1274.7,469.3 1298,472 1321.4,480.3 1344.8,489.4 1368.2,494.4 1391.6,499.3 1415,504.7 1438.4,508.6 1461.8,510.1 1485.2,514.6 1508.6,515.4 1532,522.3 1555.4,522.9 1578.8,525.9 1602.2,531.2 1625.6,531.6 1649,536.2 1672.3,539.2 1695.7,542.2 1719.1,544.4 1742.5,547.7 1765.9,551.2 1789.3,554.7 1812.7,559.8 1836.1,572.2"/><polyline points="1134.3,235 1157.7,334.2 1181.1,381.3 1204.5,418.2 1227.9,445 1251.3,454.5 1274.7,465.4 1298,476 1321.4,482.8 1344.8,488.8 1368.2,492.2 1391.6,497.3 1415,500.3 1438.4,505.4 1461.8,510 1485.2,516 1508.6,518.4 1532,522.2 1555.4,528.4 1578.8,529.8 1602.2,533.4 1625.6,537.1 1649,538.4 1672.3,541.1 1695.7,544.8 1719.1,546.9 1742.5,550.6 1765.9,553.6 1789.3,558.1 1812.7,562.3 1836.1,572.2"/><polyline points="1134.3,230.5 1157.7,344.1 1181.1,379.6 1204.5,412.9 1227.9,432.8 1251.3,448.4 1274.7,461.2 1298,471.5 1321.4,478.4 1344.8,485.3 1368.2,486.8 1391.6,490.8 1415,497.7 1438.4,503.1 1461.8,506 1485.2,510.3 1508.6,515.6 1532,519.8 1555.4,521 1578.8,526.4 1602.2,533.7 1625.6,536.6 1649,537.9 1672.3,540.7 1695.7,543.1 1719.1,546.9 1742.5,550.4 1765.9,553.3 1789.3,557 1812.7,561.8 1836.1,572.2"/><polyline points="1134.3,216.3 1157.7,331.5 1181.1,374.6 1204.5,411.2 1227.9,433.7 1251.3,440.4 1274.7,461.1 1298,467.6 1321.4,479.3 1344.8,482.2 1368.2,491 1391.6,497.1 1415,498.9 1438.4,506.9 1461.8,510.4 1485.2,517.2 1508.6,519.9 1532,526.7 1555.4,529.3 1578.8,534.4 1602.2,535.3 1625.6,538.6 1649,540.8 1672.3,541.8 1695.7,544.9 1719.1,548.4 1742.5,550.7 1765.9,555.3 1789.3,556.7 1812.7,561.1 1836.1,572.2"/><polyline points="1134.3,238.4 1157.7,336.6 1181.1,380.3 1204.5,414.8 1227.9,430.6 1251.3,437.4 1274.7,453.8 1298,462.5 1321.4,471.6 1344.8,477.6 1368.2,485.8 1391.6,490.3 1415,497.5 1438.4,501.4 1461.8,506.2 1485.2,513.9 1508.6,518.7 1532,517.4 1555.4,520.9 1578.8,524.2 1602.2,527.5 1625.6,529.7 1649,532.4 1672.3,535.8 1695.7,539.4 1719.1,543.9 1742.5,546.8 1765.9,549.3 1789.3,554 1812.7,560 1836.1,572.2"/><polyline points="1134.3,250.8 1157.7,348.5 1181.1,401.2 1204.5,418.3 1227.9,441.9 1251.3,451 1274.7,467.2 1298,471.8 1321.4,482.4 1344.8,490.2 1368.2,495.7 1391.6,501.7 1415,503.7 1438.4,511.1 1461.8,515.2 1485.2,519.9 1508.6,523.3 1532,527.2 1555.4,530.7 1578.8,536.7 1602.2,538 1625.6,541 1649,543.7 1672.3,546.4 1695.7,548.1 1719.1,552.2 1742.5,554.3 1765.9,556.5 1789.3,559.5 1812.7,563.9 1836.1,572.2"/><polyline points="1134.3,265.7 1157.7,349.2 1181.1,388.2 1204.5,428 1227.9,446 1251.3,451.6 1274.7,467.3 1298,477.9 1321.4,487.3 1344.8,494.4 1368.2,494.2 1391.6,505.4 1415,510.3 1438.4,513.7 1461.8,516.7 1485.2,520.7 1508.6,523 1532,524.4 1555.4,527.3 1578.8,530.3 1602.2,534.6 1625.6,536.5 1649,538.7 1672.3,540.5 1695.7,543.1 1719.1,547.1 1742.5,549.1 1765.9,552.7 1789.3,556 1812.7,560.9 1836.1,572.2"/><polyline points="1134.3,246.2 1157.7,352.9 1181.1,400.6 1204.5,433.9 1227.9,444.8 1251.3,461.1 1274.7,474.2 1298,478.1 1321.4,485.7 1344.8,490.4 1368.2,496.2 1391.6,499.7 1415,507.5 1438.4,508.6 1461.8,514.5 1485.2,515.5 1508.6,520.6 1532,522.2 1555.4,523.4 1578.8,527.5 1602.2,532.8 1625.6,536.2 1649,538.9 1672.3,543 1695.7,545.6 1719.1,546.9 1742.5,550.8 1765.9,553.7 1789.3,557.7 1812.7,562 1836.1,572.2"/><polyline points="1134.3,229.9 1157.7,340.1 1181.1,382.1 1204.5,410.6 1227.9,434.3 1251.3,448.7 1274.7,459.2 1298,469.3 1321.4,474.1 1344.8,489.8 1368.2,498.9 1391.6,502.9 1415,511.7 1438.4,513.9 1461.8,515.2 1485.2,519.8 1508.6,523.7 1532,525.6 1555.4,525.4 1578.8,529.8 1602.2,532.9 1625.6,536 1649,540.3 1672.3,540.9 1695.7,544.5 1719.1,548.8 1742.5,550.7 1765.9,554.1 1789.3,557.9 1812.7,562.4 1836.1,572.2"/><polyline points="1134.3,255.2 1157.7,337.7 1181.1,379.3 1204.5,412.9 1227.9,438.1 1251.3,450.3 1274.7,456.8 1298,470.1 1321.4,474.1 1344.8,480.9 1368.2,493.1 1391.6,493.1 1415,501.2 1438.4,507.5 1461.8,510.8 1485.2,516.8 1508.6,523.4 1532,525.6 1555.4,526.2 1578.8,531.7 1602.2,535.3 1625.6,539.1 1649,541.8 1672.3,542.9 1695.7,546.7 1719.1,547.9 1742.5,551.1 1765.9,553.5 1789.3,557.4 1812.7,561.6 1836.1,572.2"/><polyline points="1134.3,246.7 1157.7,343.2 1181.1,398.9 1204.5,421.3 1227.9,439.8 1251.3,457 1274.7,470.4 1298,477.5 1321.4,482.9 1344.8,487.5 1368.2,494.1 1391.6,499.9 1415,503.6 1438.4,507.4 1461.8,513.5 1485.2,515.3 1508.6,521.6 1532,522.6 1555.4,525.1 1578.8,530.8 1602.2,535.3 1625.6,538.3 1649,541.3 1672.3,542.3 1695.7,544.3 1719.1,547.6 1742.5,550.1 1765.9,553 1789.3,557 1812.7,562.3 1836.1,572.2"/><polyline points="1134.3,221.1 1157.7,320.8 1181.1,375.9 1204.5,403.8 1227.9,425.5 1251.3,443.1 1274.7,459.2 1298,466.3 1321.4,472.4 1344.8,483.5 1368.2,492 1391.6,496.8 1415,501.6 1438.4,502.4 1461.8,507.4 1485.2,515.3 1508.6,516.1 1532,519 1555.4,524.6 1578.8,527.2 1602.2,531.4 1625.6,533.6 1649,536.2 1672.3,540.6 1695.7,543.4 1719.1,545.7 1742.5,550.1 1765.9,553.6 1789.3,556.8 1812.7,561.7 1836.1,572.2"/><polyline points="1134.3,224.4 1157.7,315.1 1181.1,369 1204.5,401.9 1227.9,415.3 1251.3,434.3 1274.7,446.3 1298,461.7 1321.4,468.9 1344.8,480.6 1368.2,484.5 1391.6,495.7 1415,495.9 1438.4,503.8 1461.8,509.6 1485.2,514.2 1508.6,517.8 1532,521.3 1555.4,526.1 1578.8,529.5 1602.2,532.5 1625.6,535.9 1649,537.9 1672.3,540.9 1695.7,543.9 1719.1,547.2 1742.5,551.1 1765.9,553.5 1789.3,556.5 1812.7,561 1836.1,572.2"/><polyline points="1134.3,229.3 1157.7,337.2 1181.1,374.4 1204.5,406.7 1227.9,429.1 1251.3,442.6 1274.7,455.6 1298,463.7 1321.4,470.5 1344.8,482 1368.2,488.5 1391.6,493.7 1415,494.9 1438.4,498.1 1461.8,507.2 1485.2,510.7 1508.6,514.1 1532,518.8 1555.4,521.1 1578.8,523.3 1602.2,526.2 1625.6,528.1 1649,532 1672.3,534.9 1695.7,537.5 1719.1,540.7 1742.5,544.9 1765.9,547.8 1789.3,552.2 1812.7,558.9 1836.1,572.2"/><polyline points="1134.3,233 1157.7,334.2 1181.1,382 1204.5,418.8 1227.9,438.1 1251.3,451.1 1274.7,464.9 1298,473.3 1321.4,478.2 1344.8,485 1368.2,488.5 1391.6,497.4 1415,501.8 1438.4,503.6 1461.8,508 1485.2,513.8 1508.6,519.8 1532,523.9 1555.4,527.4 1578.8,532.3 1602.2,534.8 1625.6,536.3 1649,538.9 1672.3,541.5 1695.7,543.2 1719.1,547.3 1742.5,548.8 1765.9,553.1 1789.3,556.9 1812.7,561.9 1836.1,572.2"/><polyline points="1134.3,255.2 1157.7,345.4 1181.1,391.1 1204.5,418.6 1227.9,442.7 1251.3,460.8 1274.7,468.9 1298,482 1321.4,484.3 1344.8,491.6 1368.2,497.8 1391.6,501.1 1415,508.3 1438.4,511.5 1461.8,514.7 1485.2,519.3 1508.6,518.3 1532,523.7 1555.4,526.8 1578.8,527.6 1602.2,531.7 1625.6,536.5 1649,536.9 1672.3,539 1695.7,542.9 1719.1,545.2 1742.5,549.6 1765.9,552.3 1789.3,556.8 1812.7,561.5 1836.1,572.2"/><polyline points="1134.3,199.4 1157.7,315.3 1181.1,378.5 1204.5,402.7 1227.9,424.3 1251.3,440.4 1274.7,452.4 1298,466.5 1321.4,473.2 1344.8,477.2 1368.2,489.6 1391.6,495 1415,495 1438.4,498.4 1461.8,503.6 1485.2,507.9 1508.6,510.7 1532,513.7 1555.4,519.1 1578.8,522 1602.2,527.3 1625.6,529.5 1649,532.5 1672.3,536.6 1695.7,538.7 1719.1,542.6 1742.5,545.8 1765.9,549.7 1789.3,554.1 1812.7,560.3 1836.1,572.2"/><polyline points="1134.3,224.3 1157.7,324.6 1181.1,378.5 1204.5,421.8 1227.9,433.8 1251.3,451.7 1274.7,457.9 1298,462.8 1321.4,475.6 1344.8,485.8 1368.2,489.7 1391.6,498.7 1415,502.5 1438.4,507.2 1461.8,510.2 1485.2,513.3 1508.6,520.2 1532,523 1555.4,528.8 1578.8,530.1 1602.2,532.6 1625.6,533.8 1649,538.5 1672.3,541.1 1695.7,544.4 1719.1,547 1742.5,549.8 1765.9,552.4 1789.3,557.6 1812.7,562.2 1836.1,572.2"/><polyline points="1134.3,272.4 1157.7,364.4 1181.1,410 1204.5,422.9 1227.9,450.7 1251.3,458.1 1274.7,464.1 1298,473.5 1321.4,479.5 1344.8,487.3 1368.2,490.8 1391.6,494.8 1415,502.1 1438.4,504.1 1461.8,510.5 1485.2,514.2 1508.6,518.2 1532,521.6 1555.4,524.4 1578.8,527.9 1602.2,530.4 1625.6,533.3 1649,536.6 1672.3,539.6 1695.7,542.4 1719.1,544.2 1742.5,547.4 1765.9,551.2 1789.3,554.8 1812.7,560.2 1836.1,572.2"/><polyline points="1134.3,253.4 1157.7,332.3 1181.1,384 1204.5,404.4 1227.9,430.7 1251.3,446.7 1274.7,454.6 1298,463.1 1321.4,475.1 1344.8,481 1368.2,484.5 1391.6,485.4 1415,489.3 1438.4,499.6 1461.8,503.4 1485.2,507.4 1508.6,509.8 1532,514.7 1555.4,517.6 1578.8,521 1602.2,525.4 1625.6,527.5 1649,531.2 1672.3,532.3 1695.7,535 1719.1,540.5 1742.5,544.8 1765.9,547.8 1789.3,552.1 1812.7,558.3 1836.1,572.2"/></g><polyline points="1134.3,237.7 1157.7,339.6 1181.1,385.6 1204.5,413.5 1227.9,432.9 1251.3,447.5 1274.7,459.1 1298,468.6 1321.4,476.7 1344.8,483.7 1368.2,489.9 1391.6,495.4 1415,500.3 1438.4,504.9 1461.8,509.1 1485.2,513.1 1508.6,516.8 1532,520.3 1555.4,523.7 1578.8,526.9 1602.2,530.1 1625.6,533.1 1649,536.2 1672.3,539.2 1695.7,542.3 1719.1,545.4 1742.5,548.7 1765.9,552.2 1789.3,556.2 1812.7,561.1 1836.1,572.2" fill="none" stroke="#008000" stroke-width="4.2" stroke-linejoin="round" stroke-linecap="butt"/><polyline points="1134.3,237.7 1157.7,339.6 1181.1,385.6 1204.5,413.5 1227.9,432.9 1251.3,447.5 1274.7,459.1 1298,468.6 1321.4,476.7 1344.8,483.7 1368.2,489.9 1391.6,495.4 1415,500.3 1438.4,504.9 1461.8,509.1 1485.2,513.1 1508.6,516.8 1532,520.3 1555.4,523.7 1578.8,526.9 1602.2,530.1 1625.6,533.1 1649,536.2 1672.3,539.2 1695.7,542.3 1719.1,545.4 1742.5,548.7 1765.9,552.2 1789.3,556.2 1812.7,561.1 1836.1,572.2" fill="none" stroke="#0000ff" stroke-width="4.2" stroke-linejoin="round" stroke-linecap="butt"/></g><g clip-path="url(#clipc)"><g fill="none" stroke="#000" stroke-opacity="0.7" stroke-width="0.9" stroke-linejoin="round"><polyline points="140.1,1103.7 163.5,1209.5 186.9,1244.6 210.3,1123.9 233.7,1071.6 257.1,1137.6 280.5,1071.3 303.9,1046.7 327.3,1074.7 350.7,1121.4 374.1,1148.2 397.5,1181.6 420.9,1261.7 444.3,1256.6 467.7,1224.8 491,1200.2 514.4,1191.7 537.8,1205 561.2,1183.3 584.6,1207.4 608,1235.4 631.4,1275.2 654.8,1248.8 678.2,1248.5 701.6,1236.5 725,1246.7 748.4,1263.3 771.8,1272.2 795.2,1274.2 818.6,1270.1 842,1277"/><polyline points="140.1,897.8 163.5,938.2 186.9,906.7 210.3,1037.4 233.7,1159.3 257.1,1239.8 280.5,1146.3 303.9,1102.9 327.3,1076.6 350.7,1095.6 374.1,1116.8 397.5,1220.2 420.9,1274.5 444.3,1194.1 467.7,1181.6 491,1175.5 514.4,1206.8 537.8,1197 561.2,1239.6 584.6,1263.5 608,1255.4 631.4,1232.9 654.8,1238.2 678.2,1243.2 701.6,1254.3 725,1260.3 748.4,1274.4 771.8,1273.5 795.2,1267.9 818.6,1272.7 842,1277"/><polyline points="140.1,1195.6 163.5,1242.6 186.9,1176.1 210.3,1042.4 233.7,1067 257.1,1154.2 280.5,1212.4 303.9,1252.1 327.3,1157.7 350.7,1099.4 374.1,1152.4 397.5,1260.7 420.9,1262.8 444.3,1218.1 467.7,1177.2 491,1198.6 514.4,1197.2 537.8,1204.8 561.2,1230.8 584.6,1221.9 608,1247.8 631.4,1266.8 654.8,1276.2 678.2,1252.9 701.6,1255.1 725,1259.7 748.4,1271.1 771.8,1271.4 795.2,1271.7 818.6,1272.1 842,1277"/><polyline points="140.1,831.6 163.5,739.4 186.9,859 210.3,940.2 233.7,1173 257.1,1244.4 280.5,1213 303.9,1083.1 327.3,1040.6 350.7,1041.7 374.1,1052.7 397.5,1067 420.9,1112.2 444.3,1208.7 467.7,1217.7 491,1205.9 514.4,1168.1 537.8,1190.5 561.2,1205.8 584.6,1229.1 608,1225 631.4,1233.7 654.8,1220.3 678.2,1225.2 701.6,1232.4 725,1248 748.4,1260.1 771.8,1274.2 795.2,1271.8 818.6,1269.2 842,1277"/><polyline points="140.1,841.5 163.5,867.5 186.9,786.9 210.3,1018.2 233.7,1130.8 257.1,1221.6 280.5,1165.5 303.9,1140.9 327.3,1099.2 350.7,1045.5 374.1,1100.6 397.5,1103.3 420.9,1198 444.3,1266 467.7,1160.3 491,1154.7 514.4,1174.3 537.8,1211.5 561.2,1229 584.6,1265.6 608,1239.3 631.4,1216.1 654.8,1237.5 678.2,1229.7 701.6,1239.8 725,1258 748.4,1263.3 771.8,1275.7 795.2,1268.4 818.6,1269.6 842,1277"/><polyline points="140.1,1154.5 163.5,844.5 186.9,838.2 210.3,805.8 233.7,986.7 257.1,1087.1 280.5,1238.9 303.9,1153.6 327.3,1144.3 350.7,1070.2 374.1,1085.8 397.5,1061.2 420.9,1124 444.3,1150.6 467.7,1218.5 491,1267.2 514.4,1215.3 537.8,1188.1 561.2,1184.2 584.6,1251.7 608,1235.6 631.4,1230.6 654.8,1216.6 678.2,1220.5 701.6,1262 725,1275.7 748.4,1267.5 771.8,1262.8 795.2,1266.5 818.6,1269.9 842,1277"/><polyline points="140.1,925.1 163.5,900.9 186.9,775.4 210.3,918 233.7,1101.7 257.1,1268.5 280.5,1188.1 303.9,1134 327.3,1151.7 350.7,1071.1 374.1,1082.1 397.5,1072.6 420.9,1098.4 444.3,1166.3 467.7,1206.7 491,1234.6 514.4,1264.3 537.8,1220.2 561.2,1191.7 584.6,1203.2 608,1256 631.4,1244.6 654.8,1238.2 678.2,1240.2 701.6,1248 725,1249.5 748.4,1267.6 771.8,1276.9 795.2,1270.1 818.6,1271.4 842,1277"/><polyline points="140.1,1267.1 163.5,1241.5 186.9,1156.5 210.3,1049.5 233.7,1100.9 257.1,1114.6 280.5,1233.4 303.9,1271.6 327.3,1159.7 350.7,1095.8 374.1,1148 397.5,1099.3 420.9,1187.8 444.3,1221.9 467.7,1277 491,1245.5 514.4,1241.8 537.8,1228.8 561.2,1233.1 584.6,1214.8 608,1244.2 631.4,1250.3 654.8,1266.1 678.2,1274.5 701.6,1258 725,1257.6 748.4,1265.4 771.8,1272.9 795.2,1275.5 818.6,1272.9 842,1277"/><polyline points="140.1,1226.8 163.5,942.3 186.9,894.5 210.3,930.5 233.7,1141.4 257.1,1270.5 280.5,1151.2 303.9,1184.9 327.3,1111.6 350.7,1103.1 374.1,1073 397.5,1077.3 420.9,1139.3 444.3,1230.7 467.7,1205.5 491,1247.4 514.4,1259.1 537.8,1198.3 561.2,1215.3 584.6,1254.3 608,1243.2 631.4,1234.6 654.8,1234.6 678.2,1242.8 701.6,1246 725,1255.7 748.4,1263.3 771.8,1274.7 795.2,1274.9 818.6,1270.6 842,1277"/><polyline points="140.1,1033.9 163.5,962.5 186.9,960.3 210.3,1158.5 233.7,1238.1 257.1,1211.5 280.5,1121.9 303.9,1113.7 327.3,1090.5 350.7,1077.5 374.1,1120 397.5,1106.4 420.9,1199.9 444.3,1169.2 467.7,1265.5 491,1273.2 514.4,1226.6 537.8,1192.1 561.2,1223.1 584.6,1262.5 608,1241.9 631.4,1234.1 654.8,1237.2 678.2,1248.5 701.6,1254.7 725,1263.3 748.4,1265.7 771.8,1273.9 795.2,1276.7 818.6,1270.9 842,1277"/><polyline points="140.1,940.1 163.5,832.9 186.9,793.4 210.3,984.6 233.7,1115.1 257.1,1199.2 280.5,1249.8 303.9,1117 327.3,1068.9 350.7,1100.1 374.1,1100.9 397.5,1244 420.9,1201.3 444.3,1192.5 467.7,1149.4 491,1161.6 514.4,1192.1 537.8,1200 561.2,1229.2 584.6,1239.7 608,1258.7 631.4,1239.3 654.8,1228.2 678.2,1230.4 701.6,1253.7 725,1277 748.4,1262.7 771.8,1265.3 795.2,1268.3 818.6,1270.7 842,1277"/><polyline points="140.1,998.6 163.5,1254.1 186.9,1132.2 210.3,1115.6 233.7,1017.1 257.1,1057.9 280.5,1031.5 303.9,1041.2 327.3,1037.2 350.7,1040.5 374.1,1163.9 397.5,1275.5 420.9,1191.2 444.3,1151.1 467.7,1134.9 491,1156.8 514.4,1172.5 537.8,1200.2 561.2,1273.1 584.6,1264.3 608,1223 631.4,1206.3 654.8,1222.6 678.2,1231.8 701.6,1234.8 725,1263 748.4,1275.5 771.8,1266.7 795.2,1264.4 818.6,1269.3 842,1277"/><polyline points="140.1,860.2 163.5,814.5 186.9,889.4 210.3,1089.9 233.7,1121.8 257.1,1229.7 280.5,1127.3 303.9,1076.3 327.3,1047.1 350.7,1059.5 374.1,1186.4 397.5,1267.6 420.9,1223.6 444.3,1154.2 467.7,1152.6 491,1179 514.4,1184.2 537.8,1167.3 561.2,1202 584.6,1210.4 608,1247.6 631.4,1253 654.8,1252.7 678.2,1234.4 701.6,1243.5 725,1262.9 748.4,1267.5 771.8,1264.8 795.2,1267.9 818.6,1268.9 842,1277"/><polyline points="140.1,1111.2 163.5,1268.4 186.9,1223 210.3,1178.7 233.7,1106.2 257.1,1125.6 280.5,1115.6 303.9,1123.7 327.3,1121.1 350.7,1189.5 374.1,1258.5 397.5,1254.8 420.9,1272 444.3,1201.2 467.7,1187.1 491,1201.4 514.4,1204.1 537.8,1218.3 561.2,1239 584.6,1265.7 608,1262.3 631.4,1259 654.8,1250.5 678.2,1244.3 701.6,1248.9 725,1254.3 748.4,1269.6 771.8,1276.1 795.2,1272.6 818.6,1271.2 842,1277"/><polyline points="140.1,1021.1 163.5,1031.1 186.9,1181.8 210.3,1265.7 233.7,1211.7 257.1,1200.6 280.5,1173.3 303.9,1141.3 327.3,1132.9 350.7,1100.4 374.1,1100.6 397.5,1119.4 420.9,1163.4 444.3,1213.8 467.7,1236.8 491,1259 514.4,1241.5 537.8,1204.6 561.2,1212.1 584.6,1257.7 608,1258.9 631.4,1247.7 654.8,1231.4 678.2,1249.3 701.6,1251.7 725,1274.9 748.4,1268.3 771.8,1267.8 795.2,1269.8 818.6,1272.2 842,1277"/><polyline points="140.1,954.6 163.5,878.1 186.9,905 210.3,982.3 233.7,1138.8 257.1,1221.5 280.5,1257.1 303.9,1168.6 327.3,1191.7 350.7,1130.6 374.1,1133.3 397.5,1130.6 420.9,1147.6 444.3,1150 467.7,1171.2 491,1219.7 514.4,1268.5 537.8,1243.5 561.2,1225.9 584.6,1205.3 608,1213.1 631.4,1242.5 654.8,1268.2 678.2,1248 701.6,1255.7 725,1272.8 748.4,1268.6 771.8,1267.2 795.2,1267.5 818.6,1272.4 842,1277"/><polyline points="140.1,919.2 163.5,990.1 186.9,992.9 210.3,1183.1 233.7,1251.6 257.1,1250.8 280.5,1197.8 303.9,1127.3 327.3,1084.7 350.7,1101.3 374.1,1079.9 397.5,1146.6 420.9,1161.4 444.3,1249.9 467.7,1267.6 491,1253.6 514.4,1232.8 537.8,1209.5 561.2,1224.2 584.6,1209.8 608,1229.5 631.4,1238.9 654.8,1254.7 678.2,1273.5 701.6,1257.2 725,1259 748.4,1274.2 771.8,1271.2 795.2,1268.7 818.6,1272.9 842,1277"/><polyline points="140.1,891.5 163.5,820 186.9,904.4 210.3,1030 233.7,1156.7 257.1,1260 280.5,1132.1 303.9,1113.7 327.3,1120.8 350.7,1070.3 374.1,1096.7 397.5,1095 420.9,1190 444.3,1238.9 467.7,1256 491,1258.7 514.4,1208.1 537.8,1211.2 561.2,1183.6 584.6,1188.9 608,1218 631.4,1249.8 654.8,1255.5 678.2,1271.9 701.6,1249.1 725,1250.8 748.4,1271.5 771.8,1272.6 795.2,1269.7 818.6,1269.4 842,1277"/><polyline points="140.1,1176 163.5,1210.5 186.9,1158.3 210.3,1167 233.7,1133.8 257.1,1120.4 280.5,1141.1 303.9,1130.3 327.3,1149.1 350.7,1167.7 374.1,1226.8 397.5,1273.7 420.9,1255.3 444.3,1205.9 467.7,1211.2 491,1185.7 514.4,1213.8 537.8,1220.8 561.2,1223.1 584.6,1248.8 608,1266.9 631.4,1263.5 654.8,1250.3 678.2,1251.8 701.6,1265 725,1271.1 748.4,1269.6 771.8,1269.9 795.2,1271 818.6,1272.7 842,1277"/><polyline points="140.1,1063.1 163.5,1013 186.9,1043.2 210.3,1001.8 233.7,1136 257.1,1205.7 280.5,1259.5 303.9,1214.4 327.3,1176.6 350.7,1130.9 374.1,1118.3 397.5,1188.1 420.9,1188.5 444.3,1232.7 467.7,1256.7 491,1244.8 514.4,1237.1 537.8,1220.1 561.2,1233.5 584.6,1254.9 608,1276.7 631.4,1262.4 654.8,1250.5 678.2,1255.5 701.6,1246.3 725,1259 748.4,1270 771.8,1275.6 795.2,1274.2 818.6,1273 842,1277"/><polyline points="140.1,927.4 163.5,918.9 186.9,979.4 210.3,1078.5 233.7,1162.2 257.1,1218.7 280.5,1264.1 303.9,1194.4 327.3,1102.5 350.7,1161.9 374.1,1094.5 397.5,1190.2 420.9,1237.3 444.3,1213.5 467.7,1244.2 491,1221.8 514.4,1191.1 537.8,1208.3 561.2,1207.6 584.6,1215.5 608,1226 631.4,1242.2 654.8,1266.5 678.2,1268.2 701.6,1247.1 725,1271.9 748.4,1265.9 771.8,1268.4 795.2,1267.5 818.6,1273 842,1277"/><polyline points="140.1,1074.2 163.5,947.7 186.9,936.9 210.3,904.4 233.7,994.6 257.1,1088.5 280.5,1241.4 303.9,1263.3 327.3,1168.2 350.7,1074.4 374.1,1025.5 397.5,1135.9 420.9,1275.2 444.3,1243.8 467.7,1220.7 491,1213.5 514.4,1188.7 537.8,1186.9 561.2,1172.8 584.6,1213.3 608,1211.7 631.4,1225.6 654.8,1274.6 678.2,1269.9 701.6,1251 725,1247.6 748.4,1270.3 771.8,1267.9 795.2,1266.2 818.6,1270.8 842,1277"/></g><g fill="none" stroke="#000" stroke-opacity="0.35" stroke-width="0.9" stroke-linejoin="round"><polyline points="140.1,1003.7 163.5,1093.3 186.9,1175.4 210.3,1210.7 233.7,1205.2 257.1,1166.6 280.5,1187.7 303.9,1154.4 327.3,1152.3 350.7,1128.6 374.1,1135.9 397.5,1157.4 420.9,1199.1 444.3,1210.3 467.7,1242.5 491,1254 514.4,1271.8 537.8,1221 561.2,1215.8 584.6,1250.8 608,1274.2 631.4,1270 654.8,1248.3 678.2,1244.4 701.6,1252.1 725,1259 748.4,1271.9 771.8,1275.9 795.2,1274.2 818.6,1272.4 842,1277"/><polyline points="140.1,1088.7 163.5,1020.4 186.9,1073.3 210.3,1049 233.7,1159.6 257.1,1246.5 280.5,1274 303.9,1152.2 327.3,1169 350.7,1145.5 374.1,1128.8 397.5,1150.2 420.9,1183.8 444.3,1208.8 467.7,1258.9 491,1268.1 514.4,1264.6 537.8,1230.9 561.2,1222.4 584.6,1243.7 608,1240.3 631.4,1276.4 654.8,1260.1 678.2,1256 701.6,1255.6 725,1269.8 748.4,1271.1 771.8,1271.2 795.2,1270.3 818.6,1273 842,1277"/><polyline points="140.1,1082.9 163.5,1251.2 186.9,1262.5 210.3,1130.2 233.7,1146.2 257.1,1121.6 280.5,1117.9 303.9,1130.3 327.3,1139.9 350.7,1165.1 374.1,1201.2 397.5,1255.7 420.9,1226.8 444.3,1234.8 467.7,1227.4 491,1188.8 514.4,1210 537.8,1210.1 561.2,1196.9 584.6,1223.3 608,1252.3 631.4,1269.1 654.8,1253.9 678.2,1241.2 701.6,1251.4 725,1265.6 748.4,1276.2 771.8,1269 795.2,1268.2 818.6,1272.5 842,1277"/><polyline points="140.1,998.9 163.5,1038 186.9,1194.9 210.3,1251.9 233.7,1157.9 257.1,1185 280.5,1186.4 303.9,1176.5 327.3,1182.8 350.7,1148.4 374.1,1137.6 397.5,1230.2 420.9,1246.5 444.3,1251.1 467.7,1230.3 491,1225.5 514.4,1223.1 537.8,1209.2 561.2,1205.4 584.6,1217.3 608,1240.6 631.4,1258.3 654.8,1269.1 678.2,1272.1 701.6,1249.8 725,1263 748.4,1273.3 771.8,1270.7 795.2,1268.9 818.6,1273.3 842,1277"/><polyline points="140.1,1125.8 163.5,1003.4 186.9,901.9 210.3,995 233.7,1079.1 257.1,1162.7 280.5,1243.4 303.9,1194.5 327.3,1142.7 350.7,1081.9 374.1,1125.8 397.5,1189.7 420.9,1235.7 444.3,1231.9 467.7,1234.1 491,1219.6 514.4,1214.3 537.8,1204 561.2,1205.9 584.6,1211.1 608,1242.6 631.4,1235.5 654.8,1258 678.2,1275.2 701.6,1248.6 725,1252.6 748.4,1268.9 771.8,1273.5 795.2,1267.7 818.6,1271.6 842,1277"/><polyline points="140.1,1008.1 163.5,1012.2 186.9,1037.6 210.3,1234.3 233.7,1247.7 257.1,1210.7 280.5,1158 303.9,1116 327.3,1138.8 350.7,1157.8 374.1,1150.2 397.5,1208.4 420.9,1258.5 444.3,1221.2 467.7,1244.3 491,1214.9 514.4,1233.4 537.8,1218.7 561.2,1214.9 584.6,1223.9 608,1257.7 631.4,1260.5 654.8,1269.6 678.2,1259.8 701.6,1245.8 725,1257.7 748.4,1268 771.8,1273.6 795.2,1276.5 818.6,1271.4 842,1277"/><polyline points="140.1,1200 163.5,1240 186.9,1148.6 210.3,1052.9 233.7,1114.3 257.1,1213.1 280.5,1270.2 303.9,1160.1 327.3,1144.8 350.7,1145.3 374.1,1189.4 397.5,1259.3 420.9,1255.1 444.3,1188 467.7,1214.3 491,1222.9 514.4,1222.5 537.8,1225.1 561.2,1233.3 584.6,1237.4 608,1247.7 631.4,1260.2 654.8,1268.5 678.2,1275.4 701.6,1264.4 725,1257.3 748.4,1267.1 771.8,1273 795.2,1274.2 818.6,1273.5 842,1277"/><polyline points="140.1,1251 163.5,1005.7 186.9,1021 210.3,876.2 233.7,1035.7 257.1,1206.4 280.5,1239.1 303.9,1106.7 327.3,1058.7 350.7,1058.8 374.1,1065 397.5,1088.2 420.9,1117.2 444.3,1149.3 467.7,1200.5 491,1271.4 514.4,1240.2 537.8,1210.1 561.2,1177.8 584.6,1187 608,1200.8 631.4,1219.6 654.8,1244.1 678.2,1269.3 701.6,1257.7 725,1247.1 748.4,1265.5 771.8,1270.4 795.2,1267.3 818.6,1270 842,1277"/><polyline points="140.1,839.5 163.5,786.1 186.9,1045.5 210.3,1207.7 233.7,1187.7 257.1,1162.6 280.5,1093.8 303.9,1052.7 327.3,1089.3 350.7,1053.7 374.1,1074.8 397.5,1061.3 420.9,1123.2 444.3,1160 467.7,1185.8 491,1272.3 514.4,1196.3 537.8,1173.3 561.2,1207.9 584.6,1250.4 608,1223.4 631.4,1210.6 654.8,1220.3 678.2,1230.4 701.6,1244.1 725,1263.6 748.4,1272.2 771.8,1266.4 795.2,1264.5 818.6,1269.6 842,1277"/><polyline points="140.1,1249.2 163.5,1135.3 186.9,1059.1 210.3,1076.8 233.7,1144.4 257.1,1192.4 280.5,1246 303.9,1236.3 327.3,1170.6 350.7,1142.8 374.1,1129.9 397.5,1153.6 420.9,1179.4 444.3,1211.7 467.7,1275.6 491,1255.5 514.4,1248.2 537.8,1236.8 561.2,1230.3 584.6,1254.3 608,1265.9 631.4,1258 654.8,1254.2 678.2,1251.1 701.6,1256.1 725,1266.6 748.4,1275.2 771.8,1272.8 795.2,1271.8 818.6,1273.4 842,1277"/><polyline points="140.1,1141.9 163.5,1216.2 186.9,1185.9 210.3,1156.6 233.7,1079.7 257.1,1136.3 280.5,1114.3 303.9,1115.4 327.3,1069.7 350.7,1084.1 374.1,1105.2 397.5,1169.1 420.9,1160.6 444.3,1211.7 467.7,1229.4 491,1251.1 514.4,1253.7 537.8,1204 561.2,1203.6 584.6,1259.1 608,1258.4 631.4,1246.7 654.8,1240.8 678.2,1247.3 701.6,1247.5 725,1265.4 748.4,1274.5 771.8,1270.5 795.2,1270.5 818.6,1274.3 842,1277"/><polyline points="140.1,1052.6 163.5,878.2 186.9,833.9 210.3,821.5 233.7,1002.2 257.1,1129 280.5,1192 303.9,1269.5 327.3,1042.2 350.7,1079.3 374.1,1096.5 397.5,1241.8 420.9,1173.8 444.3,1137 467.7,1121.5 491,1164.6 514.4,1181.8 537.8,1203.4 561.2,1254.2 584.6,1270.9 608,1219.8 631.4,1228.9 654.8,1225.9 678.2,1228.2 701.6,1235.6 725,1247.1 748.4,1262.5 771.8,1271.9 795.2,1274.2 818.6,1268.7 842,1277"/></g><polyline points="140.1,942.5 163.5,1007.7 186.9,1051.9 210.3,1086 233.7,1113.8 257.1,1122.5 280.5,1137.8 303.9,1148.2 327.3,1153.6 350.7,1158.3 374.1,1159.9 397.5,1173.3 420.9,1185.3 444.3,1193.4 467.7,1202.1 491,1208.1 514.4,1208.4 537.8,1208.8 561.2,1205.8 584.6,1204.1 608,1218.8 631.4,1231.8 654.8,1238.9 678.2,1240.9 701.6,1239.5 725,1251.2 748.4,1253.3 771.8,1272 795.2,1271 818.6,1269.3 842,1277" fill="none" stroke="#008000" stroke-width="4.2" stroke-linejoin="round" stroke-linecap="butt"/><polyline points="140.1,942.5 163.5,1044.4 186.9,1090.4 210.3,1118.3 233.7,1137.7 257.1,1152.3 280.5,1163.9 303.9,1173.4 327.3,1181.5 350.7,1188.5 374.1,1194.7 397.5,1200.2 420.9,1205.1 444.3,1209.7 467.7,1213.9 491,1217.9 514.4,1221.6 537.8,1225.1 561.2,1228.5 584.6,1231.7 608,1234.9 631.4,1237.9 654.8,1241 678.2,1244 701.6,1247.1 725,1250.2 748.4,1253.5 771.8,1257 795.2,1261 818.6,1265.8 842,1277" fill="none" stroke="#0000ff" stroke-width="4.2" stroke-linejoin="round" stroke-linecap="butt"/></g><g clip-path="url(#clipd)"><g fill="none" stroke="#000" stroke-opacity="0.14" stroke-width="1.0" stroke-linejoin="round"><polyline points="1110.5,942.5 1133.9,1029.4 1157.3,1073.7 1180.7,1102 1204,1122.2 1227.4,1137.6 1250.8,1150.1 1274.2,1160.3 1297.6,1169.1 1321,1176.7 1344.3,1183.5 1367.7,1189.5 1391.1,1195 1414.5,1200 1437.9,1204.7 1461.3,1209 1484.6,1213.1 1508,1217 1531.4,1220.7 1554.8,1224.2 1578.2,1227.7 1601.6,1231.1 1624.9,1234.4 1648.3,1237.6 1671.7,1240.9 1695.1,1244.2 1718.5,1247.6 1741.9,1251.2 1765.2,1255 1788.6,1259.4 1812,1264.7 1835.4,1277"/><polyline points="1110.5,942.5 1133.9,962.5 1157.3,980.3 1180.7,996.4 1204,1011.1 1227.4,1024.6 1250.8,1037 1274.2,1048.7 1297.6,1059.6 1321,1069.9 1344.3,1079.6 1367.7,1088.9 1391.1,1097.7 1414.5,1106.3 1437.9,1114.5 1461.3,1122.5 1484.6,1130.2 1508,1137.8 1531.4,1145.2 1554.8,1152.5 1578.2,1159.8 1601.6,1167 1624.9,1174.3 1648.3,1181.6 1671.7,1189.1 1695.1,1196.8 1718.5,1204.8 1741.9,1213.2 1765.2,1222.5 1788.6,1233.1 1812,1246.3 1835.4,1277"/><polyline points="1110.5,942.5 1133.9,1036 1157.3,1081.1 1180.7,1109.3 1204,1129.1 1227.4,1144.2 1250.8,1156.2 1274.2,1166.1 1297.6,1174.6 1321,1181.9 1344.3,1188.3 1367.7,1194.1 1391.1,1199.3 1414.5,1204.1 1437.9,1208.5 1461.3,1212.7 1484.6,1216.6 1508,1220.2 1531.4,1223.8 1554.8,1227.1 1578.2,1230.4 1601.6,1233.6 1624.9,1236.7 1648.3,1239.8 1671.7,1242.9 1695.1,1246 1718.5,1249.3 1741.9,1252.6 1765.2,1256.3 1788.6,1260.4 1812,1265.4 1835.4,1277"/><polyline points="1110.5,942.5 1133.9,990.5 1157.3,1024.3 1180.7,1049.9 1204,1070.2 1227.4,1086.9 1250.8,1101.1 1274.2,1113.4 1297.6,1124.2 1321,1133.9 1344.3,1142.6 1367.7,1150.6 1391.1,1157.9 1414.5,1164.7 1437.9,1171.1 1461.3,1177.2 1484.6,1182.9 1508,1188.4 1531.4,1193.6 1554.8,1198.7 1578.2,1203.7 1601.6,1208.6 1624.9,1213.4 1648.3,1218.2 1671.7,1223 1695.1,1227.9 1718.5,1233 1741.9,1238.3 1765.2,1244 1788.6,1250.5 1812,1258.5 1835.4,1277"/><polyline points="1110.5,942.5 1133.9,1023.3 1157.3,1066.6 1180.7,1094.9 1204,1115.4 1227.4,1131.2 1250.8,1143.9 1274.2,1154.6 1297.6,1163.6 1321,1171.6 1344.3,1178.6 1367.7,1184.9 1391.1,1190.6 1414.5,1195.9 1437.9,1200.8 1461.3,1205.3 1484.6,1209.6 1508,1213.7 1531.4,1217.6 1554.8,1221.3 1578.2,1224.9 1601.6,1228.5 1624.9,1232 1648.3,1235.4 1671.7,1238.9 1695.1,1242.4 1718.5,1246 1741.9,1249.7 1765.2,1253.8 1788.6,1258.4 1812,1264 1835.4,1277"/><polyline points="1110.5,942.5 1133.9,976.1 1157.3,1002.7 1180.7,1024.6 1204,1043.2 1227.4,1059.2 1250.8,1073.2 1274.2,1085.8 1297.6,1097.1 1321,1107.4 1344.3,1116.9 1367.7,1125.6 1391.1,1133.9 1414.5,1141.6 1437.9,1148.9 1461.3,1155.8 1484.6,1162.5 1508,1168.9 1531.4,1175.1 1554.8,1181.2 1578.2,1187.1 1601.6,1192.9 1624.9,1198.7 1648.3,1204.5 1671.7,1210.4 1695.1,1216.4 1718.5,1222.5 1741.9,1229.1 1765.2,1236.1 1788.6,1244.1 1812,1254.1 1835.4,1277"/><polyline points="1110.5,942.5 1133.9,1024.7 1157.3,1068.3 1180.7,1096.6 1204,1117 1227.4,1132.7 1250.8,1145.4 1274.2,1155.9 1297.6,1164.9 1321,1172.8 1344.3,1179.7 1367.7,1186 1391.1,1191.7 1414.5,1196.9 1437.9,1201.7 1461.3,1206.2 1484.6,1210.4 1508,1214.5 1531.4,1218.3 1554.8,1222 1578.2,1225.6 1601.6,1229.1 1624.9,1232.5 1648.3,1235.9 1671.7,1239.4 1695.1,1242.8 1718.5,1246.4 1741.9,1250.1 1765.2,1254.1 1788.6,1258.6 1812,1264.2 1835.4,1277"/><polyline points="1110.5,942.5 1133.9,1008.2 1157.3,1048.1 1180.7,1075.8 1204,1096.6 1227.4,1113.1 1250.8,1126.7 1274.2,1138.1 1297.6,1148 1321,1156.7 1344.3,1164.5 1367.7,1171.5 1391.1,1177.9 1414.5,1183.8 1437.9,1189.3 1461.3,1194.5 1484.6,1199.4 1508,1204 1531.4,1208.4 1554.8,1212.7 1578.2,1216.9 1601.6,1220.9 1624.9,1224.9 1648.3,1228.9 1671.7,1232.9 1695.1,1236.9 1718.5,1241.1 1741.9,1245.4 1765.2,1250.1 1788.6,1255.4 1812,1262 1835.4,1277"/><polyline points="1110.5,942.5 1133.9,1029.5 1157.3,1073.8 1180.7,1102 1204,1122.2 1227.4,1137.7 1250.8,1150.1 1274.2,1160.4 1297.6,1169.1 1321,1176.8 1344.3,1183.5 1367.7,1189.5 1391.1,1195 1414.5,1200 1437.9,1204.7 1461.3,1209 1484.6,1213.1 1508,1217 1531.4,1220.7 1554.8,1224.3 1578.2,1227.7 1601.6,1231.1 1624.9,1234.4 1648.3,1237.6 1671.7,1240.9 1695.1,1244.2 1718.5,1247.6 1741.9,1251.2 1765.2,1255.1 1788.6,1259.4 1812,1264.7 1835.4,1277"/><polyline points="1110.5,942.5 1133.9,1026.9 1157.3,1070.8 1180.7,1099.1 1204,1119.4 1227.4,1135 1250.8,1147.5 1274.2,1158 1297.6,1166.9 1321,1174.6 1344.3,1181.5 1367.7,1187.6 1391.1,1193.2 1414.5,1198.3 1437.9,1203.1 1461.3,1207.5 1484.6,1211.7 1508,1215.6 1531.4,1219.4 1554.8,1223.1 1578.2,1226.6 1601.6,1230 1624.9,1233.4 1648.3,1236.7 1671.7,1240.1 1695.1,1243.5 1718.5,1247 1741.9,1250.6 1765.2,1254.5 1788.6,1259 1812,1264.5 1835.4,1277"/><polyline points="1110.5,942.5 1133.9,1029.5 1157.3,1073.8 1180.7,1102.1 1204,1122.3 1227.4,1137.8 1250.8,1150.1 1274.2,1160.4 1297.6,1169.2 1321,1176.8 1344.3,1183.5 1367.7,1189.6 1391.1,1195.1 1414.5,1200.1 1437.9,1204.7 1461.3,1209.1 1484.6,1213.2 1508,1217 1531.4,1220.7 1554.8,1224.3 1578.2,1227.7 1601.6,1231.1 1624.9,1234.4 1648.3,1237.7 1671.7,1240.9 1695.1,1244.3 1718.5,1247.7 1741.9,1251.2 1765.2,1255.1 1788.6,1259.4 1812,1264.7 1835.4,1277"/><polyline points="1110.5,942.5 1133.9,1018.6 1157.3,1061 1180.7,1089.1 1204,1109.8 1227.4,1125.8 1250.8,1138.8 1274.2,1149.7 1297.6,1159.1 1321,1167.2 1344.3,1174.5 1367.7,1181 1391.1,1186.9 1414.5,1192.4 1437.9,1197.5 1461.3,1202.2 1484.6,1206.7 1508,1210.9 1531.4,1214.9 1554.8,1218.8 1578.2,1222.6 1601.6,1226.3 1624.9,1229.9 1648.3,1233.5 1671.7,1237.2 1695.1,1240.8 1718.5,1244.6 1741.9,1248.5 1765.2,1252.7 1788.6,1257.5 1812,1263.4 1835.4,1277"/><polyline points="1110.5,942.5 1133.9,1022.5 1157.3,1065.6 1180.7,1093.9 1204,1114.4 1227.4,1130.2 1250.8,1143 1274.2,1153.7 1297.6,1162.8 1321,1170.8 1344.3,1177.9 1367.7,1184.2 1391.1,1190 1414.5,1195.3 1437.9,1200.2 1461.3,1204.8 1484.6,1209.1 1508,1213.2 1531.4,1217.1 1554.8,1220.9 1578.2,1224.5 1601.6,1228.1 1624.9,1231.6 1648.3,1235.1 1671.7,1238.6 1695.1,1242.1 1718.5,1245.7 1741.9,1249.5 1765.2,1253.6 1788.6,1258.2 1812,1263.9 1835.4,1277"/><polyline points="1110.5,942.5 1133.9,964.3 1157.3,983.5 1180.7,1000.5 1204,1015.9 1227.4,1029.9 1250.8,1042.7 1274.2,1054.6 1297.6,1065.7 1321,1076 1344.3,1085.8 1367.7,1095.1 1391.1,1103.9 1414.5,1112.3 1437.9,1120.4 1461.3,1128.3 1484.6,1135.9 1508,1143.3 1531.4,1150.5 1554.8,1157.6 1578.2,1164.7 1601.6,1171.7 1624.9,1178.7 1648.3,1185.8 1671.7,1192.9 1695.1,1200.3 1718.5,1208 1741.9,1216.1 1765.2,1225 1788.6,1235.1 1812,1247.8 1835.4,1277"/><polyline points="1110.5,942.5 1133.9,1025.9 1157.3,1069.6 1180.7,1097.9 1204,1118.3 1227.4,1133.9 1250.8,1146.6 1274.2,1157 1297.6,1166 1321,1173.8 1344.3,1180.7 1367.7,1186.9 1391.1,1192.5 1414.5,1197.7 1437.9,1202.4 1461.3,1206.9 1484.6,1211.1 1508,1215.1 1531.4,1218.9 1554.8,1222.6 1578.2,1226.1 1601.6,1229.6 1624.9,1233 1648.3,1236.4 1671.7,1239.8 1695.1,1243.2 1718.5,1246.7 1741.9,1250.4 1765.2,1254.3 1788.6,1258.8 1812,1264.3 1835.4,1277"/><polyline points="1110.5,942.5 1133.9,1031.7 1157.3,1076.3 1180.7,1104.6 1204,1124.6 1227.4,1140 1250.8,1152.2 1274.2,1162.4 1297.6,1171.1 1321,1178.6 1344.3,1185.2 1367.7,1191.2 1391.1,1196.5 1414.5,1201.5 1437.9,1206.1 1461.3,1210.3 1484.6,1214.3 1508,1218.2 1531.4,1221.8 1554.8,1225.3 1578.2,1228.7 1601.6,1232 1624.9,1235.2 1648.3,1238.4 1671.7,1241.6 1695.1,1244.9 1718.5,1248.2 1741.9,1251.7 1765.2,1255.5 1788.6,1259.7 1812,1265 1835.4,1277"/><polyline points="1110.5,942.5 1133.9,1047.6 1157.3,1093.7 1180.7,1121.4 1204,1140.5 1227.4,1154.8 1250.8,1166.2 1274.2,1175.5 1297.6,1183.3 1321,1190.1 1344.3,1196.1 1367.7,1201.4 1391.1,1206.2 1414.5,1210.6 1437.9,1214.7 1461.3,1218.5 1484.6,1222 1508,1225.4 1531.4,1228.6 1554.8,1231.7 1578.2,1234.7 1601.6,1237.6 1624.9,1240.4 1648.3,1243.2 1671.7,1246.1 1695.1,1248.9 1718.5,1251.8 1741.9,1254.9 1765.2,1258.2 1788.6,1261.9 1812,1266.5 1835.4,1277"/><polyline points="1110.5,942.5 1133.9,1027.4 1157.3,1071.4 1180.7,1099.7 1204,1120 1227.4,1135.6 1250.8,1148.1 1274.2,1158.5 1297.6,1167.4 1321,1175.1 1344.3,1181.9 1367.7,1188 1391.1,1193.6 1414.5,1198.7 1437.9,1203.4 1461.3,1207.8 1484.6,1212 1508,1215.9 1531.4,1219.7 1554.8,1223.3 1578.2,1226.8 1601.6,1230.2 1624.9,1233.6 1648.3,1236.9 1671.7,1240.3 1695.1,1243.6 1718.5,1247.1 1741.9,1250.7 1765.2,1254.6 1788.6,1259.1 1812,1264.5 1835.4,1277"/><polyline points="1110.5,942.5 1133.9,981.4 1157.3,1010.9 1180.7,1034.4 1204,1053.8 1227.4,1070.2 1250.8,1084.5 1274.2,1097 1297.6,1108.2 1321,1118.3 1344.3,1127.5 1367.7,1136 1391.1,1143.8 1414.5,1151.2 1437.9,1158.2 1461.3,1164.8 1484.6,1171.1 1508,1177.1 1531.4,1182.9 1554.8,1188.6 1578.2,1194.1 1601.6,1199.6 1624.9,1205 1648.3,1210.3 1671.7,1215.8 1695.1,1221.3 1718.5,1227 1741.9,1233 1765.2,1239.5 1788.6,1246.8 1812,1256 1835.4,1277"/><polyline points="1110.5,942.5 1133.9,1011.4 1157.3,1052.1 1180.7,1080 1204,1100.8 1227.4,1117.2 1250.8,1130.6 1274.2,1141.9 1297.6,1151.6 1321,1160.1 1344.3,1167.7 1367.7,1174.6 1391.1,1180.9 1414.5,1186.6 1437.9,1192 1461.3,1197 1484.6,1201.7 1508,1206.3 1531.4,1210.6 1554.8,1214.7 1578.2,1218.7 1601.6,1222.7 1624.9,1226.6 1648.3,1230.4 1671.7,1234.3 1695.1,1238.2 1718.5,1242.2 1741.9,1246.4 1765.2,1251 1788.6,1256.1 1812,1262.5 1835.4,1277"/><polyline points="1110.5,942.5 1133.9,1013.1 1157.3,1054.2 1180.7,1082.2 1204,1103 1227.4,1119.3 1250.8,1132.6 1274.2,1143.8 1297.6,1153.4 1321,1161.9 1344.3,1169.4 1367.7,1176.2 1391.1,1182.3 1414.5,1188 1437.9,1193.3 1461.3,1198.3 1484.6,1202.9 1508,1207.4 1531.4,1211.6 1554.8,1215.7 1578.2,1219.7 1601.6,1223.6 1624.9,1227.4 1648.3,1231.2 1671.7,1235 1695.1,1238.8 1718.5,1242.8 1741.9,1246.9 1765.2,1251.4 1788.6,1256.4 1812,1262.7 1835.4,1277"/><polyline points="1110.5,942.5 1133.9,1001.7 1157.3,1039.6 1180.7,1066.7 1204,1087.5 1227.4,1104.2 1250.8,1118 1274.2,1129.8 1297.6,1140.1 1321,1149.1 1344.3,1157.2 1367.7,1164.6 1391.1,1171.3 1414.5,1177.6 1437.9,1183.4 1461.3,1188.8 1484.6,1194 1508,1198.9 1531.4,1203.6 1554.8,1208.2 1578.2,1212.6 1601.6,1216.9 1624.9,1221.2 1648.3,1225.4 1671.7,1229.7 1695.1,1234 1718.5,1238.4 1741.9,1243.1 1765.2,1248.1 1788.6,1253.8 1812,1260.9 1835.4,1277"/><polyline points="1110.5,942.5 1133.9,1027.5 1157.3,1071.6 1180.7,1099.8 1204,1120.1 1227.4,1135.7 1250.8,1148.2 1274.2,1158.6 1297.6,1167.5 1321,1175.2 1344.3,1182 1367.7,1188.1 1391.1,1193.7 1414.5,1198.8 1437.9,1203.5 1461.3,1207.9 1484.6,1212.1 1508,1216 1531.4,1219.8 1554.8,1223.4 1578.2,1226.9 1601.6,1230.3 1624.9,1233.6 1648.3,1237 1671.7,1240.3 1695.1,1243.7 1718.5,1247.1 1741.9,1250.8 1765.2,1254.7 1788.6,1259.1 1812,1264.5 1835.4,1277"/><polyline points="1110.5,942.5 1133.9,1070.8 1157.3,1117.1 1180.7,1143.1 1204,1160.5 1227.4,1173.3 1250.8,1183.3 1274.2,1191.4 1297.6,1198.2 1321,1204 1344.3,1209.1 1367.7,1213.7 1391.1,1217.8 1414.5,1221.5 1437.9,1224.9 1461.3,1228.1 1484.6,1231.1 1508,1234 1531.4,1236.7 1554.8,1239.2 1578.2,1241.7 1601.6,1244.2 1624.9,1246.5 1648.3,1248.9 1671.7,1251.2 1695.1,1253.6 1718.5,1256.1 1741.9,1258.6 1765.2,1261.4 1788.6,1264.4 1812,1268.3 1835.4,1277"/><polyline points="1110.5,942.5 1133.9,995 1157.3,1030.5 1180.7,1056.8 1204,1077.3 1227.4,1094.1 1250.8,1108.2 1274.2,1120.3 1297.6,1130.9 1321,1140.3 1344.3,1148.8 1367.7,1156.5 1391.1,1163.6 1414.5,1170.2 1437.9,1176.3 1461.3,1182.1 1484.6,1187.6 1508,1192.9 1531.4,1197.9 1554.8,1202.8 1578.2,1207.5 1601.6,1212.2 1624.9,1216.7 1648.3,1221.3 1671.7,1225.9 1695.1,1230.5 1718.5,1235.3 1741.9,1240.4 1765.2,1245.8 1788.6,1251.9 1812,1259.5 1835.4,1277"/><polyline points="1110.5,942.5 1133.9,1024.6 1157.3,1068.1 1180.7,1096.4 1204,1116.8 1227.4,1132.6 1250.8,1145.2 1274.2,1155.8 1297.6,1164.8 1321,1172.7 1344.3,1179.6 1367.7,1185.9 1391.1,1191.6 1414.5,1196.8 1437.9,1201.6 1461.3,1206.1 1484.6,1210.4 1508,1214.4 1531.4,1218.2 1554.8,1221.9 1578.2,1225.5 1601.6,1229 1624.9,1232.5 1648.3,1235.9 1671.7,1239.3 1695.1,1242.8 1718.5,1246.3 1741.9,1250.1 1765.2,1254.1 1788.6,1258.6 1812,1264.2 1835.4,1277"/><polyline points="1110.5,942.5 1133.9,1004.4 1157.3,1043.2 1180.7,1070.6 1204,1091.4 1227.4,1108 1250.8,1121.7 1274.2,1133.4 1297.6,1143.5 1321,1152.4 1344.3,1160.4 1367.7,1167.6 1391.1,1174.2 1414.5,1180.3 1437.9,1186 1461.3,1191.3 1484.6,1196.3 1508,1201.1 1531.4,1205.7 1554.8,1210.1 1578.2,1214.4 1601.6,1218.7 1624.9,1222.8 1648.3,1226.9 1671.7,1231.1 1695.1,1235.3 1718.5,1239.6 1741.9,1244.1 1765.2,1249 1788.6,1254.5 1812,1261.3 1835.4,1277"/><polyline points="1110.5,942.5 1133.9,1027.6 1157.3,1071.6 1180.7,1099.9 1204,1120.2 1227.4,1135.8 1250.8,1148.3 1274.2,1158.7 1297.6,1167.5 1321,1175.2 1344.3,1182.1 1367.7,1188.2 1391.1,1193.7 1414.5,1198.8 1437.9,1203.6 1461.3,1208 1484.6,1212.1 1508,1216 1531.4,1219.8 1554.8,1223.4 1578.2,1226.9 1601.6,1230.3 1624.9,1233.7 1648.3,1237 1671.7,1240.3 1695.1,1243.7 1718.5,1247.2 1741.9,1250.8 1765.2,1254.7 1788.6,1259.1 1812,1264.5 1835.4,1277"/><polyline points="1110.5,942.5 1133.9,1028.1 1157.3,1072.2 1180.7,1100.5 1204,1120.8 1227.4,1136.3 1250.8,1148.8 1274.2,1159.1 1297.6,1168 1321,1175.7 1344.3,1182.5 1367.7,1188.6 1391.1,1194.1 1414.5,1199.2 1437.9,1203.9 1461.3,1208.3 1484.6,1212.4 1508,1216.3 1531.4,1220 1554.8,1223.6 1578.2,1227.1 1601.6,1230.5 1624.9,1233.9 1648.3,1237.2 1671.7,1240.5 1695.1,1243.8 1718.5,1247.3 1741.9,1250.9 1765.2,1254.8 1788.6,1259.2 1812,1264.6 1835.4,1277"/><polyline points="1110.5,942.5 1133.9,1061.2 1157.3,1107.7 1180.7,1134.5 1204,1152.7 1227.4,1166.1 1250.8,1176.6 1274.2,1185.2 1297.6,1192.4 1321,1198.7 1344.3,1204.1 1367.7,1208.9 1391.1,1213.3 1414.5,1217.3 1437.9,1221 1461.3,1224.4 1484.6,1227.6 1508,1230.7 1531.4,1233.6 1554.8,1236.3 1578.2,1239 1601.6,1241.6 1624.9,1244.2 1648.3,1246.7 1671.7,1249.3 1695.1,1251.8 1718.5,1254.4 1741.9,1257.2 1765.2,1260.1 1788.6,1263.5 1812,1267.6 1835.4,1277"/><polyline points="1110.5,942.5 1133.9,1029.2 1157.3,1073.4 1180.7,1101.7 1204,1121.9 1227.4,1137.4 1250.8,1149.8 1274.2,1160.1 1297.6,1168.9 1321,1176.5 1344.3,1183.3 1367.7,1189.3 1391.1,1194.8 1414.5,1199.9 1437.9,1204.5 1461.3,1208.9 1484.6,1213 1508,1216.9 1531.4,1220.6 1554.8,1224.1 1578.2,1227.6 1601.6,1231 1624.9,1234.3 1648.3,1237.5 1671.7,1240.8 1695.1,1244.2 1718.5,1247.6 1741.9,1251.1 1765.2,1255 1788.6,1259.3 1812,1264.7 1835.4,1277"/><polyline points="1110.5,942.5 1133.9,1027.8 1157.3,1071.8 1180.7,1100.1 1204,1120.4 1227.4,1135.9 1250.8,1148.4 1274.2,1158.8 1297.6,1167.7 1321,1175.4 1344.3,1182.2 1367.7,1188.3 1391.1,1193.9 1414.5,1198.9 1437.9,1203.7 1461.3,1208.1 1484.6,1212.2 1508,1216.1 1531.4,1219.9 1554.8,1223.5 1578.2,1227 1601.6,1230.4 1624.9,1233.7 1648.3,1237.1 1671.7,1240.4 1695.1,1243.7 1718.5,1247.2 1741.9,1250.8 1765.2,1254.7 1788.6,1259.1 1812,1264.6 1835.4,1277"/><polyline points="1110.5,942.5 1133.9,1004.7 1157.3,1043.5 1180.7,1070.9 1204,1091.8 1227.4,1108.4 1250.8,1122.1 1274.2,1133.7 1297.6,1143.8 1321,1152.7 1344.3,1160.7 1367.7,1167.9 1391.1,1174.4 1414.5,1180.5 1437.9,1186.2 1461.3,1191.5 1484.6,1196.5 1508,1201.3 1531.4,1205.9 1554.8,1210.3 1578.2,1214.6 1601.6,1218.8 1624.9,1223 1648.3,1227.1 1671.7,1231.2 1695.1,1235.4 1718.5,1239.7 1741.9,1244.2 1765.2,1249.1 1788.6,1254.6 1812,1261.4 1835.4,1277"/><polyline points="1110.5,942.5 1133.9,1029.6 1157.3,1074 1180.7,1102.2 1204,1122.4 1227.4,1137.9 1250.8,1150.3 1274.2,1160.6 1297.6,1169.3 1321,1176.9 1344.3,1183.6 1367.7,1189.7 1391.1,1195.2 1414.5,1200.2 1437.9,1204.8 1461.3,1209.2 1484.6,1213.2 1508,1217.1 1531.4,1220.8 1554.8,1224.4 1578.2,1227.8 1601.6,1231.1 1624.9,1234.4 1648.3,1237.7 1671.7,1241 1695.1,1244.3 1718.5,1247.7 1741.9,1251.3 1765.2,1255.1 1788.6,1259.4 1812,1264.8 1835.4,1277"/><polyline points="1110.5,942.5 1133.9,1071.1 1157.3,1117.4 1180.7,1143.4 1204,1160.8 1227.4,1173.6 1250.8,1183.5 1274.2,1191.6 1297.6,1198.4 1321,1204.2 1344.3,1209.3 1367.7,1213.8 1391.1,1217.9 1414.5,1221.6 1437.9,1225.1 1461.3,1228.3 1484.6,1231.3 1508,1234.1 1531.4,1236.8 1554.8,1239.3 1578.2,1241.8 1601.6,1244.2 1624.9,1246.6 1648.3,1249 1671.7,1251.3 1695.1,1253.7 1718.5,1256.1 1741.9,1258.7 1765.2,1261.4 1788.6,1264.5 1812,1268.3 1835.4,1277"/><polyline points="1110.5,942.5 1133.9,1050.2 1157.3,1096.4 1180.7,1124 1204,1142.9 1227.4,1157.1 1250.8,1168.3 1274.2,1177.4 1297.6,1185.2 1321,1191.8 1344.3,1197.7 1367.7,1202.9 1391.1,1207.7 1414.5,1212 1437.9,1216 1461.3,1219.7 1484.6,1223.2 1508,1226.5 1531.4,1229.6 1554.8,1232.6 1578.2,1235.6 1601.6,1238.4 1624.9,1241.2 1648.3,1243.9 1671.7,1246.7 1695.1,1249.5 1718.5,1252.4 1741.9,1255.4 1765.2,1258.6 1788.6,1262.2 1812,1266.7 1835.4,1277"/><polyline points="1110.5,942.5 1133.9,988.7 1157.3,1021.7 1180.7,1046.9 1204,1067.1 1227.4,1083.8 1250.8,1098 1274.2,1110.4 1297.6,1121.3 1321,1131 1344.3,1139.8 1367.7,1147.9 1391.1,1155.4 1414.5,1162.3 1437.9,1168.8 1461.3,1174.9 1484.6,1180.8 1508,1186.4 1531.4,1191.7 1554.8,1196.9 1578.2,1202 1601.6,1207 1624.9,1211.9 1648.3,1216.8 1671.7,1221.7 1695.1,1226.7 1718.5,1231.9 1741.9,1237.3 1765.2,1243.2 1788.6,1249.8 1812,1258.1 1835.4,1277"/><polyline points="1110.5,942.5 1133.9,964.7 1157.3,984.1 1180.7,1001.3 1204,1016.8 1227.4,1030.9 1250.8,1043.8 1274.2,1055.8 1297.6,1066.8 1321,1077.2 1344.3,1087 1367.7,1096.2 1391.1,1105 1414.5,1113.5 1437.9,1121.6 1461.3,1129.4 1484.6,1136.9 1508,1144.3 1531.4,1151.5 1554.8,1158.6 1578.2,1165.6 1601.6,1172.6 1624.9,1179.5 1648.3,1186.5 1671.7,1193.7 1695.1,1201 1718.5,1208.6 1741.9,1216.7 1765.2,1225.5 1788.6,1235.5 1812,1248 1835.4,1277"/><polyline points="1110.5,942.5 1133.9,1023 1157.3,1066.2 1180.7,1094.5 1204,1115 1227.4,1130.8 1250.8,1143.6 1274.2,1154.2 1297.6,1163.3 1321,1171.3 1344.3,1178.3 1367.7,1184.6 1391.1,1190.4 1414.5,1195.7 1437.9,1200.5 1461.3,1205.1 1484.6,1209.4 1508,1213.5 1531.4,1217.4 1554.8,1221.2 1578.2,1224.8 1601.6,1228.3 1624.9,1231.8 1648.3,1235.3 1671.7,1238.8 1695.1,1242.3 1718.5,1245.9 1741.9,1249.7 1765.2,1253.7 1788.6,1258.3 1812,1264 1835.4,1277"/><polyline points="1110.5,942.5 1133.9,995.2 1157.3,1030.9 1180.7,1057.2 1204,1077.8 1227.4,1094.5 1250.8,1108.6 1274.2,1120.7 1297.6,1131.3 1321,1140.7 1344.3,1149.2 1367.7,1156.9 1391.1,1163.9 1414.5,1170.5 1437.9,1176.7 1461.3,1182.4 1484.6,1187.9 1508,1193.1 1531.4,1198.2 1554.8,1203 1578.2,1207.7 1601.6,1212.4 1624.9,1216.9 1648.3,1221.5 1671.7,1226 1695.1,1230.7 1718.5,1235.5 1741.9,1240.5 1765.2,1245.9 1788.6,1252 1812,1259.6 1835.4,1277"/><polyline points="1110.5,942.5 1133.9,1004.3 1157.3,1043 1180.7,1070.4 1204,1091.2 1227.4,1107.8 1250.8,1121.6 1274.2,1133.2 1297.6,1143.4 1321,1152.3 1344.3,1160.2 1367.7,1167.5 1391.1,1174.1 1414.5,1180.2 1437.9,1185.8 1461.3,1191.2 1484.6,1196.2 1508,1201 1531.4,1205.6 1554.8,1210.1 1578.2,1214.4 1601.6,1218.6 1624.9,1222.7 1648.3,1226.9 1671.7,1231 1695.1,1235.2 1718.5,1239.5 1741.9,1244.1 1765.2,1249 1788.6,1254.5 1812,1261.3 1835.4,1277"/><polyline points="1110.5,942.5 1133.9,1050.6 1157.3,1096.8 1180.7,1124.3 1204,1143.3 1227.4,1157.4 1250.8,1168.6 1274.2,1177.7 1297.6,1185.4 1321,1192.1 1344.3,1197.9 1367.7,1203.1 1391.1,1207.9 1414.5,1212.2 1437.9,1216.1 1461.3,1219.9 1484.6,1223.3 1508,1226.6 1531.4,1229.8 1554.8,1232.8 1578.2,1235.7 1601.6,1238.5 1624.9,1241.3 1648.3,1244 1671.7,1246.8 1695.1,1249.6 1718.5,1252.4 1741.9,1255.4 1765.2,1258.6 1788.6,1262.3 1812,1266.8 1835.4,1277"/><polyline points="1110.5,942.5 1133.9,1020.3 1157.3,1063 1180.7,1091.2 1204,1111.8 1227.4,1127.8 1250.8,1140.7 1274.2,1151.5 1297.6,1160.7 1321,1168.8 1344.3,1176 1367.7,1182.4 1391.1,1188.3 1414.5,1193.7 1437.9,1198.7 1461.3,1203.3 1484.6,1207.7 1508,1211.9 1531.4,1215.9 1554.8,1219.7 1578.2,1223.5 1601.6,1227.1 1624.9,1230.7 1648.3,1234.2 1671.7,1237.8 1695.1,1241.4 1718.5,1245.1 1741.9,1249 1765.2,1253.1 1788.6,1257.8 1812,1263.7 1835.4,1277"/><polyline points="1110.5,942.5 1133.9,1028.4 1157.3,1072.5 1180.7,1100.8 1204,1121 1227.4,1136.6 1250.8,1149 1274.2,1159.4 1297.6,1168.2 1321,1175.9 1344.3,1182.7 1367.7,1188.7 1391.1,1194.3 1414.5,1199.3 1437.9,1204 1461.3,1208.4 1484.6,1212.5 1508,1216.4 1531.4,1220.2 1554.8,1223.8 1578.2,1227.2 1601.6,1230.6 1624.9,1234 1648.3,1237.3 1671.7,1240.6 1695.1,1243.9 1718.5,1247.4 1741.9,1251 1765.2,1254.8 1788.6,1259.2 1812,1264.6 1835.4,1277"/><polyline points="1110.5,942.5 1133.9,1067.7 1157.3,1114.1 1180.7,1140.4 1204,1158.1 1227.4,1171.1 1250.8,1181.2 1274.2,1189.5 1297.6,1196.4 1321,1202.4 1344.3,1207.6 1367.7,1212.2 1391.1,1216.4 1414.5,1220.2 1437.9,1223.7 1461.3,1227 1484.6,1230.1 1508,1232.9 1531.4,1235.7 1554.8,1238.3 1578.2,1240.9 1601.6,1243.4 1624.9,1245.8 1648.3,1248.2 1671.7,1250.6 1695.1,1253.1 1718.5,1255.6 1741.9,1258.2 1765.2,1261 1788.6,1264.1 1812,1268.1 1835.4,1277"/><polyline points="1110.5,942.5 1133.9,975.5 1157.3,1001.8 1180.7,1023.6 1204,1042 1227.4,1058 1250.8,1072 1274.2,1084.6 1297.6,1095.9 1321,1106.2 1344.3,1115.7 1367.7,1124.5 1391.1,1132.7 1414.5,1140.5 1437.9,1147.8 1461.3,1154.8 1484.6,1161.5 1508,1168 1531.4,1174.2 1554.8,1180.3 1578.2,1186.3 1601.6,1192.2 1624.9,1198 1648.3,1203.9 1671.7,1209.8 1695.1,1215.8 1718.5,1222 1741.9,1228.6 1765.2,1235.7 1788.6,1243.8 1812,1253.9 1835.4,1277"/><polyline points="1110.5,942.5 1133.9,973.3 1157.3,998.3 1180.7,1019.3 1204,1037.2 1227.4,1052.9 1250.8,1066.8 1274.2,1079.3 1297.6,1090.6 1321,1101 1344.3,1110.6 1367.7,1119.5 1391.1,1127.9 1414.5,1135.8 1437.9,1143.3 1461.3,1150.5 1484.6,1157.3 1508,1164 1531.4,1170.4 1554.8,1176.7 1578.2,1182.8 1601.6,1188.9 1624.9,1194.9 1648.3,1201 1671.7,1207.1 1695.1,1213.3 1718.5,1219.8 1741.9,1226.6 1765.2,1234 1788.6,1242.4 1812,1252.9 1835.4,1277"/><polyline points="1110.5,942.5 1133.9,1026.2 1157.3,1070 1180.7,1098.3 1204,1118.7 1227.4,1134.3 1250.8,1146.9 1274.2,1157.4 1297.6,1166.3 1321,1174.1 1344.3,1181 1367.7,1187.1 1391.1,1192.7 1414.5,1197.9 1437.9,1202.7 1461.3,1207.1 1484.6,1211.3 1508,1215.3 1531.4,1219.1 1554.8,1222.7 1578.2,1226.3 1601.6,1229.7 1624.9,1233.1 1648.3,1236.5 1671.7,1239.9 1695.1,1243.3 1718.5,1246.8 1741.9,1250.5 1765.2,1254.4 1788.6,1258.9 1812,1264.4 1835.4,1277"/><polyline points="1110.5,942.5 1133.9,1026.8 1157.3,1070.7 1180.7,1099 1204,1119.3 1227.4,1134.9 1250.8,1147.5 1274.2,1157.9 1297.6,1166.8 1321,1174.5 1344.3,1181.4 1367.7,1187.6 1391.1,1193.1 1414.5,1198.3 1437.9,1203 1461.3,1207.5 1484.6,1211.6 1508,1215.6 1531.4,1219.4 1554.8,1223 1578.2,1226.5 1601.6,1230 1624.9,1233.3 1648.3,1236.7 1671.7,1240.1 1695.1,1243.4 1718.5,1246.9 1741.9,1250.6 1765.2,1254.5 1788.6,1258.9 1812,1264.4 1835.4,1277"/><polyline points="1110.5,942.5 1133.9,1000.8 1157.3,1038.5 1180.7,1065.5 1204,1086.3 1227.4,1103 1250.8,1116.9 1274.2,1128.7 1297.6,1139 1321,1148.1 1344.3,1156.3 1367.7,1163.7 1391.1,1170.4 1414.5,1176.7 1437.9,1182.5 1461.3,1188 1484.6,1193.2 1508,1198.2 1531.4,1203 1554.8,1207.5 1578.2,1212 1601.6,1216.4 1624.9,1220.7 1648.3,1224.9 1671.7,1229.2 1695.1,1233.6 1718.5,1238.1 1741.9,1242.8 1765.2,1247.9 1788.6,1253.6 1812,1260.7 1835.4,1277"/><polyline points="1110.5,942.5 1133.9,1057.8 1157.3,1104.2 1180.7,1131.3 1204,1149.7 1227.4,1163.3 1250.8,1174.1 1274.2,1182.8 1297.6,1190.2 1321,1196.6 1344.3,1202.2 1367.7,1207.1 1391.1,1211.6 1414.5,1215.7 1437.9,1219.5 1461.3,1223 1484.6,1226.3 1508,1229.4 1531.4,1232.4 1554.8,1235.2 1578.2,1238 1601.6,1240.6 1624.9,1243.3 1648.3,1245.9 1671.7,1248.5 1695.1,1251.1 1718.5,1253.8 1741.9,1256.6 1765.2,1259.7 1788.6,1263.1 1812,1267.3 1835.4,1277"/><polyline points="1110.5,942.5 1133.9,1021.6 1157.3,1064.6 1180.7,1092.8 1204,1113.4 1227.4,1129.3 1250.8,1142.1 1274.2,1152.8 1297.6,1162 1321,1170 1344.3,1177.1 1367.7,1183.5 1391.1,1189.3 1414.5,1194.6 1437.9,1199.6 1461.3,1204.2 1484.6,1208.6 1508,1212.7 1531.4,1216.6 1554.8,1220.4 1578.2,1224.1 1601.6,1227.7 1624.9,1231.2 1648.3,1234.8 1671.7,1238.3 1695.1,1241.8 1718.5,1245.5 1741.9,1249.3 1765.2,1253.4 1788.6,1258.1 1812,1263.8 1835.4,1277"/><polyline points="1110.5,942.5 1133.9,971.6 1157.3,995.6 1180.7,1015.9 1204,1033.5 1227.4,1049 1250.8,1062.7 1274.2,1075.2 1297.6,1086.5 1321,1096.9 1344.3,1106.6 1367.7,1115.6 1391.1,1124 1414.5,1132.1 1437.9,1139.7 1461.3,1146.9 1484.6,1153.9 1508,1160.7 1531.4,1167.3 1554.8,1173.7 1578.2,1180 1601.6,1186.2 1624.9,1192.4 1648.3,1198.6 1671.7,1204.9 1695.1,1211.3 1718.5,1218 1741.9,1225 1765.2,1232.7 1788.6,1241.3 1812,1252.1 1835.4,1277"/><polyline points="1110.5,942.5 1133.9,1020.4 1157.3,1063.2 1180.7,1091.4 1204,1112 1227.4,1128 1250.8,1140.9 1274.2,1151.7 1297.6,1160.9 1321,1169 1344.3,1176.1 1367.7,1182.6 1391.1,1188.4 1414.5,1193.8 1437.9,1198.8 1461.3,1203.4 1484.6,1207.8 1508,1212 1531.4,1216 1554.8,1219.8 1578.2,1223.6 1601.6,1227.2 1624.9,1230.8 1648.3,1234.3 1671.7,1237.8 1695.1,1241.4 1718.5,1245.1 1741.9,1249 1765.2,1253.2 1788.6,1257.9 1812,1263.7 1835.4,1277"/><polyline points="1110.5,942.5 1133.9,1015.2 1157.3,1056.9 1180.7,1085 1204,1105.7 1227.4,1121.9 1250.8,1135.1 1274.2,1146.2 1297.6,1155.7 1321,1164 1344.3,1171.4 1367.7,1178.1 1391.1,1184.2 1414.5,1189.8 1437.9,1195 1461.3,1199.9 1484.6,1204.4 1508,1208.8 1531.4,1213 1554.8,1217 1578.2,1220.9 1601.6,1224.7 1624.9,1228.4 1648.3,1232.1 1671.7,1235.9 1695.1,1239.6 1718.5,1243.5 1741.9,1247.6 1765.2,1251.9 1788.6,1256.9 1812,1263 1835.4,1277"/><polyline points="1110.5,942.5 1133.9,1025.8 1157.3,1069.5 1180.7,1097.8 1204,1118.1 1227.4,1133.8 1250.8,1146.4 1274.2,1156.9 1297.6,1165.9 1321,1173.7 1344.3,1180.6 1367.7,1186.8 1391.1,1192.4 1414.5,1197.6 1437.9,1202.4 1461.3,1206.8 1484.6,1211 1508,1215 1531.4,1218.8 1554.8,1222.5 1578.2,1226.1 1601.6,1229.5 1624.9,1232.9 1648.3,1236.3 1671.7,1239.7 1695.1,1243.1 1718.5,1246.7 1741.9,1250.3 1765.2,1254.3 1788.6,1258.8 1812,1264.3 1835.4,1277"/><polyline points="1110.5,942.5 1133.9,1041.7 1157.3,1087.4 1180.7,1115.4 1204,1134.9 1227.4,1149.6 1250.8,1161.3 1274.2,1170.9 1297.6,1179 1321,1186.1 1344.3,1192.3 1367.7,1197.8 1391.1,1202.9 1414.5,1207.5 1437.9,1211.7 1461.3,1215.7 1484.6,1219.4 1508,1222.9 1531.4,1226.2 1554.8,1229.5 1578.2,1232.6 1601.6,1235.6 1624.9,1238.6 1648.3,1241.6 1671.7,1244.5 1695.1,1247.5 1718.5,1250.6 1741.9,1253.8 1765.2,1257.3 1788.6,1261.1 1812,1266 1835.4,1277"/><polyline points="1110.5,942.5 1133.9,1024.3 1157.3,1067.8 1180.7,1096.1 1204,1116.5 1227.4,1132.2 1250.8,1144.9 1274.2,1155.5 1297.6,1164.6 1321,1172.4 1344.3,1179.4 1367.7,1185.7 1391.1,1191.3 1414.5,1196.6 1437.9,1201.4 1461.3,1205.9 1484.6,1210.2 1508,1214.2 1531.4,1218.1 1554.8,1221.8 1578.2,1225.4 1601.6,1228.9 1624.9,1232.4 1648.3,1235.8 1671.7,1239.2 1695.1,1242.7 1718.5,1246.3 1741.9,1250 1765.2,1254 1788.6,1258.5 1812,1264.2 1835.4,1277"/><polyline points="1110.5,942.5 1133.9,1042.7 1157.3,1088.5 1180.7,1116.4 1204,1135.8 1227.4,1150.5 1250.8,1162.1 1274.2,1171.7 1297.6,1179.8 1321,1186.8 1344.3,1192.9 1367.7,1198.5 1391.1,1203.4 1414.5,1208 1437.9,1212.2 1461.3,1216.1 1484.6,1219.8 1508,1223.3 1531.4,1226.7 1554.8,1229.9 1578.2,1232.9 1601.6,1236 1624.9,1238.9 1648.3,1241.9 1671.7,1244.8 1695.1,1247.8 1718.5,1250.8 1741.9,1254 1765.2,1257.4 1788.6,1261.3 1812,1266.1 1835.4,1277"/><polyline points="1110.5,942.5 1133.9,1029.7 1157.3,1074 1180.7,1102.3 1204,1122.5 1227.4,1137.9 1250.8,1150.3 1274.2,1160.6 1297.6,1169.4 1321,1177 1344.3,1183.7 1367.7,1189.7 1391.1,1195.2 1414.5,1200.2 1437.9,1204.8 1461.3,1209.2 1484.6,1213.3 1508,1217.1 1531.4,1220.8 1554.8,1224.4 1578.2,1227.8 1601.6,1231.2 1624.9,1234.5 1648.3,1237.7 1671.7,1241 1695.1,1244.3 1718.5,1247.7 1741.9,1251.3 1765.2,1255.1 1788.6,1259.4 1812,1264.8 1835.4,1277"/><polyline points="1110.5,942.5 1133.9,1014.7 1157.3,1056.2 1180.7,1084.2 1204,1105 1227.4,1121.2 1250.8,1134.4 1274.2,1145.6 1297.6,1155.1 1321,1163.5 1344.3,1170.9 1367.7,1177.6 1391.1,1183.7 1414.5,1189.3 1437.9,1194.6 1461.3,1199.4 1484.6,1204.1 1508,1208.4 1531.4,1212.6 1554.8,1216.7 1578.2,1220.6 1601.6,1224.4 1624.9,1228.2 1648.3,1231.9 1671.7,1235.6 1695.1,1239.4 1718.5,1243.3 1741.9,1247.4 1765.2,1251.8 1788.6,1256.8 1812,1262.9 1835.4,1277"/><polyline points="1110.5,942.5 1133.9,1021.7 1157.3,1064.7 1180.7,1092.9 1204,1113.5 1227.4,1129.3 1250.8,1142.2 1274.2,1152.9 1297.6,1162.1 1321,1170.1 1344.3,1177.2 1367.7,1183.6 1391.1,1189.4 1414.5,1194.7 1437.9,1199.6 1461.3,1204.3 1484.6,1208.6 1508,1212.7 1531.4,1216.7 1554.8,1220.5 1578.2,1224.2 1601.6,1227.7 1624.9,1231.3 1648.3,1234.8 1671.7,1238.3 1695.1,1241.8 1718.5,1245.5 1741.9,1249.3 1765.2,1253.4 1788.6,1258.1 1812,1263.8 1835.4,1277"/><polyline points="1110.5,942.5 1133.9,976.8 1157.3,1003.8 1180.7,1026 1204,1044.6 1227.4,1060.7 1250.8,1074.8 1274.2,1087.4 1297.6,1098.7 1321,1108.9 1344.3,1118.4 1367.7,1127.1 1391.1,1135.3 1414.5,1143 1437.9,1150.2 1461.3,1157.1 1484.6,1163.7 1508,1170.1 1531.4,1176.2 1554.8,1182.2 1578.2,1188.1 1601.6,1193.9 1624.9,1199.6 1648.3,1205.4 1671.7,1211.2 1695.1,1217.1 1718.5,1223.2 1741.9,1229.6 1765.2,1236.6 1788.6,1244.5 1812,1254.4 1835.4,1277"/><polyline points="1110.5,942.5 1133.9,988.3 1157.3,1021.1 1180.7,1046.3 1204,1066.4 1227.4,1083.1 1250.8,1097.4 1274.2,1109.7 1297.6,1120.6 1321,1130.4 1344.3,1139.2 1367.7,1147.3 1391.1,1154.8 1414.5,1161.8 1437.9,1168.3 1461.3,1174.5 1484.6,1180.3 1508,1185.9 1531.4,1191.3 1554.8,1196.5 1578.2,1201.6 1601.6,1206.6 1624.9,1211.6 1648.3,1216.5 1671.7,1221.4 1695.1,1226.5 1718.5,1231.7 1741.9,1237.1 1765.2,1243 1788.6,1249.7 1812,1258 1835.4,1277"/><polyline points="1110.5,942.5 1133.9,991.9 1157.3,1026.2 1180.7,1052 1204,1072.5 1227.4,1089.2 1250.8,1103.4 1274.2,1115.6 1297.6,1126.4 1321,1135.9 1344.3,1144.6 1367.7,1152.5 1391.1,1159.7 1414.5,1166.5 1437.9,1172.8 1461.3,1178.8 1484.6,1184.4 1508,1189.8 1531.4,1195 1554.8,1200 1578.2,1204.9 1601.6,1209.7 1624.9,1214.5 1648.3,1219.2 1671.7,1223.9 1695.1,1228.8 1718.5,1233.7 1741.9,1239 1765.2,1244.6 1788.6,1250.9 1812,1258.9 1835.4,1277"/><polyline points="1110.5,942.5 1133.9,981.7 1157.3,1011.3 1180.7,1034.9 1204,1054.4 1227.4,1070.8 1250.8,1085.1 1274.2,1097.6 1297.6,1108.7 1321,1118.8 1344.3,1128 1367.7,1136.5 1391.1,1144.4 1414.5,1151.7 1437.9,1158.7 1461.3,1165.2 1484.6,1171.5 1508,1177.5 1531.4,1183.3 1554.8,1189 1578.2,1194.5 1601.6,1199.9 1624.9,1205.3 1648.3,1210.6 1671.7,1216 1695.1,1221.5 1718.5,1227.2 1741.9,1233.2 1765.2,1239.7 1788.6,1247 1812,1256.1 1835.4,1277"/><polyline points="1110.5,942.5 1133.9,963.6 1157.3,982.2 1180.7,998.9 1204,1014 1227.4,1027.8 1250.8,1040.5 1274.2,1052.3 1297.6,1063.3 1321,1073.7 1344.3,1083.4 1367.7,1092.7 1391.1,1101.5 1414.5,1110 1437.9,1118.2 1461.3,1126 1484.6,1133.7 1508,1141.2 1531.4,1148.5 1554.8,1155.7 1578.2,1162.8 1601.6,1169.9 1624.9,1177 1648.3,1184.2 1671.7,1191.5 1695.1,1199 1718.5,1206.8 1741.9,1215 1765.2,1224.1 1788.6,1234.3 1812,1247.2 1835.4,1277"/><polyline points="1110.5,942.5 1133.9,1025.5 1157.3,1069.2 1180.7,1097.5 1204,1117.8 1227.4,1133.5 1250.8,1146.2 1274.2,1156.7 1297.6,1165.6 1321,1173.5 1344.3,1180.4 1367.7,1186.6 1391.1,1192.2 1414.5,1197.4 1437.9,1202.2 1461.3,1206.7 1484.6,1210.9 1508,1214.9 1531.4,1218.7 1554.8,1222.4 1578.2,1226 1601.6,1229.4 1624.9,1232.8 1648.3,1236.2 1671.7,1239.6 1695.1,1243.1 1718.5,1246.6 1741.9,1250.3 1765.2,1254.3 1788.6,1258.7 1812,1264.3 1835.4,1277"/><polyline points="1110.5,942.5 1133.9,997.8 1157.3,1034.4 1180.7,1061 1204,1081.7 1227.4,1098.5 1250.8,1112.5 1274.2,1124.5 1297.6,1134.9 1321,1144.2 1344.3,1152.5 1367.7,1160.1 1391.1,1167 1414.5,1173.4 1437.9,1179.4 1461.3,1185.1 1484.6,1190.4 1508,1195.5 1531.4,1200.4 1554.8,1205.1 1578.2,1209.7 1601.6,1214.3 1624.9,1218.7 1648.3,1223.1 1671.7,1227.6 1695.1,1232.1 1718.5,1236.7 1741.9,1241.6 1765.2,1246.8 1788.6,1252.8 1812,1260.1 1835.4,1277"/><polyline points="1110.5,942.5 1133.9,1061.2 1157.3,1107.6 1180.7,1134.5 1204,1152.6 1227.4,1166 1250.8,1176.6 1274.2,1185.2 1297.6,1192.4 1321,1198.6 1344.3,1204.1 1367.7,1208.9 1391.1,1213.3 1414.5,1217.3 1437.9,1221 1461.3,1224.4 1484.6,1227.6 1508,1230.6 1531.4,1233.5 1554.8,1236.3 1578.2,1239 1601.6,1241.6 1624.9,1244.2 1648.3,1246.7 1671.7,1249.2 1695.1,1251.8 1718.5,1254.4 1741.9,1257.2 1765.2,1260.1 1788.6,1263.5 1812,1267.6 1835.4,1277"/><polyline points="1110.5,942.5 1133.9,978.2 1157.3,1006.1 1180.7,1028.7 1204,1047.6 1227.4,1063.8 1250.8,1078 1274.2,1090.5 1297.6,1101.8 1321,1112 1344.3,1121.4 1367.7,1130.1 1391.1,1138.1 1414.5,1145.7 1437.9,1152.9 1461.3,1159.7 1484.6,1166.2 1508,1172.4 1531.4,1178.5 1554.8,1184.4 1578.2,1190.1 1601.6,1195.8 1624.9,1201.4 1648.3,1207 1671.7,1212.7 1695.1,1218.5 1718.5,1224.5 1741.9,1230.8 1765.2,1237.6 1788.6,1245.3 1812,1254.9 1835.4,1277"/><polyline points="1110.5,942.5 1133.9,1027.1 1157.3,1071.1 1180.7,1099.4 1204,1119.7 1227.4,1135.3 1250.8,1147.8 1274.2,1158.2 1297.6,1167.1 1321,1174.8 1344.3,1181.7 1367.7,1187.8 1391.1,1193.4 1414.5,1198.5 1437.9,1203.2 1461.3,1207.7 1484.6,1211.8 1508,1215.8 1531.4,1219.6 1554.8,1223.2 1578.2,1226.7 1601.6,1230.1 1624.9,1233.5 1648.3,1236.8 1671.7,1240.2 1695.1,1243.6 1718.5,1247 1741.9,1250.7 1765.2,1254.6 1788.6,1259 1812,1264.5 1835.4,1277"/><polyline points="1110.5,942.5 1133.9,1033.6 1157.3,1078.4 1180.7,1106.6 1204,1126.6 1227.4,1141.8 1250.8,1154 1274.2,1164 1297.6,1172.6 1321,1180 1344.3,1186.6 1367.7,1192.4 1391.1,1197.8 1414.5,1202.6 1437.9,1207.2 1461.3,1211.4 1484.6,1215.3 1508,1219.1 1531.4,1222.7 1554.8,1226.1 1578.2,1229.4 1601.6,1232.7 1624.9,1235.9 1648.3,1239 1671.7,1242.2 1695.1,1245.4 1718.5,1248.7 1741.9,1252.1 1765.2,1255.8 1788.6,1260 1812,1265.2 1835.4,1277"/><polyline points="1110.5,942.5 1133.9,1025.1 1157.3,1068.7 1180.7,1097 1204,1117.3 1227.4,1133.1 1250.8,1145.7 1274.2,1156.2 1297.6,1165.2 1321,1173.1 1344.3,1180 1367.7,1186.2 1391.1,1191.9 1414.5,1197.1 1437.9,1201.9 1461.3,1206.4 1484.6,1210.6 1508,1214.7 1531.4,1218.5 1554.8,1222.2 1578.2,1225.8 1601.6,1229.2 1624.9,1232.7 1648.3,1236.1 1671.7,1239.5 1695.1,1242.9 1718.5,1246.5 1741.9,1250.2 1765.2,1254.2 1788.6,1258.7 1812,1264.2 1835.4,1277"/><polyline points="1110.5,942.5 1133.9,1030.2 1157.3,1074.7 1180.7,1102.9 1204,1123.1 1227.4,1138.5 1250.8,1150.8 1274.2,1161.1 1297.6,1169.8 1321,1177.4 1344.3,1184.1 1367.7,1190.1 1391.1,1195.6 1414.5,1200.6 1437.9,1205.2 1461.3,1209.5 1484.6,1213.6 1508,1217.4 1531.4,1221.1 1554.8,1224.6 1578.2,1228 1601.6,1231.4 1624.9,1234.7 1648.3,1237.9 1671.7,1241.2 1695.1,1244.5 1718.5,1247.8 1741.9,1251.4 1765.2,1255.2 1788.6,1259.5 1812,1264.8 1835.4,1277"/><polyline points="1110.5,942.5 1133.9,995.9 1157.3,1031.8 1180.7,1058.2 1204,1078.8 1227.4,1095.6 1250.8,1109.7 1274.2,1121.7 1297.6,1132.3 1321,1141.6 1344.3,1150.1 1367.7,1157.7 1391.1,1164.8 1414.5,1171.3 1437.9,1177.4 1461.3,1183.2 1484.6,1188.6 1508,1193.8 1531.4,1198.8 1554.8,1203.6 1578.2,1208.3 1601.6,1212.9 1624.9,1217.4 1648.3,1221.9 1671.7,1226.5 1695.1,1231.1 1718.5,1235.8 1741.9,1240.8 1765.2,1246.1 1788.6,1252.2 1812,1259.7 1835.4,1277"/><polyline points="1110.5,942.5 1133.9,1014.6 1157.3,1056.1 1180.7,1084.1 1204,1104.9 1227.4,1121.1 1250.8,1134.3 1274.2,1145.4 1297.6,1155 1321,1163.4 1344.3,1170.8 1367.7,1177.5 1391.1,1183.6 1414.5,1189.3 1437.9,1194.5 1461.3,1199.4 1484.6,1204 1508,1208.4 1531.4,1212.6 1554.8,1216.6 1578.2,1220.5 1601.6,1224.3 1624.9,1228.1 1648.3,1231.8 1671.7,1235.6 1695.1,1239.4 1718.5,1243.3 1741.9,1247.4 1765.2,1251.8 1788.6,1256.7 1812,1262.9 1835.4,1277"/><polyline points="1110.5,942.5 1133.9,966.8 1157.3,987.7 1180.7,1006 1204,1022.2 1227.4,1036.8 1250.8,1050.1 1274.2,1062.2 1297.6,1073.4 1321,1083.9 1344.3,1093.6 1367.7,1102.8 1391.1,1111.5 1414.5,1119.8 1437.9,1127.8 1461.3,1135.4 1484.6,1142.8 1508,1150 1531.4,1157 1554.8,1163.8 1578.2,1170.6 1601.6,1177.3 1624.9,1184 1648.3,1190.8 1671.7,1197.6 1695.1,1204.6 1718.5,1211.9 1741.9,1219.6 1765.2,1228 1788.6,1237.5 1812,1249.5 1835.4,1277"/><polyline points="1110.5,942.5 1133.9,1018.3 1157.3,1060.7 1180.7,1088.9 1204,1109.5 1227.4,1125.6 1250.8,1138.6 1274.2,1149.5 1297.6,1158.9 1321,1167 1344.3,1174.3 1367.7,1180.8 1391.1,1186.8 1414.5,1192.2 1437.9,1197.3 1461.3,1202 1484.6,1206.5 1508,1210.8 1531.4,1214.8 1554.8,1218.7 1578.2,1222.5 1601.6,1226.2 1624.9,1229.8 1648.3,1233.5 1671.7,1237.1 1695.1,1240.7 1718.5,1244.5 1741.9,1248.4 1765.2,1252.7 1788.6,1257.5 1812,1263.4 1835.4,1277"/><polyline points="1110.5,942.5 1133.9,1020 1157.3,1062.7 1180.7,1090.9 1204,1111.5 1227.4,1127.5 1250.8,1140.4 1274.2,1151.2 1297.6,1160.5 1321,1168.6 1344.3,1175.8 1367.7,1182.2 1391.1,1188.1 1414.5,1193.5 1437.9,1198.5 1461.3,1203.2 1484.6,1207.6 1508,1211.8 1531.4,1215.8 1554.8,1219.6 1578.2,1223.3 1601.6,1227 1624.9,1230.6 1648.3,1234.1 1671.7,1237.7 1695.1,1241.3 1718.5,1245 1741.9,1248.9 1765.2,1253.1 1788.6,1257.8 1812,1263.6 1835.4,1277"/><polyline points="1110.5,942.5 1133.9,1002.3 1157.3,1040.4 1180.7,1067.6 1204,1088.4 1227.4,1105.1 1250.8,1118.9 1274.2,1130.7 1297.6,1140.9 1321,1149.9 1344.3,1158 1367.7,1165.3 1391.1,1172 1414.5,1178.2 1437.9,1184 1461.3,1189.4 1484.6,1194.5 1508,1199.4 1531.4,1204.1 1554.8,1208.6 1578.2,1213 1601.6,1217.3 1624.9,1221.6 1648.3,1225.8 1671.7,1230 1695.1,1234.3 1718.5,1238.7 1741.9,1243.4 1765.2,1248.3 1788.6,1254 1812,1261 1835.4,1277"/><polyline points="1110.5,942.5 1133.9,964.1 1157.3,983.1 1180.7,1000.1 1204,1015.4 1227.4,1029.3 1250.8,1042.1 1274.2,1054 1297.6,1065 1321,1075.4 1344.3,1085.1 1367.7,1094.4 1391.1,1103.2 1414.5,1111.7 1437.9,1119.8 1461.3,1127.6 1484.6,1135.3 1508,1142.7 1531.4,1149.9 1554.8,1157.1 1578.2,1164.2 1601.6,1171.2 1624.9,1178.2 1648.3,1185.3 1671.7,1192.5 1695.1,1199.9 1718.5,1207.7 1741.9,1215.8 1765.2,1224.7 1788.6,1234.9 1812,1247.6 1835.4,1277"/><polyline points="1110.5,942.5 1133.9,1011.6 1157.3,1052.4 1180.7,1080.3 1204,1101.1 1227.4,1117.5 1250.8,1130.9 1274.2,1142.2 1297.6,1151.9 1321,1160.4 1344.3,1168 1367.7,1174.8 1391.1,1181.1 1414.5,1186.8 1437.9,1192.2 1461.3,1197.2 1484.6,1201.9 1508,1206.4 1531.4,1210.7 1554.8,1214.9 1578.2,1218.9 1601.6,1222.8 1624.9,1226.7 1648.3,1230.5 1671.7,1234.4 1695.1,1238.3 1718.5,1242.3 1741.9,1246.5 1765.2,1251 1788.6,1256.1 1812,1262.5 1835.4,1277"/><polyline points="1110.5,942.5 1133.9,1054.9 1157.3,1101.3 1180.7,1128.5 1204,1147.2 1227.4,1161 1250.8,1171.9 1274.2,1180.8 1297.6,1188.3 1321,1194.8 1344.3,1200.5 1367.7,1205.6 1391.1,1210.1 1414.5,1214.3 1437.9,1218.2 1461.3,1221.8 1484.6,1225.1 1508,1228.3 1531.4,1231.3 1554.8,1234.3 1578.2,1237.1 1601.6,1239.8 1624.9,1242.5 1648.3,1245.2 1671.7,1247.8 1695.1,1250.5 1718.5,1253.3 1741.9,1256.2 1765.2,1259.3 1788.6,1262.8 1812,1267.1 1835.4,1277"/><polyline points="1110.5,942.5 1133.9,1027.6 1157.3,1071.7 1180.7,1100 1204,1120.2 1227.4,1135.8 1250.8,1148.3 1274.2,1158.7 1297.6,1167.6 1321,1175.3 1344.3,1182.1 1367.7,1188.2 1391.1,1193.8 1414.5,1198.9 1437.9,1203.6 1461.3,1208 1484.6,1212.1 1508,1216.1 1531.4,1219.8 1554.8,1223.4 1578.2,1226.9 1601.6,1230.3 1624.9,1233.7 1648.3,1237 1671.7,1240.3 1695.1,1243.7 1718.5,1247.2 1741.9,1250.8 1765.2,1254.7 1788.6,1259.1 1812,1264.5 1835.4,1277"/><polyline points="1110.5,942.5 1133.9,1047.7 1157.3,1093.8 1180.7,1121.4 1204,1140.5 1227.4,1154.9 1250.8,1166.2 1274.2,1175.5 1297.6,1183.4 1321,1190.1 1344.3,1196.1 1367.7,1201.4 1391.1,1206.3 1414.5,1210.7 1437.9,1214.7 1461.3,1218.5 1484.6,1222.1 1508,1225.4 1531.4,1228.6 1554.8,1231.7 1578.2,1234.7 1601.6,1237.6 1624.9,1240.4 1648.3,1243.2 1671.7,1246.1 1695.1,1248.9 1718.5,1251.8 1741.9,1254.9 1765.2,1258.2 1788.6,1261.9 1812,1266.5 1835.4,1277"/><polyline points="1110.5,942.5 1133.9,1032 1157.3,1076.7 1180.7,1104.9 1204,1125 1227.4,1140.3 1250.8,1152.6 1274.2,1162.7 1297.6,1171.3 1321,1178.8 1344.3,1185.5 1367.7,1191.4 1391.1,1196.8 1414.5,1201.7 1437.9,1206.3 1461.3,1210.5 1484.6,1214.5 1508,1218.3 1531.4,1221.9 1554.8,1225.4 1578.2,1228.8 1601.6,1232.1 1624.9,1235.3 1648.3,1238.5 1671.7,1241.7 1695.1,1245 1718.5,1248.3 1741.9,1251.8 1765.2,1255.5 1788.6,1259.8 1812,1265 1835.4,1277"/><polyline points="1110.5,942.5 1133.9,1070.2 1157.3,1116.5 1180.7,1142.6 1204,1160.1 1227.4,1172.9 1250.8,1182.9 1274.2,1191 1297.6,1197.9 1321,1203.7 1344.3,1208.9 1367.7,1213.4 1391.1,1217.5 1414.5,1221.3 1437.9,1224.7 1461.3,1227.9 1484.6,1230.9 1508,1233.8 1531.4,1236.5 1554.8,1239.1 1578.2,1241.6 1601.6,1244 1624.9,1246.4 1648.3,1248.8 1671.7,1251.1 1695.1,1253.5 1718.5,1256 1741.9,1258.5 1765.2,1261.3 1788.6,1264.4 1812,1268.2 1835.4,1277"/><polyline points="1110.5,942.5 1133.9,988.1 1157.3,1020.8 1180.7,1045.8 1204,1066 1227.4,1082.7 1250.8,1096.9 1274.2,1109.3 1297.6,1120.2 1321,1130 1344.3,1138.8 1367.7,1147 1391.1,1154.4 1414.5,1161.4 1437.9,1167.9 1461.3,1174.1 1484.6,1180 1508,1185.6 1531.4,1191 1554.8,1196.3 1578.2,1201.4 1601.6,1206.4 1624.9,1211.3 1648.3,1216.3 1671.7,1221.3 1695.1,1226.3 1718.5,1231.5 1741.9,1237 1765.2,1242.9 1788.6,1249.6 1812,1257.9 1835.4,1277"/><polyline points="1110.5,942.5 1133.9,978.5 1157.3,1006.5 1180.7,1029.2 1204,1048.2 1227.4,1064.4 1250.8,1078.6 1274.2,1091.1 1297.6,1102.4 1321,1112.6 1344.3,1122 1367.7,1130.6 1391.1,1138.7 1414.5,1146.2 1437.9,1153.4 1461.3,1160.2 1484.6,1166.6 1508,1172.9 1531.4,1178.9 1554.8,1184.8 1578.2,1190.5 1601.6,1196.2 1624.9,1201.8 1648.3,1207.4 1671.7,1213 1695.1,1218.8 1718.5,1224.7 1741.9,1231 1765.2,1237.8 1788.6,1245.4 1812,1255 1835.4,1277"/><polyline points="1110.5,942.5 1133.9,1027.7 1157.3,1071.8 1180.7,1100 1204,1120.3 1227.4,1135.9 1250.8,1148.4 1274.2,1158.8 1297.6,1167.6 1321,1175.3 1344.3,1182.1 1367.7,1188.3 1391.1,1193.8 1414.5,1198.9 1437.9,1203.6 1461.3,1208 1484.6,1212.2 1508,1216.1 1531.4,1219.8 1554.8,1223.5 1578.2,1226.9 1601.6,1230.4 1624.9,1233.7 1648.3,1237 1671.7,1240.4 1695.1,1243.7 1718.5,1247.2 1741.9,1250.8 1765.2,1254.7 1788.6,1259.1 1812,1264.5 1835.4,1277"/><polyline points="1110.5,942.5 1133.9,1051.7 1157.3,1097.9 1180.7,1125.4 1204,1144.2 1227.4,1158.3 1250.8,1169.4 1274.2,1178.5 1297.6,1186.2 1321,1192.8 1344.3,1198.6 1367.7,1203.8 1391.1,1208.4 1414.5,1212.7 1437.9,1216.7 1461.3,1220.3 1484.6,1223.8 1508,1227 1531.4,1230.2 1554.8,1233.1 1578.2,1236 1601.6,1238.8 1624.9,1241.6 1648.3,1244.3 1671.7,1247.1 1695.1,1249.8 1718.5,1252.7 1741.9,1255.6 1765.2,1258.8 1788.6,1262.4 1812,1266.8 1835.4,1277"/><polyline points="1110.5,942.5 1133.9,984.7 1157.3,1015.9 1180.7,1040.2 1204,1060 1227.4,1076.6 1250.8,1090.9 1274.2,1103.3 1297.6,1114.4 1321,1124.3 1344.3,1133.4 1367.7,1141.7 1391.1,1149.4 1414.5,1156.5 1437.9,1163.3 1461.3,1169.7 1484.6,1175.7 1508,1181.6 1531.4,1187.2 1554.8,1192.6 1578.2,1197.9 1601.6,1203.1 1624.9,1208.3 1648.3,1213.5 1671.7,1218.6 1695.1,1223.9 1718.5,1229.4 1741.9,1235.1 1765.2,1241.3 1788.6,1248.3 1812,1257 1835.4,1277"/><polyline points="1110.5,942.5 1133.9,1038.3 1157.3,1083.6 1180.7,1111.7 1204,1131.4 1227.4,1146.4 1250.8,1158.3 1274.2,1168.1 1297.6,1176.4 1321,1183.6 1344.3,1189.9 1367.7,1195.6 1391.1,1200.8 1414.5,1205.5 1437.9,1209.8 1461.3,1213.9 1484.6,1217.7 1508,1221.3 1531.4,1224.8 1554.8,1228.1 1578.2,1231.3 1601.6,1234.4 1624.9,1237.5 1648.3,1240.5 1671.7,1243.6 1695.1,1246.6 1718.5,1249.8 1741.9,1253.1 1765.2,1256.7 1788.6,1260.7 1812,1265.6 1835.4,1277"/><polyline points="1110.5,942.5 1133.9,988.2 1157.3,1020.9 1180.7,1046 1204,1066.1 1227.4,1082.9 1250.8,1097.1 1274.2,1109.5 1297.6,1120.4 1321,1130.1 1344.3,1139 1367.7,1147.1 1391.1,1154.6 1414.5,1161.5 1437.9,1168.1 1461.3,1174.2 1484.6,1180.1 1508,1185.7 1531.4,1191.1 1554.8,1196.4 1578.2,1201.5 1601.6,1206.5 1624.9,1211.4 1648.3,1216.4 1671.7,1221.3 1695.1,1226.4 1718.5,1231.6 1741.9,1237 1765.2,1243 1788.6,1249.6 1812,1257.9 1835.4,1277"/><polyline points="1110.5,942.5 1133.9,1024.6 1157.3,1068.1 1180.7,1096.4 1204,1116.8 1227.4,1132.6 1250.8,1145.3 1274.2,1155.8 1297.6,1164.8 1321,1172.7 1344.3,1179.6 1367.7,1185.9 1391.1,1191.6 1414.5,1196.8 1437.9,1201.6 1461.3,1206.1 1484.6,1210.4 1508,1214.4 1531.4,1218.3 1554.8,1222 1578.2,1225.5 1601.6,1229 1624.9,1232.5 1648.3,1235.9 1671.7,1239.3 1695.1,1242.8 1718.5,1246.3 1741.9,1250.1 1765.2,1254.1 1788.6,1258.6 1812,1264.2 1835.4,1277"/><polyline points="1110.5,942.5 1133.9,1025.3 1157.3,1068.9 1180.7,1097.2 1204,1117.6 1227.4,1133.3 1250.8,1146 1274.2,1156.5 1297.6,1165.5 1321,1173.3 1344.3,1180.2 1367.7,1186.4 1391.1,1192.1 1414.5,1197.3 1437.9,1202.1 1461.3,1206.6 1484.6,1210.8 1508,1214.8 1531.4,1218.6 1554.8,1222.3 1578.2,1225.9 1601.6,1229.3 1624.9,1232.8 1648.3,1236.2 1671.7,1239.6 1695.1,1243 1718.5,1246.5 1741.9,1250.2 1765.2,1254.2 1788.6,1258.7 1812,1264.3 1835.4,1277"/><polyline points="1110.5,942.5 1133.9,1046.3 1157.3,1092.3 1180.7,1120.1 1204,1139.3 1227.4,1153.7 1250.8,1165.1 1274.2,1174.5 1297.6,1182.4 1321,1189.3 1344.3,1195.3 1367.7,1200.6 1391.1,1205.5 1414.5,1210 1437.9,1214.1 1461.3,1217.9 1484.6,1221.5 1508,1224.9 1531.4,1228.1 1554.8,1231.2 1578.2,1234.2 1601.6,1237.2 1624.9,1240 1648.3,1242.9 1671.7,1245.7 1695.1,1248.6 1718.5,1251.6 1741.9,1254.7 1765.2,1258 1788.6,1261.7 1812,1266.4 1835.4,1277"/><polyline points="1110.5,942.5 1133.9,1023 1157.3,1066.2 1180.7,1094.5 1204,1115 1227.4,1130.8 1250.8,1143.6 1274.2,1154.2 1297.6,1163.3 1321,1171.3 1344.3,1178.3 1367.7,1184.6 1391.1,1190.4 1414.5,1195.6 1437.9,1200.5 1461.3,1205.1 1484.6,1209.4 1508,1213.5 1531.4,1217.4 1554.8,1221.1 1578.2,1224.8 1601.6,1228.3 1624.9,1231.8 1648.3,1235.3 1671.7,1238.8 1695.1,1242.3 1718.5,1245.9 1741.9,1249.7 1765.2,1253.7 1788.6,1258.3 1812,1264 1835.4,1277"/><polyline points="1110.5,942.5 1133.9,1017 1157.3,1059 1180.7,1087.1 1204,1107.8 1227.4,1123.9 1250.8,1137.1 1274.2,1148 1297.6,1157.5 1321,1165.7 1344.3,1173 1367.7,1179.6 1391.1,1185.6 1414.5,1191.2 1437.9,1196.3 1461.3,1201.1 1484.6,1205.6 1508,1209.9 1531.4,1214 1554.8,1218 1578.2,1221.8 1601.6,1225.5 1624.9,1229.2 1648.3,1232.9 1671.7,1236.5 1695.1,1240.2 1718.5,1244.1 1741.9,1248.1 1765.2,1252.4 1788.6,1257.2 1812,1263.2 1835.4,1277"/></g><polyline points="1133.9,942.5 1157.3,1023.8 1180.7,1067.3 1204,1093.4 1227.4,1114.1 1250.8,1130.8 1274.2,1146.5 1297.6,1156.9 1321,1163.3 1344.3,1168.6 1367.7,1173.6 1391.1,1178.3 1414.5,1184.7 1437.9,1193.4 1461.3,1201.1 1484.6,1206.8 1508,1207.8 1531.4,1209.4 1554.8,1214.4 1578.2,1218.8 1601.6,1227.8 1624.9,1233.2 1648.3,1236.5 1671.7,1239.9 1695.1,1243.2 1718.5,1247.6 1741.9,1254.3 1765.2,1258.3 1788.6,1260.9 1812,1264.3 1835.4,1277" fill="none" stroke="#008000" stroke-width="4.2" stroke-linejoin="round" stroke-linecap="butt"/><polyline points="1110.5,942.5 1133.9,1011.1 1157.3,1047.9 1180.7,1078 1204,1094.8 1227.4,1111.3 1250.8,1125 1274.2,1136.5 1297.6,1146.5 1321,1155.2 1344.3,1163.1 1367.7,1170.1 1391.1,1176.6 1414.5,1182.6 1437.9,1188.2 1461.3,1193.4 1484.6,1198.3 1508,1203 1531.4,1207.5 1554.8,1211.8 1578.2,1216 1601.6,1220.1 1624.9,1224.2 1648.3,1228.2 1671.7,1232.2 1695.1,1236.3 1718.5,1240.5 1741.9,1245 1765.2,1249.7 1788.6,1255.1 1812,1261.7 1835.4,1277" fill="none" stroke="#800080" stroke-width="4.2" stroke-linejoin="round" stroke-linecap="butt"/><polyline points="1133.9,942.5 1157.3,1044.4 1180.7,1090.4 1204,1118.3 1227.4,1137.7 1250.8,1152.3 1274.2,1163.9 1297.6,1173.4 1321,1181.5 1344.3,1188.5 1367.7,1194.7 1391.1,1200.2 1414.5,1205.1 1437.9,1209.7 1461.3,1213.9 1484.6,1217.9 1508,1221.6 1531.4,1225.1 1554.8,1228.5 1578.2,1231.7 1601.6,1234.9 1624.9,1237.9 1648.3,1241 1671.7,1244 1695.1,1247.1 1718.5,1250.2 1741.9,1253.5 1765.2,1257 1788.6,1261 1812,1265.8 1835.4,1277" fill="none" stroke="#0000ff" stroke-width="4.2" stroke-linejoin="round" stroke-linecap="butt"/></g><rect x="105.10" y="71.30" width="771.60" height="501.00" fill="none" stroke="#000" stroke-width="1.6"/><g stroke="#000" stroke-width="1.5"><line x1="116.70" y1="572.30" x2="116.70" y2="579.90"/><line x1="261.76" y1="572.30" x2="261.76" y2="579.90"/><line x1="406.82" y1="572.30" x2="406.82" y2="579.90"/><line x1="551.88" y1="572.30" x2="551.88" y2="579.90"/><line x1="696.94" y1="572.30" x2="696.94" y2="579.90"/><line x1="842.00" y1="572.30" x2="842.00" y2="579.90"/><line x1="97.50" y1="572.30" x2="105.10" y2="572.30"/><line x1="97.50" y1="505.40" x2="105.10" y2="505.40"/><line x1="97.50" y1="438.50" x2="105.10" y2="438.50"/><line x1="97.50" y1="371.60" x2="105.10" y2="371.60"/><line x1="97.50" y1="304.70" x2="105.10" y2="304.70"/><line x1="97.50" y1="237.80" x2="105.10" y2="237.80"/><line x1="97.50" y1="170.90" x2="105.10" y2="170.90"/><line x1="97.50" y1="104.00" x2="105.10" y2="104.00"/></g><g font-size="24" fill="#000"><text x="116.70" y="605.30" text-anchor="middle" textLength="36.8" lengthAdjust="spacingAndGlyphs">0.0</text><text x="261.76" y="605.30" text-anchor="middle" textLength="36.8" lengthAdjust="spacingAndGlyphs">0.2</text><text x="406.82" y="605.30" text-anchor="middle" textLength="36.8" lengthAdjust="spacingAndGlyphs">0.4</text><text x="551.88" y="605.30" text-anchor="middle" textLength="36.8" lengthAdjust="spacingAndGlyphs">0.6</text><text x="696.94" y="605.30" text-anchor="middle" textLength="36.8" lengthAdjust="spacingAndGlyphs">0.8</text><text x="842.00" y="605.30" text-anchor="middle" textLength="36.8" lengthAdjust="spacingAndGlyphs">1.0</text><text x="88.10" y="581.10" text-anchor="end" textLength="36.8" lengthAdjust="spacingAndGlyphs">0.0</text><text x="88.10" y="514.20" text-anchor="end" textLength="36.8" lengthAdjust="spacingAndGlyphs">0.2</text><text x="88.10" y="447.30" text-anchor="end" textLength="36.8" lengthAdjust="spacingAndGlyphs">0.4</text><text x="88.10" y="380.40" text-anchor="end" textLength="36.8" lengthAdjust="spacingAndGlyphs">0.6</text><text x="88.10" y="313.50" text-anchor="end" textLength="36.8" lengthAdjust="spacingAndGlyphs">0.8</text><text x="88.10" y="246.60" text-anchor="end" textLength="36.8" lengthAdjust="spacingAndGlyphs">1.0</text><text x="88.10" y="179.70" text-anchor="end" textLength="36.8" lengthAdjust="spacingAndGlyphs">1.2</text><text x="88.10" y="112.80" text-anchor="end" textLength="36.8" lengthAdjust="spacingAndGlyphs">1.4</text></g><text x="490.90" y="636.80" text-anchor="middle" font-size="23.5" textLength="259" lengthAdjust="spacingAndGlyphs">temporal coverage (<tspan font-style="italic">ᾱ</tspan>)</text><text transform="translate(36.10 320.00) rotate(-90)" x="0" y="0" text-anchor="middle" font-size="23.5" textLength="339" lengthAdjust="spacingAndGlyphs">representativity function ( <tspan font-style="italic">f</tspan><tspan font-style="italic" font-size="16.5" dy="3.5">t</tspan><tspan dy="-3.5"> )</tspan></text><rect x="1099.50" y="71.30" width="771.70" height="500.90" fill="none" stroke="#000" stroke-width="1.6"/><g stroke="#000" stroke-width="1.5"><line x1="1110.90" y1="572.20" x2="1110.90" y2="579.80"/><line x1="1255.94" y1="572.20" x2="1255.94" y2="579.80"/><line x1="1400.98" y1="572.20" x2="1400.98" y2="579.80"/><line x1="1546.02" y1="572.20" x2="1546.02" y2="579.80"/><line x1="1691.06" y1="572.20" x2="1691.06" y2="579.80"/><line x1="1836.10" y1="572.20" x2="1836.10" y2="579.80"/><line x1="1091.90" y1="572.20" x2="1099.50" y2="572.20"/><line x1="1091.90" y1="505.30" x2="1099.50" y2="505.30"/><line x1="1091.90" y1="438.40" x2="1099.50" y2="438.40"/><line x1="1091.90" y1="371.50" x2="1099.50" y2="371.50"/><line x1="1091.90" y1="304.60" x2="1099.50" y2="304.60"/><line x1="1091.90" y1="237.70" x2="1099.50" y2="237.70"/><line x1="1091.90" y1="170.80" x2="1099.50" y2="170.80"/><line x1="1091.90" y1="103.90" x2="1099.50" y2="103.90"/></g><g font-size="24" fill="#000"><text x="1110.90" y="605.20" text-anchor="middle" textLength="36.8" lengthAdjust="spacingAndGlyphs">0.0</text><text x="1255.94" y="605.20" text-anchor="middle" textLength="36.8" lengthAdjust="spacingAndGlyphs">0.2</text><text x="1400.98" y="605.20" text-anchor="middle" textLength="36.8" lengthAdjust="spacingAndGlyphs">0.4</text><text x="1546.02" y="605.20" text-anchor="middle" textLength="36.8" lengthAdjust="spacingAndGlyphs">0.6</text><text x="1691.06" y="605.20" text-anchor="middle" textLength="36.8" lengthAdjust="spacingAndGlyphs">0.8</text><text x="1836.10" y="605.20" text-anchor="middle" textLength="36.8" lengthAdjust="spacingAndGlyphs">1.0</text><text x="1082.50" y="581.00" text-anchor="end" textLength="36.8" lengthAdjust="spacingAndGlyphs">0.0</text><text x="1082.50" y="514.10" text-anchor="end" textLength="36.8" lengthAdjust="spacingAndGlyphs">0.2</text><text x="1082.50" y="447.20" text-anchor="end" textLength="36.8" lengthAdjust="spacingAndGlyphs">0.4</text><text x="1082.50" y="380.30" text-anchor="end" textLength="36.8" lengthAdjust="spacingAndGlyphs">0.6</text><text x="1082.50" y="313.40" text-anchor="end" textLength="36.8" lengthAdjust="spacingAndGlyphs">0.8</text><text x="1082.50" y="246.50" text-anchor="end" textLength="36.8" lengthAdjust="spacingAndGlyphs">1.0</text><text x="1082.50" y="179.60" text-anchor="end" textLength="36.8" lengthAdjust="spacingAndGlyphs">1.2</text><text x="1082.50" y="112.70" text-anchor="end" textLength="36.8" lengthAdjust="spacingAndGlyphs">1.4</text></g><text x="1485.35" y="636.70" text-anchor="middle" font-size="23.5" textLength="259" lengthAdjust="spacingAndGlyphs">temporal coverage (<tspan font-style="italic">ᾱ</tspan>)</text><text transform="translate(1030.50 319.95) rotate(-90)" x="0" y="0" text-anchor="middle" font-size="23.5" textLength="339" lengthAdjust="spacingAndGlyphs">representativity function ( <tspan font-style="italic">f</tspan><tspan font-style="italic" font-size="16.5" dy="3.5">t</tspan><tspan dy="-3.5"> )</tspan></text><rect x="105.10" y="776.10" width="771.60" height="500.90" fill="none" stroke="#000" stroke-width="1.6"/><g stroke="#000" stroke-width="1.5"><line x1="116.70" y1="1277.00" x2="116.70" y2="1284.60"/><line x1="261.76" y1="1277.00" x2="261.76" y2="1284.60"/><line x1="406.82" y1="1277.00" x2="406.82" y2="1284.60"/><line x1="551.88" y1="1277.00" x2="551.88" y2="1284.60"/><line x1="696.94" y1="1277.00" x2="696.94" y2="1284.60"/><line x1="842.00" y1="1277.00" x2="842.00" y2="1284.60"/><line x1="97.50" y1="1277.00" x2="105.10" y2="1277.00"/><line x1="97.50" y1="1210.10" x2="105.10" y2="1210.10"/><line x1="97.50" y1="1143.20" x2="105.10" y2="1143.20"/><line x1="97.50" y1="1076.30" x2="105.10" y2="1076.30"/><line x1="97.50" y1="1009.40" x2="105.10" y2="1009.40"/><line x1="97.50" y1="942.50" x2="105.10" y2="942.50"/><line x1="97.50" y1="875.60" x2="105.10" y2="875.60"/><line x1="97.50" y1="808.70" x2="105.10" y2="808.70"/></g><g font-size="24" fill="#000"><text x="116.70" y="1310.00" text-anchor="middle" textLength="36.8" lengthAdjust="spacingAndGlyphs">0.0</text><text x="261.76" y="1310.00" text-anchor="middle" textLength="36.8" lengthAdjust="spacingAndGlyphs">0.2</text><text x="406.82" y="1310.00" text-anchor="middle" textLength="36.8" lengthAdjust="spacingAndGlyphs">0.4</text><text x="551.88" y="1310.00" text-anchor="middle" textLength="36.8" lengthAdjust="spacingAndGlyphs">0.6</text><text x="696.94" y="1310.00" text-anchor="middle" textLength="36.8" lengthAdjust="spacingAndGlyphs">0.8</text><text x="842.00" y="1310.00" text-anchor="middle" textLength="36.8" lengthAdjust="spacingAndGlyphs">1.0</text><text x="88.10" y="1285.80" text-anchor="end" textLength="36.8" lengthAdjust="spacingAndGlyphs">0.0</text><text x="88.10" y="1218.90" text-anchor="end" textLength="36.8" lengthAdjust="spacingAndGlyphs">0.2</text><text x="88.10" y="1152.00" text-anchor="end" textLength="36.8" lengthAdjust="spacingAndGlyphs">0.4</text><text x="88.10" y="1085.10" text-anchor="end" textLength="36.8" lengthAdjust="spacingAndGlyphs">0.6</text><text x="88.10" y="1018.20" text-anchor="end" textLength="36.8" lengthAdjust="spacingAndGlyphs">0.8</text><text x="88.10" y="951.30" text-anchor="end" textLength="36.8" lengthAdjust="spacingAndGlyphs">1.0</text><text x="88.10" y="884.40" text-anchor="end" textLength="36.8" lengthAdjust="spacingAndGlyphs">1.2</text><text x="88.10" y="817.50" text-anchor="end" textLength="36.8" lengthAdjust="spacingAndGlyphs">1.4</text></g><text x="490.90" y="1341.50" text-anchor="middle" font-size="23.5" textLength="259" lengthAdjust="spacingAndGlyphs">temporal coverage (<tspan font-style="italic">ᾱ</tspan>)</text><text transform="translate(36.10 1024.75) rotate(-90)" x="0" y="0" text-anchor="middle" font-size="23.5" textLength="339" lengthAdjust="spacingAndGlyphs">representativity function ( <tspan font-style="italic">f</tspan><tspan font-style="italic" font-size="16.5" dy="3.5">t</tspan><tspan dy="-3.5"> )</tspan></text><rect x="1099.50" y="776.10" width="771.70" height="500.90" fill="none" stroke="#000" stroke-width="1.6"/><g stroke="#000" stroke-width="1.5"><line x1="1110.50" y1="1277.00" x2="1110.50" y2="1284.60"/><line x1="1255.48" y1="1277.00" x2="1255.48" y2="1284.60"/><line x1="1400.46" y1="1277.00" x2="1400.46" y2="1284.60"/><line x1="1545.44" y1="1277.00" x2="1545.44" y2="1284.60"/><line x1="1690.42" y1="1277.00" x2="1690.42" y2="1284.60"/><line x1="1835.40" y1="1277.00" x2="1835.40" y2="1284.60"/><line x1="1091.90" y1="1277.00" x2="1099.50" y2="1277.00"/><line x1="1091.90" y1="1210.10" x2="1099.50" y2="1210.10"/><line x1="1091.90" y1="1143.20" x2="1099.50" y2="1143.20"/><line x1="1091.90" y1="1076.30" x2="1099.50" y2="1076.30"/><line x1="1091.90" y1="1009.40" x2="1099.50" y2="1009.40"/><line x1="1091.90" y1="942.50" x2="1099.50" y2="942.50"/><line x1="1091.90" y1="875.60" x2="1099.50" y2="875.60"/><line x1="1091.90" y1="808.70" x2="1099.50" y2="808.70"/></g><g font-size="24" fill="#000"><text x="1110.50" y="1310.00" text-anchor="middle" textLength="36.8" lengthAdjust="spacingAndGlyphs">0.0</text><text x="1255.48" y="1310.00" text-anchor="middle" textLength="36.8" lengthAdjust="spacingAndGlyphs">0.2</text><text x="1400.46" y="1310.00" text-anchor="middle" textLength="36.8" lengthAdjust="spacingAndGlyphs">0.4</text><text x="1545.44" y="1310.00" text-anchor="middle" textLength="36.8" lengthAdjust="spacingAndGlyphs">0.6</text><text x="1690.42" y="1310.00" text-anchor="middle" textLength="36.8" lengthAdjust="spacingAndGlyphs">0.8</text><text x="1835.40" y="1310.00" text-anchor="middle" textLength="36.8" lengthAdjust="spacingAndGlyphs">1.0</text><text x="1082.50" y="1285.80" text-anchor="end" textLength="36.8" lengthAdjust="spacingAndGlyphs">0.0</text><text x="1082.50" y="1218.90" text-anchor="end" textLength="36.8" lengthAdjust="spacingAndGlyphs">0.2</text><text x="1082.50" y="1152.00" text-anchor="end" textLength="36.8" lengthAdjust="spacingAndGlyphs">0.4</text><text x="1082.50" y="1085.10" text-anchor="end" textLength="36.8" lengthAdjust="spacingAndGlyphs">0.6</text><text x="1082.50" y="1018.20" text-anchor="end" textLength="36.8" lengthAdjust="spacingAndGlyphs">0.8</text><text x="1082.50" y="951.30" text-anchor="end" textLength="36.8" lengthAdjust="spacingAndGlyphs">1.0</text><text x="1082.50" y="884.40" text-anchor="end" textLength="36.8" lengthAdjust="spacingAndGlyphs">1.2</text><text x="1082.50" y="817.50" text-anchor="end" textLength="36.8" lengthAdjust="spacingAndGlyphs">1.4</text></g><text x="1485.35" y="1341.50" text-anchor="middle" font-size="23.5" textLength="259" lengthAdjust="spacingAndGlyphs">temporal coverage (<tspan font-style="italic">ᾱ</tspan>)</text><text transform="translate(1030.50 1024.75) rotate(-90)" x="0" y="0" text-anchor="middle" font-size="23.5" textLength="339" lengthAdjust="spacingAndGlyphs">representativity function ( <tspan font-style="italic">f</tspan><tspan font-style="italic" font-size="16.5" dy="3.5">t</tspan><tspan dy="-3.5"> )</tspan></text><text x="268.7" y="38.2" font-size="24.6" textLength="404.5" lengthAdjust="spacingAndGlyphs">(a)  one grid cell random sampling</text><text x="1263.3" y="38.2" font-size="24.6" textLength="386.2" lengthAdjust="spacingAndGlyphs">(b)  randomly sampling 100 cells</text><text x="243.9" y="742.6" font-size="24.6" textLength="442.9" lengthAdjust="spacingAndGlyphs">(c)  one grid cell systematic sampling</text><text x="1251.5" y="742.6" font-size="24.6" textLength="445.3" lengthAdjust="spacingAndGlyphs">(d)  systematically sampling 100 cells</text><line x1="528.2" y1="100.7" x2="574.5" y2="100.7" stroke="#000" stroke-opacity="0.2" stroke-width="1.2"/><text x="594.0" y="108.7" font-size="23.5" textLength="261" lengthAdjust="spacingAndGlyphs">individual experiments</text><line x1="525.7" y1="135.8" x2="577.0" y2="135.8" stroke="#008000" stroke-width="4.5"/><text x="594.0" y="143.8" font-size="23.5" textLength="246" lengthAdjust="spacingAndGlyphs">mean <tspan font-style="italic">f</tspan><tspan font-style="italic" font-size="16.5" dy="4">t</tspan><tspan dy="-4"> experimental</tspan></text><line x1="525.7" y1="170.8" x2="577.0" y2="170.8" stroke="#0000ff" stroke-width="4.5"/><text x="594.0" y="178.8" font-size="23.5" textLength="241.4" lengthAdjust="spacingAndGlyphs">theoretical <tspan font-style="italic">f</tspan><tspan font-style="italic" font-size="16.5" dy="4">t</tspan><tspan dy="-4"> random</tspan></text><line x1="1536.3" y1="101.8" x2="1586.6" y2="101.8" stroke="#008000" stroke-width="4.5"/><text x="1604.7" y="109.8" font-size="23.5" textLength="245.5" lengthAdjust="spacingAndGlyphs">mean <tspan font-style="italic">f</tspan><tspan font-style="italic" font-size="16.5" dy="4">t</tspan><tspan dy="-4"> experimental</tspan></text><line x1="1536.3" y1="137.0" x2="1586.6" y2="137.0" stroke="#0000ff" stroke-width="4.5"/><text x="1604.7" y="145.0" font-size="23.5" textLength="240.9" lengthAdjust="spacingAndGlyphs">theoretical <tspan font-style="italic">f</tspan><tspan font-style="italic" font-size="16.5" dy="4">t</tspan><tspan dy="-4"> random</tspan></text><line x1="528.2" y1="805.3" x2="574.5" y2="805.3" stroke="#000" stroke-opacity="0.2" stroke-width="1.2"/><text x="594.0" y="813.3" font-size="23.5" textLength="261" lengthAdjust="spacingAndGlyphs">individual experiments</text><line x1="525.7" y1="840.3" x2="577.0" y2="840.3" stroke="#008000" stroke-width="4.5"/><text x="594.0" y="848.3" font-size="23.5" textLength="246" lengthAdjust="spacingAndGlyphs">mean <tspan font-style="italic">f</tspan><tspan font-style="italic" font-size="16.5" dy="4">t</tspan><tspan dy="-4"> experimental</tspan></text><line x1="525.7" y1="875.4" x2="577.0" y2="875.4" stroke="#0000ff" stroke-width="4.5"/><text x="594.0" y="883.4" font-size="23.5" textLength="241.4" lengthAdjust="spacingAndGlyphs">theoretical <tspan font-style="italic">f</tspan><tspan font-style="italic" font-size="16.5" dy="4">t</tspan><tspan dy="-4"> random</tspan></text><line x1="1536.3" y1="806.8" x2="1586.6" y2="806.8" stroke="#008000" stroke-width="4.5"/><text x="1604.7" y="814.8" font-size="23.5" textLength="245.5" lengthAdjust="spacingAndGlyphs">mean <tspan font-style="italic">f</tspan><tspan font-style="italic" font-size="16.5" dy="4">t</tspan><tspan dy="-4"> experimental</tspan></text><line x1="1536.3" y1="841.7" x2="1586.6" y2="841.7" stroke="#800080" stroke-width="4.5"/><text x="1604.7" y="849.7" font-size="23.5" textLength="155.2" lengthAdjust="spacingAndGlyphs">mean fitted <tspan font-style="italic">f</tspan><tspan font-style="italic" font-size="16.5" dy="4">t</tspan><tspan dy="-4"></tspan></text><line x1="1536.3" y1="876.6" x2="1586.6" y2="876.6" stroke="#0000ff" stroke-width="4.5"/><text x="1604.7" y="884.6" font-size="23.5" textLength="240.9" lengthAdjust="spacingAndGlyphs">theoretical <tspan font-style="italic">f</tspan><tspan font-style="italic" font-size="16.5" dy="4">t</tspan><tspan dy="-4"> random</tspan></text></svg></body></html>
